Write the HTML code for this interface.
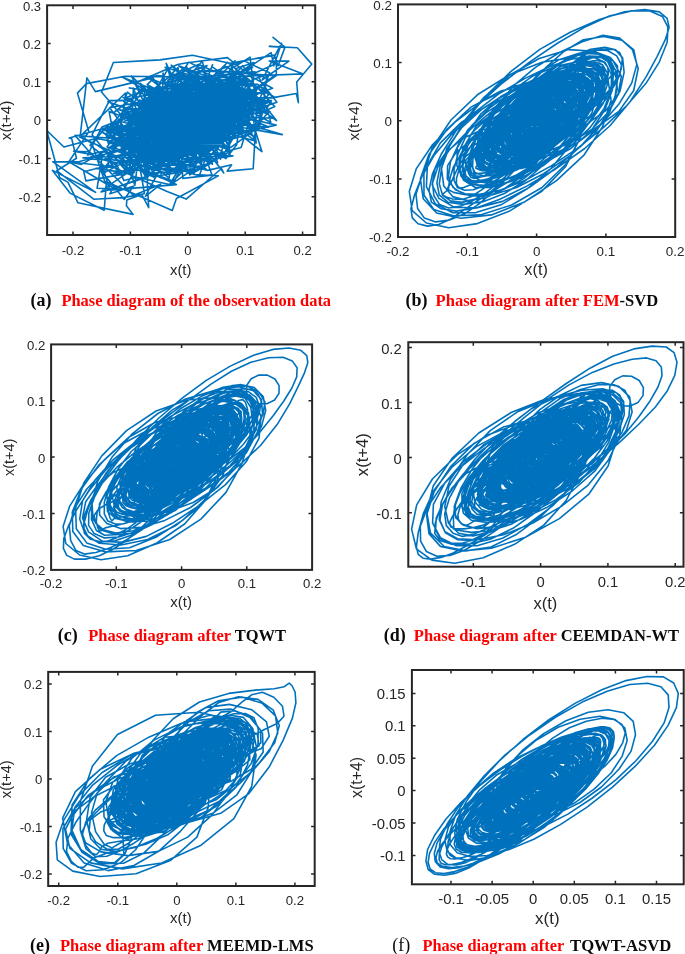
<!DOCTYPE html>
<html lang="en">
<head>
<meta charset="utf-8">
<title>Phase diagrams</title>
<style>
html,body{margin:0;padding:0;background:#fff;}
body{width:685px;height:954px;overflow:hidden;}
svg{display:block;filter:opacity(1);}
text{white-space:pre;}
</style>
</head>
<body>
<svg width="685" height="954" viewBox="0 0 685 954">
<rect width="685" height="954" fill="#fff"/>
<g id="panel-a">
<clipPath id="clip-a"><rect x="47.1" y="5.3" width="268.1" height="229.7"/></clipPath>
<path clip-path="url(#clip-a)" d="M259.8 111.7l-19.6 5.8 -1.2 10.6 -15.2 25.9 -23.3-.7 -8.7-4.2 -16 11.7 -38.8 .3 1.1-4.4 6.3 36.7 -17.6 6.7 -.4 5.6 6.7 8.7 -55.1-11.6 -10.1-20.7 -8.2-4.3 -13.1-47.6 17.3 16.8 31-8.3 6.5 .5 71.4 16.8 -25.2-21.5 12.3 4.5 -.6-19.1 -25.2-.9 32.1-.3 -6.7 14.5 28.6 1.4 1.4-2 .4-7.6 -21.6-5.5 -2.1-16.1 3 6.4 11.3-14.7 8.3-17.9 24.1 12.6 -9.7-18.3 22.1 28.4 26.8 2.6 -18.8 11.8 27.4-14.4 -42.5-7.5 -3.9-3.7 -17.8 11.4 21.7-26.7 11.2-2.1 5.6-10.6 -17.2 16.9 40.1-2.1 3.2 6.4 15.8 20.3 -25.3 8.7 3.1-5.8 -9.5-4.4 -30.5 3 -13-1.6 8.7 2.4 6.5 27.6 -4.5 17.3 2.5-2.3 -3.7-7.9 -41.3 3.5 -25.9 29.3 3.5-21.2 11.7-6 -5.2 15.9 -43.9-14 31.8-14.6 8.9-20.2 -23.7-4.4 20.9-6.6 21.9 1.4 30.3 7.8 6.5-17.4 10 16.1 -2.2 7.4 -11.6 3.6 26 4.5 -24-9.9 -11.2 7 -5.3 7 -6.7-15.1 14.7 1.5 -10.5 2 -10.4 13.9 22.5-7.3 -2.1-14.8 -3.1 7 -20.9-9.4 11-9.1 22.2-.2 -10.5 30.4 14.1-.6 13.7 16.3 .3-8 -45.6 1.8 .9-.9 -24.5 3.8 12.1 1.5 -2.7 4.1 1.3 4.4 -5.8 7.7 -2.2-11 -6.1-18.2 -6.7 13.3 -11.4-7.4 16.4 12.4 27.3-4.6 -19.9 9.8 11-4.8 -18.4-11.3 6.8-28.8 -14.7-23.4 7.2 7.8 16.9 4.2 43.2-5 35.1 18.3 -11.6 .6 -6.4 1.3 7.5-1.4 -27.4-3.6 -1-18.7 -1.8 6.5 2 3.4 5.4 1.5 28 10.1 -9.7 11.6 -5.1 25.3 -2.3 13.9 -15-36.3 -17.5-2.2 -38-30.3 -20.8-2.4 54.5 7.1 3.3-1.7 45.4 30.8 3.6-14.9 -10.7-8.4 2.6-20.2 -46.1-7.4 22.3 3.7 12.6 11.7 30.2 12.2 11.1 3 -5.5 9.8 -17.6-15.5 -18.3 30.2 -4.5-9.7 -14.6-1.2 23.2 14.6 -45.2-10.8 14.5 4.2 1.8 16.6 -22 3.7 16.2-17.4 -6.2 7.7 -24.9 13.1 -5.5 1.7 26.1-6.3 -11.6-20.6 -19.6 4.7 -2.5-20.7 9.4-10 30.8 16.2 -7-19.4 31-4.7 15 22.1 -24.3 3.4 29.1-26.7 7-7.6 -33 4.5 -5.1 3.1 40-1.1 11.3 26.8 -6.8-9.7 -4.6 13 1.6-11.3 -40.1 20.6 14.6-2.2 -19.5 1.2 16.9 27.3 -30.9-1.3 3.4-5 -1.9-16.8 -40.8-3.1 1.9-9.7 7.5-6.9 25.1 7.5 4.7 18 14.6 19.2 10.2 6.9 -11.2-28.5 -27 10.1 -28.7-11.2 -10.4-19.3 42.8 12.3 -15.1-3.4 16.7 11.7 28.9-10.4 -18.4 3.7 5.1-19.7 -17.5 1.2 15.5-17.3 -5.6 6.6 29.7 1.2 -1.9-7.7 26-8.3 -9.9 19.2 -1.9 16.7 11.6 7.2 12.4-7.9 -28.8 2.6 -24.9-20 -10.8-15.1 11.8 34.7 -3.9-5.4 30 16.6 22.6 .7 -52.1 11.3 8.1 14.4 -24.8 7.1 -1 12.7 -17-13.4 -21.6-23.3 -10.6-.2 -19.1-9.8 20.2 13.2 34.8-7.3 .4 24.6 14.7-7.7 -19.8 .5 11 14.9 -36.9-27.1 11.4 7.1 -.7-36.1 -22.3 10.7 40.6 7.4 -10.6-.1 54.1-4.7 -16 4.6 -11.2-20.7 .2 17.8 7 12 -6.8-3.5 31-11.7 -26.8 4 -17.9-2.2 5.3-12.8 17.5-1.3 -6 6.6 3.2-9.4 19.3-16.1 1.9-9.8 -9.8-8 14 17.4 24.1-4.9 14.7 13 12.1 15.2 -26.2-21.1 7.4-20.9 -19.5 14.8 -22.8 26 31.6 17.1 31.4-2.4 -22.2-15.2 -39 12.5 -25.6-23.9 3.7 9.7 22.7-3.3 -18.8 3.2 35.9 12.1 -14.5-11.9 4.8 9.5 -4.8-13 -18.1-3.8 17.8 13.5 -14.2-3.8 19.5 1.2 5.7-6.3 -20.2 3.3 5.6 25 -1.8-8.3 9.5 22.5 -5-14 -37.4-14.2 12.4-21 -33.7 .5 21.1-13.3 21.1 13.8 31.6 4.8 -.8 24.9 20-10.2 -20.8-18.8 -7.1 11.7 -37.4 4.6 15.3 17.3 28.2 7.5 -17.5 23.3 -6.9-28.2 -25.9 .2 -11.3 6.5 -34.8-17.3 42.1-19.9 -.3 6.3 -9.7 4.2 25.9-18.4 29.9 37.7 -9.5-13 -6.3 20 27.6-2.6 -56.5 15 19.5 10.6 -30-23.2 3.9 2.7 -22.5-19.3 -15.8-5.4 34.7 30 -4-30.7 28.9 8.2 8.1 15.3 -45-4.9 46.1-16.8 -12.3-10.3 -23 10.2 7.3 11.3 25.3-14.5 15.3 14.3 -15.3-20.3 -16.9 9.4 21.8-26.5 -21.4 3.7 30.3-3.4 -14 1.9 39.7-7.2 -5.6 6.3 5.2 1.6 -2.9 9.8 10.8-17.5 -9.4 18 -2.4 19.5 -14.7 1.5 26.2 1.6 -27-8 -29.2-19.2 -2.2 2.6 -2.4 9.2 11.9 5.8 28.8-27.4 -3.9 30 -13.7-14.4 -8.7-12.5 41 11.1 -45-2.8 21.6-10.9 18.7-5.2 -16.6-15.2 4.2 6.5 16.3-14.4 7.8-5.7 22.8 14.1 -9.7 4.7 21.6 1.2 8.5 8.5 -21.2 22.8 -7 6.2 -1.8-1.1 -12.7 18.1 -34.2-21 -9.2 6.6 1.5-19.8 -27.1 21 31.6-21 -10 24.5 29.7-2.8 -31.4 11.4 31.5 17.9 -36.8-25.7 4.1 13.3 -17 4 -26.8-18.5 38.6 19.8 -20 2.5 -6.1-2.4 27.8-37.5 -29.7 16.8 -3.8-9.1 3.6 11.9 56.2-3.2 -25.1 7.6 13.6-.5 -17.8-1.5 4.8-33.9 -11.4-1.7 .7-26.5 2.2 11.4 50.9 1.4 2.5-.3 39.7 7.8 -17 7.2 -2.2 14.8 .6 15.2 -11.8-4.6 -10.7-3.8 -22.2-4.5 -22.8-7.8 6.9 20.8 5.7-3.9 6.7 15.6 11.7-5.6 -31.1 1.4 5.7 2.7 -23.3-12.2 8.3-10.9 -2-18.2 -4 3.3 18.2 .1 16.3 4.3 27.3 39.7 -5-.7 -.1-16 -6.4-26.7 -59.4-2.5 .9-5.2 24-12.7 40.1 24.1 3.7 11.3 7.8 20.2 19-5.3 -36.2 13.3 -16.9-21.7 -30.2-16.9 8-21.5 -20 8.6 32.5 9.2 25.3 7.1 32.3 2.1 -12.9 12.5 -13.7-.4 -10.7-14.6 -3.2-9 -18.7 2.4 .5 1.3 21.9 13 13.6 4.1 -3.7-9.6 -1.9-5.3 -19.4-9.4 -6.2-1.9 14.3 3.4 8 5 14.1 14 2.8-17.5 -5.1 6.6 -7.5-17.9 -20.9 26.7 26.2 11 -9.9-16.2 26.9 6.1 -40.1 12.6 -16.5-7.9 24.4-1 -9.2 8.9 -18.9-17.2 11.8 11.7 1.6 2.2 -13.4-2.3 25.7-12.4 -17.4 28.7 -3.4-13.5 3.4 4.3 18.6 2.2 -42.9-30.3 20.2 9.1 -6.5 7 -3.2-9.6 45.3 6.8 -13.6 17.5 -10.5-23.2 14.3 22.2 -10.1-6.8 -26.2 13.1 34.7-6.1 -33.2 20 10.2-4.1 -19.7 18.4 9.2-11.4 -30 4.2 6.1 .8 -27.5-1.8 17.1 2.9 -6.4 2.9 -1.1-5.1 2.6 10.2 -4.3-7.1 -4.3-2.8 7.7 11.3 -15.3-18 10.6-25.2 4.2 1.4 -17-22.7 27-5.1 37.7-6.1 -1.9-9.8 34 3.8 7.6-12 9-3.3 14.8 10 -5.8-16.9 18.1-11.3 4.9 39.3 -14.9 27.9 25.2 5.1 17 5.2 -58.8-10.3 -42-15.2 -7.6-19.1 -7.7-26.7 15.3 33.1 22.9-12.5 28.5 32.5 40.2 1.9 -49.6-2.9 18.6-2.9 -48.7 24.6 -2.8-5 4.3 4.1 4.3-8.3 -36.9 7 7.6-3.8 -6.2 17.4 12.5-13 -10.5-12.7 5.7 12.9 -26-29.3 19.4-2.8 19.1-3.3 -19.4 4.8 43.9 15 4.2 27 5 15.6 -7.2-20.7 -22.5-13.2 -40.5 .6 -23.4-19.2 31.1-3.3 19.8-4.2 -1 20.5 28.8-.1 4.9 11.6 6.4 6.1 -30.7-18.1 .1-4.9 -17.4 19.1 -9.2-27.1 27.2-4.1 7.3 3.5 -28.6 15.5 40.6-7.9 6.1 2.7 -5.2 .9 -23.3 4.3 12-11.2 -4.1 1.7 -1.4-6.8 -6.4-2.3 16.8-3.4 -2.6 8.5 10.2-4.8 3.5 6.9 5-33.9 -12.7 23.6 7.2-5.7 -10.3-9.7 50.8-3.6 -35.4 32.6 8.5-1 14.5-6.4 5.5 25.4 -48.9-16.2 1.5-8.4 9.6 17.8 -38.1-20.5 24.3 22.1 12.7-10.4 -26.7 21.8 30.6-8.2 -33 14.8 15.6-1.4 -32.7 7.1 12.3-32.7 -22.3-.1 2.1-19.3 -10.6-12.2 49 20.2 .2 21 28.9-24.4 18.3 3.2 -30.3 15.4 -31.5-7.2 36.6-11.9 -4.8 27.1 -23.1 20.7 10.8 6.8 17.9-5.4 -40.7-10.4 -31-9 -10.2-2.6 8.1-6 15.6-9.2 13.5 16.9 3.9-3.3 8.9 13 13.8 1.9 -25.2-6.2 4.8 18.1 -19.4-29.6 -2.8 11.7 9.2-9.7 -27.1-9.9 44.3 9.8 -17.4 1.8 14.5 0 14.8-12 -14.6-9.9 -2.7 2.5 -.1-11 18 5.4 14.9-21.8 -3.8 23.6 16.4-.3 -8 24.8 32.6-3.8 -35.3-21.4 .4-1.5 -37.1 9.6 5.7 23 32.1-11.3 2.2 21.8 -14.3-5.2 -34.5 13.6 16.8-8.7 -32.6 0 7.8-52.9 -20.4-20 13.1 27.5 0-17.2 79.2 18.2 30.1 22.3 -41.3-13.8 25.8 18.2 -27.3-28.5 -33.5-.1 20.8-17 -27.2-20.5 42.6 45.7 .1 3.5 25.5 1.3 30.7-4 -68.5-8.8 -5.2-31 -2 5.1 6.1 5 13.2-3.3 46.4 20.9 -7.6-1.5 -7.6 1.8 5.1 8.7 -31.3 4 2.1 11.1 -2.6 24.5 -13.2 11.8 -5.8 15.9 -16.7-5.3 -36.7 3.3 -17.8-18.8 -23.7 3.9 7.8 3.4 -4.8-6.8 28.1-13.7 -5.9 11.6 -5.1 20.4 10.2-10.4 20.6 14.3 -17.4-8 -30.6-31.1 15.6-21.7 -21.3-24.9 11.9-29.6 46.6-2.6 32.5-4.6 37.4 8 44.4-8.2 3.8 10.6 6.9-18.6 -12-9.7 12.3 10.1 -15.9-1.1 27.9 1.3 14.5 16.4 -15.1 17.9 1.7 20.6 -2.1-9.1 -24.5 4.4 -26.8 0 -30.9-11.5 13.7 1.1 -6.7 7.2 .1 12.6 17.3 25.5 -1.8 11.9 -10.8 13.9 -18.9-11.9 -38.2-8.2 -17.8-.5 -20.9 10.8 17.9-13 12.3 11.7 .8 .4 -16.2 19.3 19.5-19.2 -17.6 4.4 -.6 24.2 -28.9 10.4 28.7-9.6 -6.5-11 -36.3-15.1 -15.6 3.7 14.4-28.1 16.6-6.4 22.5-26.8 -5.5-10.9 42-18.3 9.6-1.7 40.2-5.2 16.4 13 27.3-17.9 2.7 13.2 7.7-22.7 -19.4 36.8 26.8-18.9 -19.7 0 34 12.8 -55.2 2 28.4-12.3 -.1 12.1 -19.2 13.1 -3 6.6 18.4-7.1 -18.1-9.9 -19.7 27.6 -9.8-6 10.6 2.1 14.9 21.5 -41.5 12.8 9.2-9.9 -3.3 11.5 -32.2-13.3 -19.1-8.1 14.8 12.1 -17.2 17.4 19.8 23.8 12.3 .9 -18.3-5.5 -26-18.7 -35.6-18.8 -1.5-1.6 8.4 2.8 28-3.4 28.2-1.2 2.3-7.5 -4.2 8.2 5.1-27.5 1.8-2.9 11.2-2.9 -12.3 32.5 41.2 15.1 4.4 9.1 4.4-9.7 -48.7-7 -22.6 9.8 -13.6-7.2 14.5-18.2 10.5 .4 -14.8-4.3 10.8-15.8 27.3 2.9 -.6 13.2 6.5 12.3 23.6-2.3 -4.3 22.1 -19.7 6.2 -18.5 1.5 3.4-24.1 -33.1 1.9 -9.2-26.1 -2.3-4 36.1 12.9 -2.9-18 39.2 26.2 6 1.7 -19.4 5.6 27-14.3 -39.3-1.6 -2.6 .4 -8.3-3.6 21.5 1 2.3 29.2 -.6 4.8 5.4-.3 -1.5 1.9 -43.7-17.2 -7.2 4.2 .5-15.1 -2.9-10.8 25.7 14.5 -6.2-9.8 22.5 38 16.2-9.7 -21.7-4.2 14.6-6.5 -56.9-16.9 14.6 23.7 6.3-24.6 9.8 8.1 25.2 32 -35.4 4.9 36.8-17.9 -12.1 9.7 -47.9-16 -7.4-3.9 26.8 22.1 -14.5-20.4 24 9.4 5.7-32.8 -33 12.4 30.5-6.7 -14 13.2 49.1 15.1 -18.5-4.2 9.9 9.4 -19.8-6 -22.5-26.3 6.3-24.4 -14.2-11.1 9.1-2.7 39.4 7 36.6 7.5 16.6 4.3 4 11 -10.5-29.6 -11.3-5 -6.3 11.9 -16.5 19.6 44.4 25.8 7.4 23.6 -17.9-14.1 -29.2-40.7 -38.8 8.1 -35.3 15.1 21-5 61.1-18.6 -12.1-11.1 -22.7 .4 7.5-3.4 27.9 12.5 16.6 13.3 -.6 2.5 5.2 13.3 -18.8-6.2 -19.9-11 -3.8-5.1 -20 11.8 9.3-8 16.6 38.1 7.6-.9 -17.7 17.6 12-1.4 -57.1-.8 1.3 15.9 -26.3-37.5 2.1 35.3 1.2-24.9 -23.9-14.4 56.2 3.4 -52.9-3.5 37.3 6.7 21.7-11.9 -5.1 21.1 5.1 10.8 -9.9-13.3 17.8-11.3 -31.6-17.3 -16.2 6.3 19.9-9.9 16.9-20.7 26 1.4 -9.4-17.9 14.8 13.3 30.9-.1 -2 5.5 26.8 4.3 -19.9 13.9 .1 8 -8.1-6.4 -6.6-12.1 -20.8-5.8 -12-30.8 9.7 17.8 18.1 8.6 8.6 14.9 46.2 19.7 -26.7-2.4 -12.8 7.8 -22.4 6.9 -29.6-3.5 3.6-13.1 -11.6 9.2 -10.3-4.5 5.3 29.7 19.5 13.5 -13.8 13.3 6.8-11.5 -44.5-8.7 -20.3-4.2 -19.9-24.9 17.3-34.1 13-.2 6.3 4.4 37.3-4.7 51.1 16 .4-3.4 -6.6 13.2 6.9 6.6 -24-18.7 5.2 12 -19.9 .6 -9.8 3.7 28.1-9.3 -18.1-6.8 -.8 20.2 -5.7-8.6 14-6 10.2 6.4 -30.2 1.2 12.9-6.9 9-7 -9.6 23.5 -1.8 11.6 10.2-6 10.6-1.2 -35.3-3.1 -17.4 1.2 9 16.4 1.8-7.4 4.7-4.5 -1.8-3.8 -24.6 1.4 11.1-12.3 6.8-13.6 5.7-19 -2.1 .6 18.4 29.1 20.4-14.4 28.5 25.4 -1-17.6 -43.6-7.8 21.6-19 -38.1 7.3 26.4-7.2 11.7 14.5 28.5-28.9 -10.9-3.2 10.7 17.8 -21.7-16.8 43.3-4.2 4.8-.3 -26.7 15 25.2 6 6.4 15.8 .3 16.1 -22.4 .1 -9 18.5 -23.7-16.1 -24.2-5.7 0 6 -27.8-3.4 24.1-4.7 8.6 4.1 -9.1-1.9 5.2-22.1 7 6.3 -6.1-4.3 2.8 8.2 33.2 24.4 -9.5-3.5 6.4-.5 -12.3-20 -36.6-11 5.3 14.6 .8-4.3 30 23.2 16.5 11.7 -21.9-6.4 6.4-25.4 -34.7 2.4 -17.6-8.7 9.6-12.3 38.1 30.2 -3.6-30.3 12.9 10 18.6-20.4 -45.3 24.2 45.5-17.2 -15.1-1.7 30.6 10.8 -36.3-10.7 25.8 5.5 2.5-15.2 -16.1 31.1 16.1-7.1 -8.4-8.5 22.9 7.2 -46.6 7.8 10.5-24.8 12.8 26.5 -10.9 .6 -11.6 4.5 37.2 2.6 -39.7-5.1 -.9 10.5 -6.8 2.3 -3.9-5.8 7.6 .5 -15.7 .1 -3.4-22.6 8.7 9.5 -.8 7.6 -.1 8.6 33.9 3.7 -14.3 11 -11.4 3.5 -12.9-16.7 -5.6 5.5 -16.4 9.3 -5.2 5.6 25-14.6 -8.2-1.2 -14.1-12.2 -8.2-5.6 21.7-9.1 1.8 25.4 18.4 22.6 8.3 6.1 13.7 5.4 -38.1-13.8 -33.8-32.8 -9.1-17.9 -8.2-1.2 20.7 11.4 49.1 20.1 26.9-4.8 1.7 19.6 -16.9 17.1 -30.2-7.2 7.2-15.3 -29.4 19.1 -25.7-18.7 10.9-24.7 22.9-8.8 -28.6 9.2 28-16.3 37.1 13.1 13.1-20.3 -13.8 18.2 24.5 19.9 -19.6 6.5 30.3-10.4 -27.3-9.4 -29.7 15.4 -9.8 5.9 15.6 7.9 14 12.2 -22.9 12.8 -8.9-20 -11.8 12.3 -18.4-1.5 -19.1 2.7 29.8-5.8 -18.4 16.2 2.3-8.3 -4.1-7.9 8.8-.8 -24.3-10 12.4-18.5 11.9-2.6 1.1-6.4 15.1-10.8 27.7-32.7 3.9 .8 9.6-14.7 16.1 8.2 49 2.6 -1.2 9.6 22.1 24.1 -12.3 5.5 -3.9 18 -14.4 2.4 -36.2-12.7 -8.2 11.4 -26.9-20.7 -3.6-8.9 19.1-11.5 -17.1 35.9 30.9-5.6 13.4 34.5 17.3 1 -53.9 7.6 8.4 8.1 -51.7-11.2 -1.5 11.1 -11.4-6.9 -12-10.8 16.6-6.2 -16.5-26.2 10.3 5.8 16.2 2 9.2-1.5 39.4 13.9 -8.7-.3 -3-24.3 2.1 4 -20.8-12.7 .5 14.4 36.4 16.9 -6 19.5 19.1 .1 -21.6 7 -25.3-2.3 -29.2-34.2 -.2-6 -10.4-2.7 3.3-6.5 51.3-16.3 9 14.2 4 12.9 9.7-3.6 24.5 4.3 -21.3 16.3 -19.3 1.6 5.4 4.4 -6.5-17.6 -24.5 23.3 -2.2-2.3 -6.7-15 26.4-.5 -35 7.8 3.6-16.5 22.3-6.6 .8 5.2 -11.6 1.6 24.7-13.7 9.8 .3 -7.7-12.7 -2.5 0 20.6-9.9 -.5 23.2 19.1 12.2 0 .9 14.9 11.1 -34.8-28.1 -18.4-14.3 -1.2 20.5 -16.7-10 42.1-.6 21.4 14.9 -30.6 4 14.9-6.1 1 8.8 -22.5 4.2 -5.9-22 9.2-17.9 -13.3 15 -6.2-2.4 32.9-28.3 26.8-2.3 -22.4 6 3.6 26 42.4 6 3.4 30.5 -9-18.9 -39 7.9 -8.9 6.2 -45.7-14.5 28.2-9.3 -11.7-3.2 -9.4 8.2 21.8 21.3 14 8.6 4.7-14.5 -12.2-15.2 -31.9 2.4 -12.9-21.6 21.7 13.8 22.7-6.8 -3.5-11.9 32.2 16 -20.5-10.5 10.1 5.5 17.9 2.8 -24 6.6 15.8-6 -8.3 12 -4.3-36.2 -9.9 16.4 9 6.8 -17.9 14.7 54.3 2.7 -24.6 17.3 -10.2-18.1 -22.1 10.6 -4-5.6 -25.9 18.7 27-4.4 -15.8-4.6 8.3 14.2 -27.9 .7 6.6-8.4 6.8-1.2 -21.2 3.7 -1.1-1.9 12.7 13.9 1.7-1.9 -5.6-6.2 2.9-12 -20.9-1.9 2.9-24.5 9.4 10.4 17.9-24.4 2.9-17 36.7-7.7 -15.6 34.4 36.5-1.3 25.6 9.2 11.4-10.7 -51.5-15.4 1.9-8.4 -13.7 .1 16 2.3 23-3.5 12.7 13.5 -.2 19.1 -3.5-4.1 5.3-11.2 -20.3 1.2 -28.6 18.7 6.2-9.9 16.8-5.6 -1.8 5.6 -28-6.4 14.8 20 8.3-13.7 -8.3 30.9 9.5 4 -29.8 2.5 20.5 18.4 -46.4 3.9 -6-19.2 -3.7-10.5 -27.6 4.8 -5.8 3.7 28.8-35.4 15.8-1.2 -7.2 7.9 -5.6-6.7 53 6.2 1.8 7 -11.9-42.2 10.1 7.6 -9.2-18.2 -10.6-7.6 63.3 23.6 -11.4-6.8 27.2 1.7 11.4 8.6 -35.3-.9 10.2 1.2 -2.5-8.1 -12.9 5.8 1.3 15.4 -1.8-13.8 12.1 16.6 -8.6 10.9 -23.1-15.1 20.7-1.7 -25-.5 -16.3 3.5 22.6 23 2.6 1.9 .8 9.1 -5.3 .7 -34.5-17 -2.9 11.3 -13.5 2.1 -1.1-12.7 25.6 21 -17.1 2.4 -3.1-12.6 19.1 8.9 -31.6-5.5 -3.5-11.4 18.8 7.6 -13.3 14.1 8.3-2 17-.3 -11.4-41.6 -21.1-2 2.9-4.9 .6 4.1 62.3 20 3-10.6 7.3-4.2 -6.1-9.2 -29.9 18.3 15.9-11.5 6.2 5.7 13.8 12.6 -27.5-11.1 17.3 3 -8.6-19.2 -18.8 1.4 16.6 23.6 -4.5 13.2 28.9 38.6 -2.3-4.5 -35.3 30.6 -19.7-7.9 -57.9-26.1 6.7 2.1 -45.9-5.4 11.9 2.6 39.1-21.9 -3.2-15.9 8.2 24 -4-21.8 32.8 6 23.9 25.9 -36-13.2 32.7 4.1 -9 4.4 -38.8 16.9 19.8-20.9 -6.1 10 -6.7-16.7 -25.2-3.9 31.3-12.2 -15.1-12.1 25.1-8.8 5.9 8.5 18.3-30.6 18.1 10.4 13.2-1 -12.8-.3 45.9 18 -15.5 7.1 1.3 15.7 .6-7.9 -27 3.9 -10.7-26.4 -23.6 23.3 12-23.2 -5.9-8.5 39.5-3.3 -34.8-8.8 34.7-9.7 12.8 30.1 4.8 1.9 13.2 10.1 14.7-11.5 -45.2 24 -2.8-9.6 -15.2-3.9 17.3 1.7 -36 17.7 14.4 5.5 5.8 12.4 -2.5 8.3 -26.6-12.6 -8.2-7.5 -18.6-24.2 -12.4 3.2 18.8-6.8 11.3-9 36.3 23.8 -4.9-11.7 10.2-7.9 13.6-20 -35.7-14.7 17.5 16.6 11.9 13.5 29.9-3.4 22.1 .5 -25 14.4 -20.1-11.8 5-8.4 -.6-4.3 -21.7-10 17.7 26.3 12.5-1.8 6.5 4.6 15.1 1.3 -39.5 14.2 2.7-3.5 -6.9 12.1 -2 3.9 -21.2 11.7 5.2 13.1 -18.1 1.1 -5.8 .2 -17.6-3.5 -19.5-1.1 -1.8-21 -.3-13.2 5.3-29.5 1.7-4.6 31.3 24.8 19.8 11.9 44.4 5.4 6.8 15.8 -37.2-13.8 -17.8-16.9 -8.2 5.7 -23.5 14.2 20.6 10.2 25.4-18.7 -8.7 39 -21.2-20.2 -15.4 14.6 28.1-27.9 -58.5-23.3 30.4-24 -21.9-12.1 41.8 16.6 34.9 20.7 35.9-37.4 18.2 5.7 -24.9-20.2 -30.9 29.9 55.9-25.1 -8.4 6.3 30.2 2.4 -44.8 29.4 37.6 8.3 -9.4 10.9 -3.7 12.4 -44-27.6 -12.4 11.8 -16.4-10.8 -18.5-8 41.3 6.3 -17.6-10.6 16.1-3 12 27.3 -9.5 17 15.9 1.7 4.5 4.7 -40.8 3.8 -25.6-11.8 -2.4-5.2 -7.2-9.5 -5.7-18.4 17.7-2 7.8 6.7 14.3 .7 27.5-6.3 3.1 .6 -10.1-17.6 -1 2.1 9.4-24 -.9 1.9 26.4 17.3 -3.1 18.8 35.8 19.8 -2.7-10.1 -26-23.4 -28.2 8.4 -29.6 11.1 15.1 5.7 35 15.6 -12.5 4.6 -16.7-13.9 -8.5 32.6 -23.3-27.3 -7 15.6 20.9 3 -48.9-5.2 41-15.6 -23.5-.2 -4.4-32.5 7.8 28.6 23.4-4.3 .2 18.6 48.7 17 -42.8 22.7 6.4-21.3 -27.9-12.4 -25.4-26.4 -34.1-11.6 31.9 11.4 18.6-10.8 39.6 8.4 17.4-14 -17.1 10.2 16.1 7.8 -12.5 17 21-8.6 -15.3-14.7 -11.6-17 -25.6 25.5 12.9-12 22.1 21.8 25.4 2.9 -38.1 10.9 18 7.7 -32.8 6.2 -4.3 2 -16.4-.9 -11.4-16.6 -9.4-.9 -2.9 5 1.2-24.7 24.9 8.1 1.4 12.1 -7.6 3.2 37 6.9 -12 3.4 -18.2-23.4 -4.7 19.8 -10.4-37.2 -5 1.6 34.9 25.4 -29.5 10.3 55.6 14 -2.3-27.8 -38.1-20.1 -15.4-10.2 -21-4.8 41.6-8.4 30.1-22.3 15.4 6.4 7.2 15.8 12.5 21.8 33.4-5.3 -9.5 22.1 -23.7 17.4 -32.6-3.3 7.8 10 -33.1-1.3 -26 24.6 4.9-19.3 -15-12.6 2-13.6 -36.9-1.6 29-5.3 18.8-4.1 20.3 18.3 2.6 3 7.9-25.3 6.1 4.1 -27.5 2.7 -4.5-13 38-4.7 -6.1-16.6 -4.2-6.1 19.6-21.9 7 29.4 24.9 23.6 9.1 3 32.8 7.9 -44 8.9 -35.4 15.8 -4.5 6.8 -11.8-28.6 -13.4-.4 -23.6-27.5 -10.2 16.7 42.9-22.9 .5-3.9 41.3-2.9 -25.1 9.6 34.4 1.2 5.8 2.4 4.3-4.7 -14.3 15.6 -1.8-2.2 -3.7-6.5 7 2.7 -23.3-.8 3.4 9.6 9.7 9.8 -4 7.3 1-13.1 -14.3-20.6 -14.7-3.7 -10.9 19.9 19.6-10.3 30.9 6.2 5.6 .6 -29.9 19.8 15.4-20.7 -9.2 13.8 -.9 3 -29.8 18.7 31-.5 -20.6 2.4 -4.5-27.2 -28 4 .7-20.8 -3.5-1 40.7 9.8 -6-10.7 31.3 23.5 1.4 12.5 -14.7-10.2 16.1-17 -35.2 11.5 -18.8 8.9 15.2-5.4 25.6-.7 -17.3 5.8 -13.3-24.9 8-23.5 1.2 33.6 -8.7-26.4 37.2-4.3 35.3-.5 -50.3 16.2 39.5 12.3 6.4 2.4 .8 15.9 -24.4-10.3 -18.4-2 -3.5 19.3 -23.8-.3 15.4 11.1 2.9 2.6 -28.8 2.7 .4-5.3 -16.6 7.9 -4-29.4 -4.1 36.4 8.1-33.3 -11.8 16.1 44-3.3 -54.5-3.5 49.8 1.6 -24.1-11 4.9 8.4 5.3 5.8 -2.4 25.3 16.5-17.6 -12.6-15.2 -8.7 15.4 -38-18.1 26.5 1.6 22.7-20.6 -23 2.3 27.1-47.4 -2.4-2.4 30.9 9.9 -3.5-2.5 71 28 3.6-28.1 -14.8 5.3 3.7 13.5 -41.9-1.8 42.1-1.8 -8 6.9 -20.2 21.6 2.7-23.4 2.7 10.2 -10.3 10.4 -32.4 16.1 35.2 22.6 -15.3 8.7 -15.7 5.3 -24.2 16.6 -33.8-7.5 -13 3.4 -7.9-17.7 -24.9-6.3 11.2-.7 -5.2 32.3 26.6 1.3 9.5-16.2 1.1-1.2 -48.4 8.8 -2.1-9.1 24.3-6.4 1.9-14.7 -13.2-5.8 13.6 9.1 9.5 3 22.2-8.7 8.5-12.2 -13.6-9.4 -4.4-3.1 13.1-29 18.3-13.2 14-13.8 4.7 21.9 43.3 11.3 19.9-9.8 20.6 11.3 -32.7-12.7 -17-6.2 14.6 19 -16.9 9.4 19.1-9.7 9.3-7.2 -28.5 8.9 -14.1 12.6 14.6-9.7 10.7 11.9 -13.4 1.3 -18.8 7.4 14.6-3 -17.8 11 -2.1-14.1 -11.1 36.4 4.6-6.8 -16.5-4.9 21.2 21 -54.6-15.4 10.2-.7 7.3 17.9 -31.5 4 23.1-5.6 1-16.3 -26.7-8.2 -6-31.2 8.4 3.4 24.3 3.4 12.4-3.5 46.8 4.3 -5.2-3.7 -5 9.4 5.2-6.2 -6.5-14.5 5.6-9.1 -14.1 17.7 9.3 3.4 21.8-16.2 13.6 28 -26.6 2.7 -5.1 44 24.3 1.4 -41.9 22.6 -4.1 11.9 -65.9-28.7 -2.2 28.6 -33.8-16.9 -17.9-23 43.1 21.9 -42.9-30.6 25.3 .2 34.6-9.8 -33-15.2 45.9-43.9 -.3 5.1 14.7-6 22.7-5.1 65.9-4.4 -7.7 1.8 9.1 24.3 7.6-4.7 6.6 19.5 -2.7 .7 -36.5 31.3 7.1 19.6 -29.2 3.3 -1-15.9 -46.9-6 -29.5 15.6 -4.9-2.1 23.8 29.5 9-13.3 -23.4 7.6 3.1-6 -44.1-26 19.9-30.2 -11.4-38.5 9-9.5 39-7.4 45.2 .6 57.8 5.6 14.2-16.7 11 14.6 -.8-2.2 -8.5 25.5 25.1-1.9 -21.9 11.7 3.4 20.1 -38.3 11.3 2.9 3.7 -17.6-10.2 -30.1 18.1 -16.9 29.3 -5.5 10.6 15.2-12 -27.2 11.1 -43.8-43.7 -16-.4 18.1 3.2 -16.7-19.1 65.6 5.3 .5-17.7 -4.8-3.8 28.7 8.6 -8-25.7 26.5 16.3 5.8-20.3 -12.9 19.1 38.4-19 -24.3 13.7 30.3 .1 -28.6 12.8 28.5 18.1 -20.6 3.5 -.1-18.6 -19.1 44.4 -27.2 4.3 -5.2-4.8 27.8 12.9 -66.4 5.5 -6.6-20.6 7.2-9.9 -19.3-.3 -8.3-1.5 30.9-1.3 14.9-3.8 .4-15.8 2.3-7.1 2-41.8 5.6 15.6 23.8 21.5 10.6-15.5 62.6 18.6 -23.4-19.4 -32.3-1.5 23.3 18.1 -27.9 6.4 29.1 24.5 2.2-6 -27.1 6.2 -9.6 .7 -36.6-12.8 9-6 -9.3 .8 -1.1-4.8 19.1 12.9 9-.5 -1.1-2.5 7.1-9.8 -19.3-8.7 .8 5.7 3.7-17.4 14.7 8.6 13-10 -8.4-10.3 26 3.5 -12.9 3.3 15 33.5 15.4-21.7 -5.2 17 -5-15.7 -50.2 19.8 32.5 7.4 -25.5-20.5 23.6 .6 -29.7-20.9 -11 12.3 30.7 22.9 -1-25.9 31.4 29 -18.5-44.4 -34.3-5.8 38.8-12.6 -43.4 4.7 66.5-.1 8.7 18.8 18.9-2.7 -7 4.2 .1-5.6 -28.1-9.3 3.9 .2 -6.2 15.8 8.4-8.9 13.9 2.7 -.3-3.8 -23.6 .6 13.2 9.2 -3.9 .6 5.7 13.9 -1 13.3 -13.8 3.5 -.9 14.4 -20.8-26.5 -19.9 27.8 -5.3-35.3 -21.5 23.8 39.6 25.1 -41.6-7.1 52.9-14.1 -35.6 9.4 -37.7-8.9 10.6-11.9 21.1-.2 -14.1 16.1 13.4 9 17.8 8.6 .3 6.5 -24-11.2 -13.5 8.6 -13 8.8 -9.7 7.7 16.7-4.4 -12.9-5.7 -13-38.3 -11.6-8.2 6.6-57.4 8.5 13.7 57.4-13.7 12.3 14.3 86-1.1 -20.6-6.7 20.7 14.6 -21.5-8.6 1.7 6.9 10 17.8 -21.9 .2 12.9 11.1 -10.4 17.6 -26.6 .1 -.4-23.5 -16.5 6.4 -26.4-8.3 -.3-12.4 35.3 22.4 -9.5 7.9 12.3 6.3 18.7-17.3 -33.6 2.7 -11.9-17.2 -9.4 7.7 25.9-2.8 -4 25.8 25.8 .9 -11.6 11.1 4.2-17.7 -38.6 4.2 -1.4-6.3 -16.6-10.7 26.4 3.3 -6.2 8.2 9.5-13.9 15.9-15.8 -4.9-1.1 -12.2 1.4 20.8-16 23.7 23.7 1.5 19.1 -1.9-12.1 23.8 2.7 -35.4-.6 -28.7-9.7 18.1-7.1 -4 7.4 .9 14.5 14.6-11.6 10.7 9.1 -11.2-36.4 -21.7 19.9 17.4-4.4 -13.6 14.9 54.5 4 -29.8 31.5 6.6 8.2 -22.5 12.3 -5.9-13.6 -47.2-5.7 -12.3-9.2 -18.4-15.6 20.4-22.7 8.6 13.8 13.7 18.9 23.4-10.3 34 5.2 -20.7 6.3 -28.3-27 15.4 33.8 -7.7-14.2 -9.4-11.4 40.4 13 -50.6-17.2 21.2 20.6 17.1-17.9 -19.4-9 25.6 8.3 -30.8-.1 26.8-6.7 13.5 7 -12.4-4.1 .2-5.1 9.9-2.7 -10.4 9.8 6.1-11.7 7.7 11.3 4-16.5 -14.7-19.5 17.5-17 -16.8 6.2 24.6-.6 29.3-10.3 25.5 11.9 -9.3 24.9 .8 3.4 15.4 19.5 -17.7-12.9 -37.3 12.3 -5.2 13.3 -29.2 18 19.4 18.3 -18.5-5.1 -20 8.9 -26.9-7.1 -27.4 6.9 7.6 1.6 -13.4-14.5 10.8-17.5 -10.4 .6 -2.4-9.3 21.7-18.6 26.3 24.4 -.9 11.8 13.9-4.2 27.8 18.8 -36.6-51.1 -17.6 18.9 6.3-14.2 -28.2-10.4 76.6 15.7 -28.2 3.5 21.2 .1 15.6 17.9 -23.5-2 -5.3-12.5 -.1-5.7 -26.9-41.2 3 16.4 18.7-7.6 8.6 28.1 61.7-10.4 -24.6 17.4 11.5 9.9 -42.2 1.5 15.7-19.9 -26.2-4.3 -14.7-8.9 -2.4-13.2 29.9 2.2 6.4-8.4 13.4 1 19.7 7.9 -3.2 17.3 12.5 13.5 -1.5-9.3 -11.8-5.5 -26-31.2 -20.2-6.4 13.9-7.2 8.2-3.8 46.8 20 9.7 8.9 10.7 17.1 5.8-9.9 -30.1 .7 -13.3 8.7 -25.5-27.2 14.7 16 -1-1.2 -13 .2 40.8 6.5 -24.1-22.6 1.9 10.4 -.4 .5 -9.6-.9 33.8 29.3 -15.6 8.5 -.7 24.6 1.3 1.5 -43.9 2.3 -12.7 23.7 -36.9-14.3 -2.3 18.2 -3.5-11.8 -35.5-5.2 21.6-1.9 -27.3-21.2 17.6-19.7 7.8 7.9 2.8-5.4 31.9-11.6 29.4-29.7 -11.8 22.2 8.1-6.6 17.4-9.6 44.5-1.5 -33.3-3.2 10-12.9 14.3 23 2.2 11.8 4.9 15.8 19.3 15.3 -34.6-9.7 -17.6 9.4 -23.6-8.7 -23-5.3 14.5-12.5 -14-17.4 13-3.7 7.9-1 18.8 16.6 26.1 31.4 5.6-15 1.4 5.4 -24.9-6.2 -47 13.2 22.5-10.3 -8.2-17.2 9.3 23.2 -19.7 10.9 15.4-.5 25.8-.9 -34.8 21.3 -16.4-2.8 .9-25.3 1.2 4.8 -31.9 6.2 4.3-6.1 37.8-7.6 -7.1-10.9 -9.4-24.5 9.2 3.9 11.5-21.8 16.3-12 36.6 19.6 -5.9 15.8 32.8 3.6 18-3.6 -29.4-7.1 -23.7 7.5 -5.4 6.4 5.4-.1 10.7 9.3 -11.4-14.9 -9.5 1.6 .2-6.5 -14-5.5 22.3-3.4 -2.4 14.8 9.7-3.9 8.4 23.1 5-21.3 -22.2 40.5 5.9 3.3 -34.6-22.6 31.9-23.4 -60.7-21.6 -5 5 33.9 17.8 35.1 10.8 32.3 10.3 -7.4 23.9 -26.7 7.1 -16.2-2 -15.4-17.9 -35.9 .4 -10.6-20.6 3 2.2 26.9 31.1 -.6-9.4 30.8 5.3 -3.3-31.7 -46.6-3.4 14.1-21.4 -8 9.6 47.5 2.6 5.2 3.8 32 14.4 -14.3 3.3 -4-14.7 -5.7 2.5 -21.5-10.7 -4.9 19 22 26.7 -3.8-12.2 16 2.7 -28.4-14.2 -40.1-1.4 18.3-6.6 -4.1 7.4 21.4-8.3 2 12.7 10 13.7 -11.1-15.3 12.4 5.5 -19-33.7 -20.5 5 22.9 7.2 -8.3 7.5 50.5 11.4 -7.4 8.8 -10.9-2.8 -11.2-13.5 -17.1-37.5 -13.1 3.3 4.2-9.2 20.2 2.4 56.1 17.4 -4.9-3 13.8 16 -3.6 61.8 -26.1 2.4 4.5-6.3 -23.9 5.6 -92.7-26 -3.6-3.7 9.5-3.9 -8.4-13.2 39 14 5.5-.3 5.8 10 19.8-17.2 -20.9-10.1 .4-15.6 -15-13.4 25.8 15.1 15.1-30.1 23.3 12.4 20.2-5.3 -22.6 10.4 45.1-30.9 -18.7 6.1 8.1 14.4 -15.7-10.9 46.3 24.6 -9.1 1.7 -21.6 22.7 16.4-4.4 -36.9 12.9 -2.6 2.6 -33.9-17.7 6.5 28.3 -19.3-18.7 -3.9-8.4 26.5-17.3 -42.4 26.4 28.1-14.5 12.6-7.3 25.8 8.6 -39.5 11.2 21.7-13.5 10.9-3.3 -12.8-2.3 -16.8 11.9 20.2 16.8 4.9 20.1 3.5 11.7 -17.9-17.9 -25.2 .8 -30-1 -17.5 4.7 26.7 12.6 -1.1 19.3 1.4 24.8 -7-13.2 -18.9 3.2 -28.8 1.7 -37.3-28.6 19.8-12.4 -4.8-19.6 -2.5-.8 42.8-11.8 18.7 15.7 29.3-13.6 1.3 1.1" fill="none" stroke="#0072BD" stroke-width="1.6" stroke-linejoin="round" stroke-linecap="round"/>
<rect x="47.1" y="5.3" width="268.1" height="229.7" fill="none" stroke="#262626" stroke-width="2.0"/>
<path d="M73.0 235.0v-3.6M73.0 5.3v3.6M130.4 235.0v-3.6M130.4 5.3v3.6M187.8 235.0v-3.6M187.8 5.3v3.6M245.2 235.0v-3.6M245.2 5.3v3.6M302.6 235.0v-3.6M302.6 5.3v3.6M47.1 43.5h3.6M315.2 43.5h-3.6M47.1 81.8h3.6M315.2 81.8h-3.6M47.1 120.2h3.6M315.2 120.2h-3.6M47.1 158.5h3.6M315.2 158.5h-3.6M47.1 196.8h3.6M315.2 196.8h-3.6" stroke="#262626" stroke-width="1.5" fill="none"/>
<g font-family="'Liberation Sans', Arial, Helvetica, sans-serif" font-size="13.30" fill="#262626">
<text transform="translate(73.0 254.6) scale(0.98 1)" text-anchor="middle">-0.2</text>
<text transform="translate(130.4 254.6) scale(0.98 1)" text-anchor="middle">-0.1</text>
<text transform="translate(187.8 254.6) scale(0.98 1)" text-anchor="middle">0</text>
<text transform="translate(245.2 254.6) scale(0.98 1)" text-anchor="middle">0.1</text>
<text transform="translate(302.6 254.6) scale(0.98 1)" text-anchor="middle">0.2</text>
<text transform="translate(41.0 10.5) scale(0.98 1)" text-anchor="end">0.3</text>
<text transform="translate(41.0 48.8) scale(0.98 1)" text-anchor="end">0.2</text>
<text transform="translate(41.0 87.1) scale(0.98 1)" text-anchor="end">0.1</text>
<text transform="translate(41.0 125.4) scale(0.98 1)" text-anchor="end">0</text>
<text transform="translate(41.0 163.7) scale(0.98 1)" text-anchor="end">-0.1</text>
<text transform="translate(41.0 202.0) scale(0.98 1)" text-anchor="end">-0.2</text>
</g>
<g font-family="'Liberation Sans', Arial, Helvetica, sans-serif" font-size="15.37" fill="#262626">
<text transform="translate(180.7 274.5) scale(0.969 1)" font-size="15.37" text-anchor="middle">x(t)</text>
<text transform="translate(10.7 120.4) scale(0.97 1) rotate(-90)" text-anchor="middle">x(t+4)</text>
</g>
<g font-family="'Liberation Serif', 'Times New Roman', Times, serif" font-weight="bold" font-size="17.0">
<text x="30.4" y="305.5" font-size="18" fill="#0a0a0a">(a)</text>
<text x="61.4" y="305.5" textLength="269.7" lengthAdjust="spacingAndGlyphs" fill="#ff0000">Phase diagram of the observation data</text>
</g>
</g>
<g id="panel-b">
<clipPath id="clip-b"><rect x="398.0" y="4.4" width="277.2" height="232.6"/></clipPath>
<path clip-path="url(#clip-b)" d="M518.5 113l11.5-5.2 9.5-5 7.2-4.8 6.2-4.3 5.9-3.9 5.6-2.8 5.1-1.2 4.5 1.4 3.1 3.5 1.1 4.7 -2.1 4.3 -4.5 2.5 -5.6-.8 -4.9-4.7 -2.7-8 1.8-10.1 6-10 10.2-7.8 12.2-4.2 11.7-.1 8.6 5.6 4.5 11 -1 16.5 -7.5 20.2 -13.7 21 -20.8 18 -24.4 12.9 -24.7 6.8 -20.8 1.2 -14.7-2.9 -6.6-6.9 -.8-9.2 4.4-10 8.5-8.8 11.2-6.5 11.9-3.2 10.2-1 7 1.9 3.6 4.8 .8 7.3 -2.9 8.2 -6.1 7.1 -9.1 4.2 -9.8 1.6 -8.1 .2 -4.3-.2 -1.6 .1 -.1-.3 .1-1.7 0-3.9 .5-6.7 2.3-8 5.3-7.7 8.2-6.4 9.6-4.7 9-2.9 7.3-.9 5.3 1 3.1 2.1 .9 1.3 -1.6-1.3 -2.5-4 -1.1-6.8 1.9-8.6 5.2-9.2 8.6-7.8 10.4-5 10.9-.4 9 4.3 5.4 8 -.6 10.6 -5.8 11.4 -10.2 11.4 -12.8 10.8 -13.6 9.6 -13.5 7.3 -12.8 5 -10.9 2.5 -8.4 .4 -5.7-1 -2.4-2.2 -.3-2.1 1.6-1.4 2.5 0 2.6 1.3 1.4 2.5 -.2 2.5 -1.9 1.6 -3-.2 -3-2 -1.5-3.7 .5-5.6 2.7-8.3 4.7-11.6 6.9-13.7 10.7-13.5 14.1-10.8 16.6-6.5 15.8-2.5 12.4 .2 6.7 2.2 2.5 3.2 -.7 2.8 -2.8 1 -3.8-2 -3.2-6.6 -.8-9.7 3.3-10.2 8.4-6.1 11.9 .8 11.7 10.3 6.5 16.4 -3.1 20.4 -13.2 22.2 -20.2 22.6 -24.9 21.9 -26.5 19.4 -27 14 -25.9 6.5 -22.6-.8 -15.1-8.7 -6.7-13.4 2.7-16.3 11-16.2 16.6-13.9 19.7-8.9 19.2-4 15.6 .7 9.9 4.4 4.2 7 -1.9 9 -5.6 8.8 -8.9 6.3 -10.8 2.4 -10.3-.7 -6.7-3.2 -2.4-5.2 1.5-8.2 4-10.8 6.5-11.5 10.5-10.2 13.1-8.6 13.5-7.3 12-5.9 10.1-4 8.4-1.2 6.7 1 4.2 3.5 1.2 5.6 -1.6 6.3 -4.7 5 -6.8 2.9 -7.4 1.2 -5.7 1.4 -3.2 3.1 -1.2 5.8 -1.8 7.1 -4.3 7 -7.1 5.1 -8.6 2.5 -8.1-1.1 -5.8-3.9 -2.1-6.7 1.6-9.6 5-11.6 8.7-11.7 11.7-9.5 14.1-5.2 13.7-.1 10.9 4.3 5.1 9 -.4 11.6 -6.3 12.6 -11.2 11.5 -14.1 9.5 -14.9 6.2 -13.6 3.5 -10.6 .8 -7-1.3 -3.7-2.8 -.5-5.1 1.7-6.9 3.9-8.5 6.3-8.4 8.5-7 10.3-3.6 9.9-.6 7.7 2.1 3.9 3.3 .3 3.2 -3 3.3 -3.9 4.1 -3.8 5.7 -4 6.3 -5.1 5.3 -7.1 3.1 -7.4 1.5 -5.9 .2 -3.5-1.2 -1.6-3.1 .1-5.6 1.7-7.8 4.1-9.3 7.1-9.9 9.5-9.6 11.3-8.3 11.8-6.5 11.3-4 9.7-1.6 7.4 .7 4.2 4.1 1.6 7.4 -1.5 10.7 -5.3 12.2 -9.3 11 -13.4 6.6 -14.6 2.9 -12.2 .6 -7.4 1.1 -2.9 2.6 -.6 3.7 -1.5 3.8 -3.4 4 -4.4 4.4 -4.6 4.6 -4.8 3.7 -5.4 1.8 -5.3-.4 -4.2-2.5 -1.9-3.9 1-4.9 3.2-5.6 4.9-7.1 5.9-9.5 6.8-11.3 9-11.9 11.6-10.6 13.8-8.4 14-5.8 12.4-2.8 9.5 1.5 6.5 5.2 2.5 8.3 -2.4 9.5 -6.6 8.8 -10.4 6 -11.3 2.9 -10-.4 -6.8-2.7 -3.1-3.7 1.2-3.5 3.5-3.1 4.4-2.7 4.2-2.5 3.5-2 3.2-1.3 2.9-1.2 2.3-1.2 1.5-.7 1.3 .7 1.5 2.4 .8 1.8 -1.4-.6 -2.9-2.8 -1.9-2.7 1.4-.2 3.4 2.2 2.8 4.5 0 6.2 -3 7.7 -5.9 9.7 -7.6 10.7 -9.5 10.5 -11.7 8.2 -12.9 5.1 -12.2 1.1 -9.4-1.8 -5.2-4.5 -.9-6.7 2.5-7.7 5.9-7.4 8.2-5.8 9.3-3.6 8.6-1.4 6.7-.1 3.7-.2 1.4-1 .1-2.2 .3-3.2 1.4-4 2.9-5.5 3.8-6.6 5.1-7 6.7-5.7 8-3.3 8.2 .9 6.6 3.9 3 5.7 -1.4 5.7 -5 4.4 -7.1 2.8 -6.6 1.6 -4.9 .4 -3.1-.3 -1.7-.5 -.4-.1 .5 .8 .6 2.7 0 5.2 -1.2 7.1 -3.8 8.1 -6.4 7.8 -8.8 7.1 -9.7 6.3 -9.2 4.6 -8.3 1.2 -7.3-2.2 -4.9-5 -.9-6.1 3.1-5.4 6.4-3.1 7.2-1.2 6-.2 3.4-.7 1.2-2 .2-3.2 1.1-3.5 2.7-3.8 3.8-4.4 4.2-5.3 4.6-5.9 5.3-4.4 6.6-.7 6.9 4.4 5 8.6 -.3 11.4 -5.9 11.6 -11 9.6 -13.7 5.1 -13.8-.3 -10.6-6.4 -5.5-9.2 1.8-9.8 8.2-9.2 11.2-9.2 11.6-10 10.9-10.7 11.1-10 12.1-7.6 12.8-4.8 11.5-2.6 8.7-2 5.1-1.1 2.9 1.7 2.4 6 .9 11.6 -2.5 14.5 -8.4 15.8 -14.3 16.3 -17.6 16.8 -19 17.2 -19.5 15.5 -20.2 11 -20.3 5 -18.2 .4 -11.8-2.3 -5.2-2.7 .4-3.3 2.8-5.1 3.2-7.2 4.3-8.8 6.3-8.6 9-6.9 10.6-5.8 10.1-6.3 7.9-8.7 6.8-10.3 7.9-10 10.7-7.9 12.3-5.6 11.6-3.7 9.1-3.1 6.2-3.2 4.4-3.9 3.6-4.9 3.9-5.8 4.8-5.6 6.1-3.7 6.9-.9 6.6 1.8 3.8 4.8 .7 7 -2.8 9.7 -6 12 -8.7 13.7 -12.1 14.7 -14.6 14.5 -16.6 12.4 -17.6 8.2 -17.2 3.4 -13.9-2.3 -9.2-6.2 -2.8-9.3 3.3-11.2 7.9-11.7 11.6-11.2 13.5-10.4 13.9-8.9 13.3-5.9 12.3-1.7 10 4.4 6.6 8.4 .7 10.6 -5.8 10 -10.6 8 -12.7 4.6 -11.7 2 -8.8-.4 -5.2-1.4 -2-1 .9 .3 1.6 1.1 1 1.6 -.5 2.4 -1.3 3.8 -2.1 5.4 -3 5.7 -4.9 4.6 -6.6 2.5 -6.8 .5 -5-1.7 -2.7-3.3 -.2-4.8 2.3-6.4 4.2-7.9 6.1-9.5 7.7-9.4 9.9-7.7 11.3-5.9 11.1-5.4 8.8-6.5 6.8-6.4 6.7-3.9 7.7 1.4 7.6 6.4 3.6 9.9 -2.3 9.6 -8.7 6.9 -11.9 3.9 -11.2 1.9 -7.5 1.1 -4.2-.3 -2.2-3.3 -1.1-7.6 .5-10 5-9.3 9.5-6.2 12.1-2.7 10.6-.1 7 2 2.5 4.8 -.2 6.9 -2.9 8 -6.1 7.7 -8.5 7.6 -9.5 8.3 -9.2 8.6 -9.1 6.9 -10 2.4 -10.3-2.7 -7.4-7 -2.1-8.5 4.2-8.9 8.7-9.1 10.2-9.2 10.7-7.8 10.9-5.2 10.7-.9 9 3.8 5.8 8 .1 12.1 -5.2 13.9 -10.5 14 -14.7 12 -16.7 9 -16.5 5.6 -13.9 3.3 -10 .7 -6.4-2.4 -3.6-4.8 -.2-5.2 3.3-3.9 6-2.8 6.1-2.9 4.5-3.6 3.1-4.5 3.6-5.3 4.5-7.1 5.4-8.9 6.5-9.8 8.9-8.6 10.8-6.7 11.6-4.6 10-2.9 7.7-1.1 5.1 2.4 3.2 5.5 .6 7.8 -3.3 8.7 -6.9 9.3 -9.6 11.2 -10.4 12.8 -11.5 13 -13.6 10.8 -15.4 7.1 -15.3 2.6 -12.4 .8 -7.4 .6 -2.8 .8 -.8 .1 -.8-2.8 -.9-5.7 .4-8.1 3.7-8.3 7.2-6.8 9.9-4.6 9.8-3.2 7.6-2.4 5.2-1.9 3.8-1.7 2.7-2.6 2.1-4.2 2.2-5.9 3.3-7.3 5.2-8.2 7.4-8.8 8.8-8 10.1-5.5 10.4-2.7 9.3 0 6 3.1 2.7 5.4 -.6 7.8 -4 8.6 -6.8 7.7 -9.7 4.8 -10.2 2 -8.7-.3 -5.3-1.2 -2-.9 .8-.3 1.4-.7 .9-1.7 .4-1.9 .9-.9 2.2 1.2 2.3 2 .6 1.3 -1.7 .1 -2.4 .2 -1.2 2 -.1 3.3 -.6 3.6 -2.5 3.2 -4 2.9 -4.3 2.6 -3.7 2 -3.4 .4 -3.1-1.7 -2.3-2.8 .1-2 2.1 .1 3.4 2.9 2.2 4.7 -.5 5.3 -4 4.9 -5.8 4.4 -6.3 3.5 -5.8 2.5 -5.1 .7 -4-2.4 -2.7-4.9 -.3-6.3 3.2-5.2 6.2-3 7.6-1 5.9-1.1 2.9-2.4 1.2-3.6 1.5-4.2 3.2-4.3 4.4-4.3 5-3.9 5.2-3.1 5-1.5 4.6 .7 3.4 2 1.4 2.9 -1 3.7 -2.6 4.2 -3.7 4.3 -4.4 3.4 -5.1 1.3 -5.1-1.1 -3.8-3.4 -1.1-6.2 1.7-8.4 4.7-10.5 7.6-11 10.4-9.4 12.8-5 13-.8 10.4 3.5 5.5 6.1 .3 7 -5 6.9 -7.5 6.5 -8.4 6.3 -8.1 6.4 -7.7 6.6 -7.6 7.1 -7.6 7.5 -8 8.3 -8.4 8.6 -9.1 7.9 -10 5.6 -10.2 2.7 -9.1-1.1 -6.3-5.1 -2.8-8.2 2.3-10.5 6.6-10.7 10.3-9.3 12.6-6.8 12.8-4.4 10.6-2.2 7.7-1.1 4.7-.8 2.4-.7 1.3-.5 .8 1.1 1 3.1 .3 4.6 -1.6 4.7 -3.9 3.4 -5.8 1.3 -5.4 0 -3.6-1.3 -1.4-2.5 .2-3.4 1.8-3.6 3.1-2.9 4.2-1.6 4.3-.4 3.3 .5 1.6 .7 .2 .9 -.6 1.5 -.9 2.6 -1.1 3.6 -2 3.6 -3.3 2.7 -4.3 1.3 -4.2 .2 -3-.2 -1.2-.8 -.3-2 .4-4.2 1.1-6.6 2.6-7.7 5.5-6.5 8.1-3.6 9.1-.1 7.4 2.4 3.9 3.6 -.7 4.5 -3 5.4 -4.5 5.8 -5.5 4.6 -6.5 2.2 -6.8-1.2 -5.3-2.6 -1.8-2.2 1.7-1.2 3.1-.4 2.5-.6 1.2-1.3 .5-1.7 .8-1.6 1.6-.7 2.1 .4 1.8 1.5 .6 3 -.6 5 -1.9 6.7 -4 7.4 -6.2 6.5 -8.3 5.4 -8.7 4.7 -7.7 4.5 -6.1 4.7 -5.6 4.9 -5.4 4.6 -5.6 4 -5.8 3.2 -5.5 2 -4.6 .9 -3.6-1.1 -2.3-3.9 -.8-7.3 1.8-11.7 5.1-14.8 9.6-16.4 14.4-15.2 18.1-12.6 19.5-9 17.9-6.8 14.1-4.1 10.5-.6 7.8 3.1 4.2 6.9 .2 8.6 -4.6 8.7 -8.6 7.6 -10.3 5.8 -10.3 3.2 -8.8 1.2 -6.3-.5 -3.6-.5 -1.1 .8 .8 3.1 .5 4.3 -1.5 4.5 -3.9 4 -5.2 3.3 -5.3 1.7 -4.7-.4 -3.6-3 -1.8-4.8 .8-5 4.1-3.1 5.9-.6 5.6 1.9 3.4 3.4 .4 3.5 -2.8 3.2 -4.1 2.7 -4.2 1.8 -3.7-.2 -3.1-2.4 -1.8-4.6 .4-4.7 3.5-2.9 5.6-.2 5.5 1.5 2.8 1.2 0-.7 -1.9-3.5 -1.3-5.4 1.2-5.7 4.8-5.1 6.5-4.5 6.8-4.3 5.9-4 5.3-2.2 5.2 1.8 4.5 5.5 1.9 7.8 -2.6 7.6 -7 6.2 -9.6 4.5 -8.9 3.7 -7 2.6 -5.2 .9 -4.3-1.4 -2.8-3.6 -.7-4.6 2.1-4.7 4.5-4.1 5.5-2.8 5.6-.1 4.7 2.4 2.8 4.2 -.2 5 -3 4.9 -5.4 4.2 -6 3.5 -5.7 2.5 -5 .9 -4-.5 -2.6-1.7 -1-.9 1 1.6 2 4 .8 4.4 -2.6 2.2 -4.9-.3 -4.9-2.4 -2.3-3.9 .7-5.5 3.2-7.9 4.9-9.2 7-8.7 9.6-6.1 11.1-2.6 10 1.8 6.9 5 2.1 7.5 -2.6 8.6 -6.3 7.9 -9.4 5.1 -10.2 2 -9-1.2 -5.7-3.2 -2-3.7 2.1-3 4-2.8 4.3-3.5 3.6-5 3.3-6.5 4.4-6.9 6.2-6.5 7.9-6.4 8.2-6.7 7.8-7.3 7.5-6.6 8.2-5 8.6-2.3 7.8 1 5.6 4.2 2 7.8 -1.7 10 -5.7 11.9 -9.6 13.7 -12.2 15.5 -14.6 17.7 -16.5 18.5 -19 16.9 -21.3 13 -22 8.4 -19.5 2.5 -15-2.2 -8.7-7.3 -2.3-12.3 3.2-16.3 9.9-20.9 15.2-23.8 20.5-25.5 25.3-24.7 28.8-22 30.4-17.2 29.2-12.8 25.2-7.7 20-2.1 14.7 2.3 7.8 6.5 2 9 -3.8 12.3 -8.1 16.6 -11.1 20.6 -15.5 24 -20.4 24.6 -25.5 23 -28.7 20.2 -29.2 17.4 -26.9 13.1 -23.8 8.7 -19.8 3.2 -15.1-2.3 -9.8-6.7 -2.4-11.9 3.4-16.1 9.1-20.4 14.7-23.1 19.8-23.7 25.1-22.8 27.7-21.4 28.2-19.2 27-15.9 25.3-11.5 22.2-5.2 18.4 0 12.5 5.5 5.5 10.7 -.7 15.2 -7.8 19.5 -13.4 21.5 -19.2 22.3 -23.5 22 -25.8 20.7 -26.7 17.8 -26.1 14.4 -24.1 9.6 -20.8 4.3 -16.7-.6 -10.2-6.5 -4.5-10.7 2.1-14.7 8.2-17.7 13.3-19 18.4-17.9 21.4-15.2 22.6-11.4 21-7.7 17.7-4.4 12.7 .3 8.7 4.6 4.3 9 -1 11.7 -6 12.2 -11.5 10.3 -14.2 7.6 -14.3 4.5 -12 1.9 -8.7 .1 -4.6-1.5 -2-1.9 .2-1.2 1.9 .5 2.4 2 1.1 3 -.9 3.1 -2.7 3 -3.5 2.1 -3.8 .2 -3.4-3.2 -2.3-5.7 .4-7.4 4.2-7.5 7.1-6.5 9-3.8 8.9-.9 7.3 2 4.1 4.1 .7 4.9 -3.1 5.1 -4.9 5 -6 5 -6 4.8 -6 3.8 -6 1.3 -5.7-.6 -3.9-2.1 -1.3-2.2 1-1.5 2.6-.1 2.6 .9 1.5 1.2 -.1 .6 -1.2 0 -1.3-.5 -.6-1.5 0-3.6 .8-6.4 1.9-8.8 4.9-10.1 8-9.6 10.9-7.8 12.1-5.7 11.2-3.8 8.9-1.1 6.5 1.5 3.9 4.3 1.1 5.9 -2.2 5.3 -5.7 2.8 -7 .3 -5.9-2.1 -3-3.9 -.1-4.5 3.1-3.2 4.8-.1 5.2 4.6 3.5 9.2 -.4 11.8 -6.7 12 -11.4 10.7 -14.3 8.5 -14.2 6.2 -12.5 4.5 -9.5 3 -7.2 2.3 -5 1.2 -3.5 0 -2.6-1.1 -1.2-1.4 .2-1.1 1.4-1.2 1.7-2.3 1.3-4 1.5-5.8 3-6.6 5.2-6.7 7-6.3 8-6.1 7.9-6.6 7.4-7.4 7.4-7.7 8-7.5 8.8-6.6 9.3-5.6 8.7-4.1 7.8-1 6.5 3.8 4.6 8.6 .2 13.9 -5.1 16.7 -11.5 18.3 -17 18.2 -20.2 16.5 -22 12.3 -21.6 7.3 -18.9 .8 -14-5.5 -8-10.3 .6-13.5 7.3-13.8 13.2-12.6 16.2-11 16.3-8.9 14.8-5 12.8-.4 9.9 4.4 5.4 7.1 -.2 7.4 -6.2 6.4 -8.5 5.2 -8.7 3.7 -7.5 2.4 -6 1.7 -4.1 1.4 -2.8 1.9 -1.8 2.6 -1.8 3.3 -2.3 3.4 -3.3 2.2 -4 .5 -3.9-1.9 -2.4-4.6 -.4-6.9 2.9-8.5 5.9-8.5 8.7-8.3 10.1-8.3 10.1-9 9.8-9.6 10.1-9.4 10.8-8.6 11.4-7.4 11.2-6 10-3.8 8.6-.5 6.8 4.3 4.1 9.5 .1 13.3 -6.3 15.2 -12 14.1 -16.5 10.7 -18 5.8 -16.5 1.1 -11.7-3.4 -6.3-5.8 -.3-6.9 4.4-5.9 7.3-3.3 8.2 .9 6.7 4.1 3.1 6.5 -1.5 7.2 -5.3 5.9 -8.1 1.6 -8.6-2.7 -6.2-7 -1.4-9.2 3.9-9.5 9.1-7.8 11.1-5.6 11-2.7 9.1-.4 6.3 1.2 2.6 2.9 .2 4 -1.8 4.9 -3.5 4.3 -5 2.5 -5.9-.1 -4.9-1.7 -2.5-2.8 .4-3 2.3-2.1 3.5 .4 3.4 3.4 2.2 6.3 -1 7.7 -4.4 7.6 -8.1 6.7 -9.2 6.1 -8.8 5.3 -8 3.8 -7.1 1.5 -6.1-2.5 -4.3-5.4 -1-7.1 3.4-6.1 6.8-3.4 8.5 .4 7.1 2.6 3.2 3.9 -.9 4.1 -3.4 4.4 -4.7 4.8 -5 5.3 -5.2 5.2 -5.8 3.3 -6.5 0 -5.9-4.3 -3.6-6.4 1-7.4 5.4-7.5 7.9-6.6 8.9-4 8.9-.9 7.5 1.9 4.3 3.7 .7 5 -2.9 7.9 -4.5 10.2 -6.5 11.2 -9.7 9.6 -12.5 7.1 -13.2 4.5 -11.1 2.8 -7.9 .2 -5.1-3.9 -3.2-8.2 .6-12.3 5.3-14 10.8-14.1 14.9-12.6 16.8-10.2 16.6-6.9 14.8-4.6 11.4-2.6 7.9-.4 5.3 1.9 2.5 4.9 .3 6.5 -3 6.4 -6.1 5 -7.9 3.8 -7.4 4.2 -5.7 5.2 -4.5 5.8 -5.1 4.4 -6.5 2.2 -6.7-.4 -5-1.9 -2-2.7 .7-2.4 2.4-1.1 3.3 1.9 2.8 4.5 .6 6.4 -2.5 6.9 -5.7 5.7 -8 3.2 -8-.1 -6.4-4.6 -3.4-8.9 .6-11.4 6.6-11.1 11.1-8.4 13.7-4.2 13 .7 9.6 5.5 3.8 10.9 -1.5 13.4 -7.8 13 -13.3 9.5 -16.2 4.6 -15.1-1.4 -10.6-5.5 -4.2-8.7 2.3-10.3 7-10.1 11-8.2 12.3-6.5 11.6-4.9 9.6-2.7 7.6-.2 5.3 2.8 3 3.8 -.5 2.6 -3.5-.3 -4.5-3.2 -2.6-5.3 .7-4.8 4.5-3.2 6.2-1.9 5.7-1.9 3.3-2.2 2.3-1.6 2.3 .6 2.7 3.2 1.6 5 -1.3 5.7 -4.1 5.2 -6.2 4 -6.8 3.3 -6 3.8 -4.5 4.5 -4.1 4.1 -4.6 1.5 -5.4-2.7 -4.7-6.1 -.9-7.9 3.7-7.3 7.9-5.8 9.4-4.3 8.5-2.8 6.6 0 4.9 3.1 2.8 6.6 -.4 9.4 -4.1 10.4 -8.7 9.8 -11.4 8.4 -12.4 6.5 -11.6 4.8 -9.7 3.6 -7.3 2.3 -5.5 1.5 -4 .2 -2.7-1.4 -1.6-3.2 0-5.6 1.9-7.3 4.4-9 6.9-10 9-9.9 11-8.8 11.9-7.5 11.7-6.6 10.2-6.1 8.9-5.1 7.7-3 7.1-1.4 5.7-1.1 3.3-1.8 1.6-2 1.4-.2 2.2 2.5 2.2 4.5 -.1 5 -3.3 4.8 -5.8 5.9 -5.9 8.3 -5.8 10.8 -7.3 11.7 -10.2 10.7 -13.3 7.1 -13.9 2.9 -12.2-2.2 -8-6.1 -2.8-8.3 3.7-9.6 7.7-10.3 10.2-10.6 11.6-10 12.3-8.4 12.6-4.8 11.8-1.3 9.3 1.5 5.3 2.4 1.1 1.8 -2.2 1.3 -2.9 2.1 -1.9 4.1 -1.6 5.5 -2.8 5.6 -5.2 5 -6.7 4.8 -6.6 5 -5.9 5.7 -5.6 6 -6.2 5.9 -6.8 5.7 -7.1 5.3 -7.1 4.6 -6.7 3.1 -6.3 .5 -5.2-1.7 -3.3-4.1 -.3-5.7 2.4-6.6 5.3-7.3 7-7.7 8-7.6 8.8-6.4 9.2-4.1 9-.4 7.4 2.6 4 5.4 .1 7.8 -3.5 9.2 -7.1 9.5 -9.5 8.6 -11.1 7.2 -11.2 5.7 -10.1 4.2 -8.3 1.6 -6.6-.7 -4.5-2.7 -1.6-3.2 1.2-2.6 3.4-1.6 3.8-1.5 2.9-2.5 1.8-3.2 1.9-2.4 3.2 .2 3.9 1.5 2.3 .5 -.5-2.2 -1.8-5.1 -.2-7.5 3.1-8.1 6.7-8 9-8.2 9.7-8.7 9.6-8.5 9.7-6.6 10.5-2.7 10 .6 7.4 2.5 2.4 3.3 -1.1 4.1 -3.1 5.8 -4.1 7.3 -5.1 8.1 -7.3 7.5 -8.9 5.7 -9.6 3.3 -8.7 1.5 -6.5 1 -3.4 .3 -1.7-1.4 -1.1-4.5 -.2-7.6 2-9 6.2-8.2 9.3-6.6 10.7-4.7 9.6-2.9 7.6-.9 5.2 1.8 3.2 3.7 .5 4.7 -2.4 4.9 -4.7 5.1 -5.7 6.4 -5.7 6.8 -6.4 6 -7.7 3.9 -8.2 2.4 -6.7 2.5 -4.4 3.3 -2.7 4.3 -3 3.7 -4.2 2 -5.1-1.2 -4.4-3.2 -1.6-3.9 1.7-3.1 4-2.4 4.6-1.7 3.7-1.2 2.6-.2 1.9 1.2 1.4 1.8 -.1 1 -1.5-1.5 -2.1-5.3 -.9-9.1 2.1-11 7.3-11.2 11.2-9.7 13.4-7.9 13.1-5.7 11.4-3 8.9 2 6.5 6.6 2.6 9.8 -3.1 9.9 -8.4 8 -12 5.5 -11.6 4.6 -9 4.6 -6.4 5.2 -5.4 5.3 -5.6 4.4 -6.2 2.9 -6.2 .7 -5.1-1.3 -3.2-3.1 -.3-5.9 1.8-8.9 4.2-11.9 7.5-13.6 10.9-13.5 14.8-10.9 16.3-7.3 15.6-2.1 12.7 2.9 8.1 6.4 1.3 8.4 -4.1 9.4 -8.2 10.9 -10.2 12.4 -11.3 12.2 -13.3 9.3 -14.9 6.1 -14.2 3.9 -10.6 3 -6.8 1.9 -4.3-1 -3.5-4 -1.8-5.9 1.6-5.8 5.2-4.6 7.2-3.7 6.7-3.6 5.3-3.4 4.3-2.8 4.3-1.7 4.1 0 3.2 1.2 1.6 1.6 -.2 1 -1.5-.1 -1.9-.3 -1.1 1.3 .3 4.5 .2 7.4 -1.9 8.6 -6.1 8.3 -9 7.3 -10.3 5.3 -9.9 2.4 -8.4-.8 -5.7-4.1 -2.5-6.2 1.7-8.3 5.2-9.5 7.7-9.4 10.2-8.1 11.4-7.1 11.1-6.8 9.4-6.6 8.3-5 8.2-.8 7.8 2.8 5.1 6 .5 8.2 -3.8 9.3 -7.8 9.6 -9.9 9.1 -11.3 7.7 -11.4 5.8 -10.7 2.9 -8.9-1.6 -6.5-5.1 -2.5-7.7 2.4-8.9 6.4-9 9.7-7.6 10.7-5.8 10.5-4 8.8-2.6 6.6-1.1 4.5 1.7 2.9 4.1 .8 5.7 -2.4 5.3 -5.2 3.5 -6.9 1.3 -6.1-.3 -3.7-1.8 -1.3-4.1 .4-6.1 2.7-7 5.1-5.9 7.7-3.1 8.3 .1 6.8 2.6 2.9 4.5 -.5 5.5 -3.6 5.8 -5.6 5.3 -6.6 4.2 -6.9 2.2 -6.2 .5 -4.6-1.1 -2.4-1.6 -.4-.8 1.6 1.8 1.9 4 .5 5.3 -2.5 4.9 -5 3.9 -6.4 3 -5.7 3.1 -4.4 2.9 -3.6 .8 -3.7-3.2 -3.2-9 -.5-12.6 5-13.8 11.3-12.2 15.4-9.2 16.4-5 14.1-1.8 10.1 1.4 5.6 3.9 1.7 5.9 -2.4 7.9 -5 9.7 -7.3 11.2 -9.7 11.6 -11.8 10.5 -13.6 7.8 -13.8 5.5 -12 3.6 -8.9 1.5 -6.4-.9 -3.8-3.1 -1.5-3.3 1.6-1.7 3.9 0 3.9 0 1.5-2.8 -.2-5.6 .5-7.4 3.7-7.6 7-7.8 9-9.2 9.2-11.1 9.4-11.8 11.2-9.8 13.4-5.6 14-.1 11.2 3.6 5.5 6 -.5 7.6 -4.6 8.9 -7.6 10.1 -9.3 10.7 -10.8 10.6 -12.2 10.3 -12.8 10.2 -12.6 10.3 -12.2 10.6 -12.1 10.3 -12.4 9.5 -12.6 8 -12.2 5.1 -11.1 1.6 -9-3.4 -5.7-8.8 -1.4-12.9 5.3-15.8 11.1-16.6 16.2-16.5 19-16.4 19.8-15.6 19.7-12.9 19.5-9.3 18.2-5.1 14.9-1.3 10.5 1.3 5.1 3.9 1.2 4.9 -2.2 4.5 -4.9 3.2 -5.8 2.3 -5.1 2.7 -3.7 4.2 -2.7 7.3 -3.3 10.6 -5.4 13 -9.4 14.8 -13 15.5 -16 15 -17.8 12.6 -18.5 8.8 -17.5 2.6 -14.6-3.7 -9.3-10.8 -2.3-17 5.3-20.3 14.6-20.8 20.8-19 24.5-15.3 24.6-9.2 22.3-1.1 17.1 10.6 10 19.5 -1.1 25.7 -13.9 27.3 -24.3 25.1 -31.6 19.3 -32.4 12.7 -28.8 4.2 -22.2-4.8 -14.2-12.4 -2.9-19.2 6.9-22.5 16.3-24.2 23.5-23.4 27.2-20.6 28.9-13.9 27.7-6.6 23.2 2.4 15.7 11.5 6.8 18.8 -5 25 -14.7 26.3 -24.1 23.6 -30.1 17.2 -31.4 9.9 -26.9 .8 -19.5-6.2 -9.8-14.2 -.1-21.5 8.4-26.2 18.7-27.6 26.4-25.2 31.9-19.9 32.7-12.6 29.5-4.7 22.2 6.2 14.1 14.5 3.3 22 -8.5 26.5 -18.4 28 -27.7 25.9 -31.9 21.2 -33.2 13 -30.4 3.4 -24.4-5.3 -13.4-14.3 -2.8-19.9 8.4-24 17.9-25.1 24.3-22.6 29.3-15.8 29.7-8.2 25.8 .5 17.9 8.3 8.7 14.2 -2.6 19.2 -10.8 21.5 -18.1 21.8 -23.3 19.9 -25.8 15.9 -25.8 8.2 -23.3 .1 -17.5-9.1 -8.8-17 1-21.2 13-22.5 20.9-20.5 25.9-16.8 26.6-11.2 24.2-5 18.8 3.8 12.7 10.5 4.1 15.7 -5.5 17.6 -13.4 16.8 -19.6 13.5 -21 9.4 -19.4 4.5 -15.5-1.2 -10.7-6.9 -4.1-13.6 2.1-16.9 9.8-16.6 16.8-12.7 20.4-7.8 19.2-2.7 14.5 .4 8.1 3.5 2.8 6 -.9 6.8 -4.9 5 -7.3 2.1 -8-.8 -5.5-1.9 -2.1-2.5 1.4-4.2 2.3-7 3.2-9.4 5.5-9.8 8.6-8.1 11.6-4.6 11.6-1.2 9 2.3 5 5.2 1 7 -3.5 8.2 -6.5 8.2 -8.7 7.3 -9.8 5.2 -9.8 3.4 -8.2 2.9 -6 4 -3.7 5.6 -3.6 5.8 -5 4.9 -6.9 3.2 -6.9 3.1 -5.4 4.6 -3.8 6.7 -3.7 7.9 -5.9 7.7 -8.3 6 -9.5 3.4 -9 .5 -6.9-2.6 -3.4-7 -.1-11.1 4-15.9 8.8-19.3 13.8-20.1 19.9-17.4 23.3-13 23.6-7.7 20.2-2.7 15 1.4 7.9 5.9 2.6 8.9 -2.7 11 -7.4 11.6 -11 10.7 -13.5 8.2 -13.7 5.3 -12.4 2 -9.4 .3 -5.8 .6 -1.8 2 -.3 2.1 -1 .8 -2.4-1.4 -2.5-2.7 -.4-2.5 1.9-1.4 3.2-.3 2.9 0 1.5-.9 .1-2.6 .2-3.9 1.4-5.3 3.2-6.4 4.9-6.6 6.6-5.5 7.7-3.4 7.7-.3 6.3 3 3.8 5.5 -.4 6.8 -4 6.4 -7 5 -8.2 4 -7.4 3.2 -5.7 1.7 -4.7 .3 -3.5-.5 -1.8 0 -.2 .8 .6 1.2 -.1 1 -1 .3 -1.5-.4 -1.1-.9 -.2-1.2 .5-1.5 1.2-2.1 1.5-3 1.8-3.4 2.7-3.4 3.6-3 4.2-2.8 4-2.9 3.5-3.3 3.3-4.5 3.5-5.6 4.2-6.6 5.4-6.5 6.8-4.8 8.1-1.5 7.6 1.3 5 4.7 1.5 8.2 -2 11.1 -6.4 13.3 -10.2 13.6 -13.8 12.4 -16 10.1 -16.1 7.6 -14.3 4.5 -11.8 1.8 -8.4-.8 -4.9-3.1 -2-4.4 1.6-5.2 3.9-6 5.5-7.1 6.3-7.4 7.3-6.6 8.6-5 8.8-4 7.5-3.4 5.8-2.5 4.8-.9 3.9 2.2 2.8 4.6 .4 6 -2.9 4.9 -5.9 2.7 -7.1-.3 -5.6-2.1 -2.5-4.3 .6-6.8 2.7-8.7 5.7-9.6 8.4-8.6 10.7-7 11.3-5.4 10.2-4.3 7.9-3 6.2-1.9 4.9 0 3.5 2.4 2 3.7 -.6 2.9 -3 .9 -4.4-.4 -3.2 .1 -.9 2.2 .7 5.2 -.5 8.1 -3.1 11.3 -6.7 13.7 -10 14.8 -14.2 14.7 -16.5 13.5 -17.7 10.7 -17.5 6.7 -15.8 2.6 -11.9-2.7 -7.5-7.2 -1.9-12 3.8-15.3 9.2-16.2 15.3-14.3 18.4-11.4 19.1-7.8 16.8-4.6 13.2-2.2 8.4 .7 5.1 2.9 2 5.2 -1.1 6.2 -3.8 5.7 -6.6 3.4 -7.4 .9 -6.4-1.7 -3.8-2.8 -.7-2.4 2.5-.3 3.4 1.7 2.5 4.2 .1 7 -2.3 9.8 -5.6 11.5 -8.8 10.5 -12.2 6.2 -13.7 .6 -12.1-4.4 -6.3-8.5 .1-10.5 6.2-11.2 10.5-10.2 12.7-8.1 13.3-5.5 11.9-4.1 9-2.9 6.4-1.1 4.8 1 3.1 2.8 1 3.1 -1.6 2.7 -3.5 2.3 -3.7 2.5 -3 3.3 -2.8 4.3 -3.1 5.5 -4.1 5.9 -5.2 5.1 -6.8 2.9 -7 .9 -5.7-.7 -3.2-1.4 -.8-.9 1.2 .6 1.6 1.4 .8 .9 -.9-.5 -1.6-1.8 -.9-2.3 .9-2.3 2.2-2.5 2.8-2.8 2.8-3.2 3-3.7 3.4-3.8 3.9-3.3 4.4-1.6 4.5 .4 3.7 1.8 1.7 .7 -1-1.2 -2-2.2 -.7-1.6 1.9 .1 2.6 1.4 1.6 2.4 -.3 2.5 -1.9 1.7 -2.9-.5 -2.9-2.5 -1.7-3.7 .9-3.4 3.2-1.6 4.5 2.2 3.9 6.1 1.2 10.1 -3.1 12.4 -7.8 12.6 -12.9 11 -14.9 8.2 -14.8 3.5 -12.7-2.8 -9.4-8.6 -2.8-14.4 4.1-17.2 11.6-18.4 17.6-17.4 20.9-14.8 22-9.6 20.4-4.4 16.6 1.1 10.8 5.4 4.6 7.5 -2.6 7.5 -6.8 6.5 -9 4.9 -8.9 3.7 -7.5 2.6 -5.6 1.9 -4.2 2 -2.9 2.8 -2.3 3.8 -2.4 4.2 -3.7 3.9 -4.6 3.8 -4.9 4.2 -4.6 4.3 -4.6 3.7 -5 2.1 -5.2 1.5 -4.1 2.8 -2.4 5.9 -1.7 9.3 -3.9 11.9 -7.5 12 -11.8 10.2 -14.3 7.1 -14.2 3.5 -11.5-1.5 -8-5.9 -3.2-11.1 2.4-16.4 7.7-20.9 14.4-24.5 20.2-24.8 25.8-22.3 29.4-16.5 29.5-8.9 25.6 1.7 18.8 9.6 8.3 15.4 -3.2 17.5 -12.4 16.8 -19.2 13.6 -20.9 10.1 -19.5 5.9 -15.7 1.8 -11.6-1.2 -6-2.6 -1.7-1.7 1.9 .7 3.1 3 1.8 4.3 -1.4 4.2 -3.9 3.1 -5.2 .7 -5-1.7 -3.3-3.3 -.3-3.9 2.3-3.8 4.2-3.9 4.6-4.3 4.5-4.5 4.7-3.3 5.2-1.9 5.2-.5 3.8-.1 2 .3 .4 2 .1 4.5 -.6 7.5 -2.7 9.6 -5.7 10.6 -9.6 11.5 -11.6 12.1 -12.9 12.6 -13.7 11.8 -14.6 10 -14.9 6.2 -14 1.9 -11.2-3.8 -6.8-9.6 -1.6-14.2 5.8-18.4 12.2-20.5 17.9-21.6 22.2-20.9 24.7-19 25.8-15.3 24.7-11.9 21.9-7.5 17.9-3.1 13.7 .5 7.9 4.4 3.2 6.4 -1.6 7.1 -5.5 6.6 -7.8 6 -8.5 7 -7.8 9.4 -7.2 11.8 -8.6 12.1 -11.6 10.3 -14.4 7.6 -14.2 6.5 -11.8 6.2 -8.8 5.5 -7.6 3.4 -7.4-.6 -6.4-3 -3.2-3.8 1.1-2.5 3.9-.6 4.4 1.6 2.8 2.3 .1 1.1 -2-2.4 -2.9-5.9 -.6-9.5 3.3-11.2 8-13.1 11.4-14.2 13.7-13.4 15.9-8.2 17-1 15.2 7.4 8.9 13.1 .1 14.6 -10.6 13.9 -15.9 12.7 -17.4 11.1 -16.4 8.1 -15 3.9 -12.7-1.5 -9.2-4 -3.4-4.6 2.2-3 5.1-.9 5.2 2 3.4 3.2 .4 2.4 -2.6-.4 -3.9-4.2 -2.5-9.1 1-12.8 6.1-15.3 11.4-15 15.7-12.3 18.4-6.9 17.7-1.9 13.7 3.5 7.5 8.4 1.6 12.3 -5.4 15.1 -10.6 14.9 -15.4 12.3 -18.1 8.7 -17.6 5.3 -13.9 2.1 -9.9-.1 -5.6-1.9 -2.1-3 .4-3.5 2.6-4.2 3.6-5.1 4.3-6.3 5.1-7.2 6.2-7.3 7.8-6.2 8.6-4.5 8.6-1.8 7.2 .9 5.1 3.1 1.5 4.6 -1.4 5.1 -4.1 5 -5.7 4.5 -5.9 3 -6-1.9 -5.3-7.5 -2.7-12.4 2.9-13.5 9.7-10.5 15.7-3.6 15.9 2.4 11.1 7.7 3.5 11 -3.7 12 -10.2 11.2 -13.3 9 -14.3 4.4 -13.1-1.9 -10.3-7.5 -3.9-11.9 3-12.6 10.1-10.9 14.5-8.1 14.9-5.2 12.4-1.9 9.2 1 5.6 4 1.8 7 -1.5 9.2 -5.5 11 -8.6 11.5 -11.5 10.8 -13.3 9.5 -13.6 8.6 -12.6 7.3 -11.3 6.1 -9.9 4.4 -8.6 3 -7.1 2.3 -4.8 1.8 -3.5 1.4 -2.5 .2 -2.2-1.5 -1.5-3.1 .1-5.1 1.9-6.6 4.2-7.6 6.3-7.5 8-6.6 9.2-5.9 8.8-5.8 7.7-5.9 7-6.1 6.9-6.5 7.1-7.9 7.2-9.6 8-10.8 9.7-10.2 11.7-7.7 13-3.3 11.8 .2 8.3 4.1 3.5 8.1 -.7 11.9 -5.8 15.7 -10.2 16.9 -15.1 16 -18.9 12.9 -20.3 9.4 -18.5 5.8 -14.9 3.6 -10.4 1.6 -6.6-.8 -4-3.1 -1.4-5.9 1.2-7.5 4.4-8.3 7.2-8.2 9.1-6.9 10-3.9 9.7-1.6 7.6-.9 4.3-2.6 1.7-5.3 1.2-7.3 3.5-7.4 6.9-6.8 8.7-6.6 8.7-6.7 8-6.6 7.9-5.8 8-4.1 7.8-1.8 6.8 .4 4.4 2.4 1.8 3.2 -.9 3.4 -3 2.6 -4 1.5 -3.9-.6 -3-2.3 -1.3-3.2 1-2.7 2.9-.4 3.9 4 2.9 7.6 -.4 10.2 -5.3 11.1 -9.5 11.9 -12.4 13.4 -13.4 14.3 -14.5 12.9 -16.1 9 -17 4.4 -14.8 0 -10.1-1.5 -4.1-1.9 .2-1.6 2-1.4 2.1-1.3 1.9-1.4 1.7-1.8 1.5-3.4 1.7-6.1 2.4-10.6 4.3-13.8 8.2-15.2 13.1-14.4 16.8-12.4 18.2-9.3 16.9-5.9 14.2-1.6 10.7 2.3 6.5 4.3 .8 5.3 -3 5.8 -5.4 6.8 -6.4 7.6 -7 8 -8.3 7.9 -9.2 7.3 -9.5 6.4 -9.4 5.3 -8.7 4.3 -7.3 2.8 -6.2 1.1 -4.8-1.3 -3.2-3.5 -1-4.5 2.1-4.3 4.4-3.6 5.4-2.8 5.1-2.4 4.1-2.5 3.2-2.2 3-1.1 2.9 .4 2.5 2.4 1.2 3.9 -1 5.2 -3.1 5 -5 3.6 -6.2 1.7 -5.8 .2 -3.9-.5 -1.8-.7 -.1 0 .8 1.6 .7 3.3 -.3 4.3 -2.1 3.8 -4.2 1.9 -5.1-.7 -4.5-3 -1.6-5.6 1.1-7.5 4.2-8.9 6.9-9.2 9.2-8.3 10.8-6.1 10.9-3.5 9.5 .1 6.9 4.4 3.9 7.7 -1.1 9.4 -5.7 8.5 -9.8 5.5 -11.3 2.5 -9.8 .4 -5.8-.9 -2.6-.9 -.1 0 1.1 1.5 1 2.4 -.3 2.6 -2 2.1 -2.9 1.6 -3 1 -2.5-.2 -1.8-2.6 -1-5 .6-6.5 3.5-5.8 6.2-3.3 7.9 0 6.6 1.7 3.2 2.9 -.3 3.1 -2.2 3.1 -3.6 2.3 -3.8 1.9 -3.4 1.7 -2.8 1.2 -2.2 0 -1.9-2.5 -1.4-4.2 .5-4.8 3.2-3.8 5.2-1.9 5.7-.2 4.3-.5 1.8-2.8 .2-5.8 .8-7.3 4-6.5 7.2-4.6 8.7-2.5 7.5-1.1 5.2-.2 2.6 2.1 1.2 5.3 -.1 9.1 -2.9 11.9 -6.8 12.5 -11.7 11.1 -14.3 8.5 -14.8 4.7 -13 .6 -9.7-2.7 -4.6-6.2 -.2-8.1 4-8.7 7.7-7.3 9.8-4.8 10.3-2.1 8.3-.3 5.1 1.3 2.3 3.4 .2 5 -2.1 6 -4.2 5.8 -6.3 4.4 -7.2 2 -6.8-.2 -4.7-2 -2.1-2.6 .7-3.3 2.4-4 3.2-4.1 4.1-2.9 4.8-1 4.8 1 3.3 1.9 .9 2.2 -1.6 1.9 -2.4 .8 -2.6-1.3 -2.1-4.3 -.8-6.6 2.3-7.5 5.4-6.1 8.2-3.1 8.9-.2 7 1.7 2.9 3 -.1 4.5 -2.3 6.8 -3.8 8.9 -5.6 9.6 -8.6 7.5 -10.9 3.6 -11.2-1.5 -8.4-6.3 -3.8-9.5 3.1-12.4 8-13.9 12-14.8 15-14.1 16.8-12.4 17.6-9.3 16.6-6.2 14.2-2.1 10.7 2.7 7 8 1.5 14.4 -4 18.6 -10.9 20.4 -17.8 18.5 -22.7 14.1 -24.3 7.9 -21.5 3.6 -15.5 .6 -8.8-.1 -3.8 .7 -.3 2.4 .1 3.4 -1.2 3.6 -3 3 -4.1 2 -4.3-.3 -3.5-2.8 -1.8-6 .6-9.2 3.7-11.6 8-13.2 11.3-12.4 14.2-9.1 15.7-3.8 14.7 .3 9.7 1.8 3.9-.1 -1-4 -2.1-7.5 .6-9.5 5.7-10.1 9.3-9.1 11.5-6 12-.8 10.7 4.9 6.1 11.6 .2 15.7 -7.4 18.6 -14.4 19.5 -19.2 18.4 -22.6 15.4 -23.1 11.7 -21.5 7 -17.8 2.2 -13.5-1.7 -7.1-5.8 -2.1-9 2.9-11.6 7.3-12.1 11.1-10 14.3-4.9 14.3 .3 11 5.3 5.1 8.9 -.9 10.4 -7.4 9.2 -11 6.3 -12.3 2.6 -10.6-1.4 -7.2-5.2 -2.1-10.6 2.2-15 7.2-17.8 13.3-17 18.4-13.1 21.5-6.7 19.9-1.7 14.2 2.7 7.3 6.3 1.5 8.6 -4.2 8.6 -7.9 5.8 -10.5 1.2 -9.9-3.2 -6.5-5.8 -.3-6.7 4.3-6.1 7.2-4.3 8-1 7.2 3.4 4.5 9.4 .6 13.4 -5.4 15 -11.8 14 -16.3 11.4 -18 8.3 -16.3 5.8 -12.9 2.6 -9.5-2.2 -6.7-7.5 -2.1-13.3 3.3-16 10.2-16.4 16.4-15 19.3-12.7 19.4-8.7 17.6-4 14.4 .9 9.7 4.1 4.2 4.6 -2.1 3.9 -5.1 3.5 -5.4 3.3 -4.6 2.1 -4.1 0 -3.8-2.3 -2.3-2.2 .6 .1 2.8 3.1 2.5 4.8 -.8 6.2 -3.9 7.5 -6.1 9.1 -7.6 10.3 -9.1 10.5 -11.2 8.9 -12.4 6.3 -12.3 2.9 -10.3-1.1 -7.2-4.5 -2.4-8.3 1.7-10 6.2-10.1 10.2-8.6 12.1-6.8 11.8-4.5 10-2.5 7.6 .3 5.2 2.5 2.6 3.6 -.9 3.5 -3.2 3.1 -4.3 2.8 -4.2 2.8 -3.6 3.6 -3.3 5.6 -3.4 7.6 -4.7 8.7 -6.9 8 -9.3 6.2 -10.4 3.8 -9.4 1.6 -6.9-1.4 -4.1-5.4 -1.7-9.4 2.5-12.7 7-13.4 12.1-12.3 15.2-10.2 16-7.5 14.3-4.5 11.8-2.6 8.3-1.3 5.1-.3 2.9 .6 1.2 1.4 .3 1.2 -1 .4 -1.7-.5 -1.3-.3 -.2 1.5 .6 4.2 .1 7.3 -2.1 9.3 -5.4 9 -9.4 6.1 -11.2 2.9 -10.3 .3 -6.8-.3 -3 0 0-.3 .4-1.4 -.1-2.4 .5-1.7 1.8 .8 3 4.4 1.8 6.5 -1.7 7.2 -5.6 6.2 -8 3.8 -8.6-.9 -7.1-5.3 -3.6-9.5 1.6-12.2 7-13.5 12.1-14.6 14.8-15.9 16.2-16.9 17.6-15.7 19.1-11.4 20.3-3.3 18.3 3.6 11.9 9.7 3 14.8 -5.1 18.5 -12.9 21.2 -18.1 20.7 -22.8 17.4 -25.4 12.1 -24.5 6.6 -19.6-.4 -13.7-6.4 -6.4-12.6 1.3-17.3 8.4-19.7 16.3-19.6 21.1-17.7 23.7-14.6 23.1-11.1 20.7-6.4 16.8 2.8 12.7 11.5 5.8 18.9 -4.5 22 -14.8 20.9 -23.9 17.1 -26.2 13.9 -24.2 10.7 -19.9 7 -16.2 2.2 -12-5.8 -7.8-12.5 -1-17.6 7.9-18.9 15.7-16.4 21.8-11.2 22.4-7.4 18.5-4.9 12.7-2.8 8.4 .8 5.4 7.1 2.9 12.2 -2.1 15.5 -9.2 15.6 -15.1 13.4 -18.9 8.5 -18.5 3.6 -15-2.1 -9.5-7.2 -3.6-10.8 3.8-13.7 9.1-14.6 13.6-14.1 16.5-12.4 17.4-9.7 16.7-5.5 14.4-2.4 10.7 .5 6.1 3.2 2.5 6.3 -1.2 10.3 -4.2 12.4 -8.4 12.7 -12.6 11.2 -15 8.8 -15 6.2 -13 4.8 -10 4.4 -7 4.7 -5.6 4.7 -5.3 4.2 -5.7 3.4 -5.5 2.3 -4.9 .6 -3.9-1.1 -2.4-3.4 -.6-5 1.8-6.2 4.3-6.5 6.2-5.5 7.6-3.3 7.6-1.4 6.1-.1 3.7 .5 1.5 .6 -.1 1.1 -.6 1.9 -.8 2.7 -1.4 2.8 -2.3 2.2 -3.4 1 -3.3 .5 -2.4 0 -1.1-1.1 -.5-3.3 .1-6 1.6-6.8 4.6-5.9 7.3-3.7 8.1-1.4 6.6 2.3 4.1 5.7 1 9 -3.2 9.8 -7.3 7.8 -11.2 2.9 -11.6-1.7 -8.4-6.7 -2.9-11.5 2.7-15 9.2-16.8 14.3-15.9 18.4-12.1 20-6.7 18.6-1 13.4 5.1 7.2 8.6 -.2 10.7 -6.6 11.8 -10.6 12.4 -13.2 13 -14.1 13.6 -14.9 14.2 -15.6 14.2 -16.3 13.4 -17 11.8 -16.8 10.4 -15.7 9.8 -13.8 9.5 -12.4 8.4 -11.6 5.2 -11.2 1.6 -9.5-2.4 -5.7-5.8 -1.4-9.2 3.8-14.2 7.3-18.1 12-20.8 17.5-21 22-19.8 25.1-16.7 25-13 23-6.6 19.5 1.6 14.8 9 6.2 15.1 -2.9 16.4 -12.4 14.1 -18.3 9.4 -19.5 3.9 -16-2.3 -10.5-5.8 -3.2-8.2 3.3-9.5 7.3-9.8 10.2-8 11.4-4.7 11.4 .5 9.3 5.3 5 7.8 -1.9 7.9 -6.7 6.6 -9.6 5.2 -9.3 4.3 -7.6 3.5 -5.9 1.8 -5 .3 -3.9-.4 -1.9 .8 -.2 2.3 .3 3.7 -1 3.8 -3.2 2.8 -4.5 .9 -4.5-1.6 -2.9-5.4 -.8-9 2.7-12.5 6.9-14.1 11.2-13.3 15.5-10.6 16.8-8.8 15.3-8.1 12.4-7.9 10.3-6.5 9.6-2.6 9.3 1.6 7.1 6.1 2.5 10.2 -2.4 13.6 -8.3 16.7 -12.6 17.5 -17 16.4 -20.1 13.9 -20.9 11.2 -19.1 7.8 -16.2 5.3 -12.6 3.2 -8.9 1.2 -6-1.1 -3.3-4.4 -1.2-6.3 2-6.8 5.6-6.1 7.7-5.6 8-6.4 7.1-7.7 6.8-8.7 7.8-8.8 9.3-7.7 10.6-5.8 10.3-4 8.8-1.4 6.7 2.5 4.6 7.3 .9 13.3 -3.6 16.3 -10.1 16.5 -16.3 14 -19.8 10.9 -19.3 6 -16.3 .4 -12-7.5 -6.5-14.4 .4-17.8 10.8-18.3 17.8-16.6 21.6-14 21.6-10.7 19.5-8.2 15.9-6.4 12.5-5.3 9.3-3.3 7.4 0 6.2 3.2 3.3 5.5 -.5 5.8 -4.5 5.4 -6.6 5.1 -6.9 5.1 -6.3 5.3 -6 4.8 -6.2 3.1 -6.3 1.5 -5.6 1.2 -3.3 2.6 -1.6 3.7 -1.6 3.8 -3.3 3.1 -4.5 2.7 -4.5 3.2 -3.5 3.2 -3.3 2.4 -3.8 .7 -3.9-1.2 -2.5-3.6 -.6-5.2 1.9-6 4.5-4.5 6.5-1.7 7 2 5.1 4.1 1.2 5.1 -2.7 5.1 -5.1 4.6 -6.2 3 -6.1 1.2 -5.1-.5 -3.4-1 -1.2-.1 .9 1.8 1.1 3 -.2 3.1 -2.4 2.3 -3.6 1 -3.7-1 -2.5-3 -.8-5.7 1.5-8.8 3.8-11.2 7.5-13.4 10.8-13.3 14-11.4 15.9-7.7 15.8-3.5 12.9 2.2 8.7 6.6 2.9 10.6 -3.2 13.1 -8.5 14.1 -13.4 14 -15.7 12.9 -16.9 11 -16.5 8.4 -15.3 6.1 -12.5 3.7 -9.8 2.8 -6.6 1.8 -4.3 0 -3.2-2.4 -1.9-5.9 .3-8.1 3.7-9.5 7.3-10.1 9.9-9.6 11.6-8.8 12-8.5 11.3-8.9 10.3-8.6 10.2-6.4 10.7-2.2 10 .8 6.8 2.6 2.2 3.3 -1.3 3.9 -3.4 5 -3.9 5.5 -4.9 5.7 -6 5.6 -6.7 5.5 -6.8 5.3 -6.6 4.5 -6.5 2.2 -6.4-1 -5.1-3.6 -1.9-6 1.5-7.4 4.9-8.9 7.3-10.1 9.1-10.4 10.9-8.6 12.1-5.2 12.2-.4 9.9 3.5 5.7 5.4 -.6 5.3 -4.7 4.2 -6.5 2.7 -6.2 1 -4.8-1.1 -2.9-4.3 -.9-6.9 2-8.4 5.5-7.7 8.5-5.1 10.1 0 9 5 5 10.4 -.6 15.2 -6.6 17.9 -13.7 18.6 -18.5 17 -21.7 14 -22 10.6 -20 7.8 -15.9 3.6 -12.3-.8 -8.4-6.2 -3.8-10.1 1.6-11.2 8.6-9.4 12.3-7 13.2-4.9 10.9-3.4 8-2.2 5.4-1.5 3.9-2.5 2.4-5.9 1.8-10.1 3.3-12.9 8-13 12.5-10.8 15.6-7 15.3-3.2 12.4 .2 7.5 4.9 3.3 8.9 -1.2 11.9 -6.4 13.1 -11 12.4 -14.8 10.4 -15.5 8 -14.5 4.8 -12.1 2 -9.1 .6 -5-.4 -2.2-1.3 -.4-1.9 .6-1.5 1.6-.1 2.4 1.8 1.6 3 -.3 4 -2.3 4.6 -3.8 5 -4.9 5 -5.5 4.2 -6 1.8 -5.9-2 -4.9-5.6 -1.4-8.6 2.9-9.3 7.5-9.1 10.4-8.2 11.1-6.8 10.7-4.7 9.6-3.3 7.7-2.4 5.4-2.2 3.7-2.5 2.8-3.7 2.7-5.5 3.1-8.1 4.6-9.9 6.8-10.1 10.2-8.1 12-4.5 11.8 .6 9.2 5.4 4.8 8.9 -1.9 11 -7.1 11.4 -11.1 10.6 -13.2 8.8 -13.6 6.3 -12.4 3 -10.1 .7 -6.8-.6 -3.3-.4 -.5 .9 .9 1.5 .2 .7 -1.2-1.2 -1.8-2.7 -.7-3.4 1.9-3.6 3.4-4 4-4.1 4.4-3.1 4.8-.7 4.9 3.6 3.4 7.5 0 11.2 -4.9 13.4 -9.4 13.4 -14.1 11.4 -16 9.5 -15.7 8.2 -13.3 8.1 -11.1 8 -9.6 6.2 -9.7 3.1 -9.2-.5 -7.1-2.3 -3.2-2 1.3-1.3 2.8-2.4 2.2-5.3 1.5-8.3 3.1-10.2 7.1-12 10.2-13.6 12.6-15.1 14.5-15.8 16.3-15.5 18.4-13.3 18.9-10.2 18-5.1 15.6 .8 11.6 5.8 4.8 9.3 -1.8 10.3 -7.8 10.2 -11.3 9.5 -12.3 8.7 -12 6.6 -11.4 4.2 -9.9 1 -7.6-1.8 -4.6-3.2 -.5-2.4 2.4-.1 3.9 2.6 2.6 3.2 -.3 1.8 -3.5 .2 -3.7 .4 -1.7 2.5 -.2 4.4 -.7 5.1 -3.5 4.5 -5.4 3.8 -6 3.1 -5.2 1.7 -4.5-.3 -3.4-3.2 -1.9-4.5 1.1-4.6 4-4.2 5.5-4.4 5.3-5.8 5-7.5 5.5-9.8 7.1-12.1 9.2-13.6 12.2-12.7 14.8-9.6 16.2-4.9 14.7-.4 11 3.6 4.8 8.3 -.2 11.9 -5.3 15.6 -10.3 18.2 -14.7 19 -19.4 17.2 -21.9 13.8 -22.4 8.9 -20.1 3.9 -15.9 .4 -9.4-1.9 -4.1-2.6 .2-3.2 2.4-4.7 3.1-6.8 4-9.2 5.9-10.1 8.6-9.4 11.2-7.3 12.1-5.6 10.7-5.3 8.5-6.3 6.5-7.5 6.4-8.1 7.7-8.2 9.1-7.8 9.7-6.7 9.7-3.6 9.3 1.1 7.7 5.1 3.3 8.4 -1.9 10.3 -6.9 12.1 -10.2 13.8 -12.5 14.2 -15 12.9 -16.5 10.4 -16.7 6.3 -15.2 1.2 -12-3 -6.3-5.9 -.9-6.3 4.4-5.4 7.3-4.7 7.4-4.7 6.1-4.9 5.6-3.8 5.7-1.8 5.7 .3 4.4 1.7 1.6 2.4 -.6 2.1 -2.2 .5 -2.9-2 -2.4-4.4 -.1-5.9 2.8-5.9 5.7-5.5 7-4.7 7.1-4 6.3-2.4 5.5-.1 4.5 3.1 2.6 6.3 -.3 9 -4.4 11.9 -7.9 13.4 -11.4 13.5 -14.4 11.1 -16.2 8 -15.7 3.9 -12.9 .6 -8.6-3.1 -4.2-7.1 -.3-10.8 4.6-14.5 8.9-16.2 13.8-15.5 17.7-12.4 19.3-8.1 18-1.7 14.3 3.3 8.3 7.7 1.4 10 -4.6 10.2 -10 8.2 -12 4.9 -11.9 .1 -9.4-4.1 -5.3-6.1 1-5.8 5.3-4.8 7.4-4 6.7-3.2 5.6-2 4.6-.6 3.7-.5 2-1.5 .7-2.3 .7-2.3 1.9-1.2 2.8 .2 2.6 2.1 1.3 4 -.4 6 -3 7.6 -5.1 7.6 -7.6 5.7 -9.1 2.9 -8.9 .6 -6.2-1.2 -3.1-1.7 -.2-1.5 1.4-.6 2.1 1.1 1.7 4.2 .5 7 -1.9 9 -5.4 9.1 -8.6 7 -11.1 2.3 -10.6-1.5 -7.4-4.2 -2.3-6 2.2-7.3 5.6-9.3 7.2-10 9.2-8.7 11.2-5.1 12-.2 9.8 5.5 5.4 8.2 -1.1 8.1 -6.9 5.1 -10 1.2 -9.3-2.9 -5.6-4.7 -.4-5.6 3.7-6.2 5.8-6.7 6.9-6.4 7.4-4.8 8-2.1 7.5 1 5.5 3.6 1.7 5.8 -1.6 5.9 -4.8 3.7 -7-.4 -7-3.5 -3.5-4.5 1-3.2 4.6-1.6 5.1-.6 3.6 0 1.6 1.6 .7 3.1 -.3 4 -2.2 4.5 -3.8 4.9 -4.9 6 -5.3 6.6 -6.1 6.5 -7.3 6.4 -7.8 6.2 -7.9 4.9 -7.6 2.4 -7.1-1 -5.6-4.2 -2.5-6.3 2-8.2 5.3-9.2 8.1-9.7 9.9-9.1 11.1-7.9 11.4-5.6 10.8-2.5 9 1.6 6.3 5 2.5 6.1 -2.9 6.1 -6.2 6.4 -7.3 7.3 -7.3 6.8 -7.7 4.3 -8.8-.2 -7.9-3 -4.1-4.7 .6-5.1 3.9-5.3 5.8-5.4 6.1-5.7 6.3-5.9 6.5-5.8 6.8-5.7 7.1-5.8 6.9-5.8 6.8-5 6.9-2.8 6.9 .2 5.6 4.1 3 6.7 -1.1 9 -5.3 10.4 -8.3 10.3 -11.2 7.9 -12.4 4.6 -12 1.1 -8.9-2 -5.1-4.8 -.5-8.3 2.8-9.7 6.5-8.8 10.1-5.3 11.7-.9 9.9 3.9 5.7 7.2 .1 10.1 -5.2 12.1 -9 12.9 -12.6 12 -14.6 9.9 -15.3 6.8 -14.1 3.7 -11.5 .9 -7.4-2 -3.9-4.3 -.5-6.1 2.8-6.7 5.4-6.2 7.5-5.6 7.9-6 7.3-7.1 6.7-8.2 7.2-8.2 8.8-7.1 9.9-6.5 9.5-6.5 8.4-6.2 7.7-4.7 7.7-1 7.3 3 5 6.7 .6 9.2 -4 10.4 -8.8 11.3 -11.2 12.2 -12.5 12.8 -13.7 11.5 -14.7 8.2 -15.2 2 -13.3-3.4 -8.6-8.7 -1.7-12.4 4.8-14 11.4-13.2 15.2-11.5 16.6-9.5 15.6-7.2 13.5-4.2 10.8 .2 8.2 3.1 4.1 4.9 -.6 5 -4.2 4.7 -5.9 3.7 -6 2 -5.4-.9 -4.3-3.8 -2-4.5 1.8-2.8 4.7 .1 5.3 3.1 2.9 4.8 -.5 5.4 -4.3 6.3 -5.8 7.2 -6.7 8.3 -7.5 8.4 -8.8 7.1 -10 3.3 -10-.8 -7.8-4.4 -3.3-5.7 1.5-5.5 5.8-5.6 6.8-6.9 6.5-8.7 6.7-8.5 8.6-5.8 10.6-.9 9.9 2.6 5.9 4.3 .5 3.7 -3.5 2.3 -5.2 1.6 -4.2 2.7 -2.4 4.3 -2 4.5 -3.5 2.8 -5.5 .7 -5.1 .7 -2.8 2.2 -.8 3.7 -.9 3.3 -3.1 .5 -4.4-2.9 -3.5-7 -.2-10.7 3.9-13 9.4-14 13-13.3 15.9-11.2 16.6-7.6 15.7-2.7 12.7 5.4 8.5 12.6 1.6 18.9 -7.4 22.2 -15.9 22.8 -23.6 21.1 -26.8 18.3 -26.9 13.8 -24.8 7.5 -21.5 1.1 -15-6.3 -8.1-10.9 .3-13.3 8.3-13.1 13.4-10.9 16.1-7.9 15.4-6.1 12.4-5.2 9.1-4.4 7.1-3.3 5.9-1.9 5.2-1.3 3.6-1.8 2.1-3 1.6-3.9 2.4-4.4 3.7-4.4 4.8-3.4 5.3-.4 5.2 4.1 3.6 9.4 -.1 11.6 -6.1 11.8 -11.6 11.4 -14 11.4 -14 10.6 -13.6 8.2 -13.5 3.7 -12.3-1.1 -9.4-5.1 -3.3-8.6 1.9-10.4 7-11.1 10.5-10 12.6-7.6 13.2-3.3 11.7 .3 8.2 3.4 3.4 5.2 -.8 5.6 -4.7 4.8 -6.3 4.2 -6.5 3.5 -5.8 2.8 -4.8 1.6 -4.1-.5 -3.2-1.9 -1.4-3 .7-3.8 2.5-4.3 3.8-5.3 4.6-6.2 5.3-6.9 6.4-6.5 7.5-4.6 8.3 0 7.7 4.2 4.5 6.9 -.6 7 -5.4 5.2 -8.6 2.6 -8.1 .4 -5.8-2.4 -2.7-5.9 -.1-9.2 3.5-12.3 7.4-12.3 11.9-9.5 14.8-4.9 14.5-.2 10.3 5.2 5.3 8.9 -1 12.1 -6.7 13.7 -11.2 13.8 -14.9 11.5 -16.4 7.5 -16.2 2.2 -13.2-2.3 -8.4-5.2 -1.4-8 3.2-10.1 6.9-11.5 9.8-10.6 12.3-7.6 13.7-2.3 12.4 1.1 7.9 2.7 2.3 2.8 -1.7 2.8 -3.4 3 -3.3 3.3 -3.3 3.1 -3.6 2.4 -3.9 1.4 -3.7-.1 -2.7-1 -1.3-1.1 .2-.7 1.2-.1 1.4 .3 .7 .4 0 .7 -.4 2.2 -.4 3.9 -1.2 6.2 -2.7 7.4 -5.2 8.8 -7.5 9.8 -9.1 9.8 -10.7 6.8 -11.9 2.1 -11.2-3.5 -7.5-7.2 -1.8-8.4 5.3-7.7 8.9-7.8 9.9-9.4" fill="none" stroke="#0072BD" stroke-width="1.6" stroke-linejoin="round" stroke-linecap="round"/>
<rect x="398.0" y="4.4" width="277.2" height="232.6" fill="none" stroke="#262626" stroke-width="2.0"/>
<path d="M467.3 237.0v-3.6M467.3 4.4v3.6M536.6 237.0v-3.6M536.6 4.4v3.6M605.9 237.0v-3.6M605.9 4.4v3.6M398.0 62.5h3.6M675.2 62.5h-3.6M398.0 120.7h3.6M675.2 120.7h-3.6M398.0 178.9h3.6M675.2 178.9h-3.6" stroke="#262626" stroke-width="1.5" fill="none"/>
<g font-family="'Liberation Sans', Arial, Helvetica, sans-serif" font-size="13.16" fill="#262626">
<text transform="translate(398.0 256.3) scale(1.02 1)" text-anchor="middle">-0.2</text>
<text transform="translate(467.3 256.3) scale(1.02 1)" text-anchor="middle">-0.1</text>
<text transform="translate(536.6 256.3) scale(1.02 1)" text-anchor="middle">0</text>
<text transform="translate(605.9 256.3) scale(1.02 1)" text-anchor="middle">0.1</text>
<text transform="translate(675.2 256.3) scale(1.02 1)" text-anchor="middle">0.2</text>
<text transform="translate(392.0 10.2) scale(1.02 1)" text-anchor="end">0.2</text>
<text transform="translate(392.0 67.6) scale(1.02 1)" text-anchor="end">0.1</text>
<text transform="translate(392.0 125.7) scale(1.02 1)" text-anchor="end">0</text>
<text transform="translate(392.0 183.9) scale(1.02 1)" text-anchor="end">-0.1</text>
<text transform="translate(392.0 242.0) scale(1.02 1)" text-anchor="end">-0.2</text>
</g>
<g font-family="'Liberation Sans', Arial, Helvetica, sans-serif" font-size="15.21" fill="#262626">
<text transform="translate(536.1 275.2) scale(1.005 1)" font-size="16.27" text-anchor="middle">x(t)</text>
<text transform="translate(359.0 120.9) scale(1.00 1) rotate(-90)" text-anchor="middle">x(t+4)</text>
</g>
<g font-family="'Liberation Serif', 'Times New Roman', Times, serif" font-weight="bold" font-size="17.0">
<text x="405.6" y="305.9" font-size="18" fill="#0a0a0a">(b)</text>
<text x="435.6" y="305.9" textLength="222.6" lengthAdjust="spacingAndGlyphs"><tspan fill="#ff0000">Phase diagram after FEM</tspan><tspan fill="#0a0a0a">-SVD</tspan></text>
</g>
</g>
<g id="panel-c">
<clipPath id="clip-c"><rect x="51.1" y="344.4" width="261.0" height="225.5"/></clipPath>
<path clip-path="url(#clip-c)" d="M164.6 447.9l10.9-4.8 10-3.9 7.6-3.8 5.4-4 4.5-3.6 4.4-2.8 4.6-1.7 4.1-.3 3 1.8 1.9 4.1 -.1 5.7 -2.3 4.6 -5.3 .4 -6.6-4.7 -4.9-8.4 .6-10.1 6.1-9.4 10.3-7.8 11.6-4.8 10.8-.4 8.5 6.8 5.1 12.4 -1 16.6 -8.6 18.1 -15.1 17.7 -19.8 15.2 -21 12.1 -20 7.9 -17.3 3.1 -13.6-1.4 -8-6.6 -3.1-9.5 2.8-10.6 8-9.3 11.3-6.5 12.3-2.6 10.4 .5 6.8 3.8 2.6 6.2 -1 7.2 -5.1 6.4 -7.4 4.7 -8.3 2.9 -7.2 1.7 -5.2 1.2 -3 .7 -1.9-.2 -1.3-1.6 -.7-3.2 .4-4.7 2.2-6.1 3.9-6.8 5.8-6.9 7.1-6.1 7.9-4.7 7.9-2.4 6.9-.6 5 .9 2.6 1.7 .5 1.6 -1.3-.4 -2.1-3.2 -1.5-6.7 .8-9 4.1-9.5 8.4-7.7 10.7-4.6 10.7-.4 8.6 3.9 4.9 6.8 -.7 9.7 -4.8 11.5 -8.6 12.8 -11.4 12.5 -13.6 10.4 -15 6.5 -14.3 3.3 -11.2 .9 -7-.5 -3.6-1.4 -.6-1.6 .8-1.4 1.6-.8 1.9 .1 1.6 1.1 .7 2.6 -.2 3.1 -1.6 1.9 -3.1-.3 -3.5-2.7 -1.9-5 .7-6.7 3.6-8.2 6.1-9.4 8-10.3 9.8-10.7 11-10 12-8.4 12.3-5.8 11.6-2.7 9.2 1.5 6.2 4.3 2.3 5.5 -2.1 3.5 -5.4-.9 -6.2-7.5 -3.6-11.4 2.4-11.7 9.3-7.4 13.5-.1 13.1 10.1 7.8 17.2 -2 22 -12.8 23.4 -20.7 22.8 -26.1 20.7 -27.1 18 -26 13.1 -23.6 6 -20.4-1.3 -13.8-9.2 -6-13.8 3.2-16.4 11.4-16.1 16.5-13.4 19.2-8.2 18.4-3.2 14.5 1.5 8.8 4.9 3.2 6.8 -2.7 7.8 -6 7.6 -8.2 6.4 -9 4.1 -8.7 1.2 -7.1-3 -4.4-6.1 -.5-8.3 3.9-9.5 7.4-10 10.1-10.2 11-10.1 11.6-8.5 11.9-5.7 11.5-3 9.4-.6 6.2 .7 2.9 1.9 .5 3.3 -.9 4.2 -2.5 4.4 -4 3.7 -5 3 -5 3.2 -4.2 4.2 -3.4 6.4 -3.7 7.5 -5.4 7.3 -7.5 5.1 -8.9 2.3 -8.1-1.2 -5.6-4.3 -1.9-7.9 1.8-11.4 5.3-12.9 10.1-11.6 13.5-7.9 14.9-3.2 13 1.5 8.7 5.1 2.5 8.4 -2.2 10.2 -6.7 10.8 -10.1 10.6 -11.8 9.7 -12.6 7.6 -12.2 5 -10.9 2 -8.5-.8 -5.4-3 -1.6-5.9 1.2-7.8 4.1-9.1 7-8.3 9.4-6.6 10.5-4.1 9.5-2.3 7.1-.2 4.5 2 2.3 3.8 -.2 5.3 -2.5 5.7 -4.9 5.7 -6.2 5.5 -6.6 5.2 -6.5 4.4 -6.3 3.1 -5.9 1 -5-1.9 -3.4-4.4 -.5-6.7 2.5-7.6 5.7-8.5 7.8-9.6 8.9-10.3 10-9.4 11.3-7.3 11.9-4.3 10.6-1.1 8.1 2.1 4.3 6.1 .9 8.5 -3.3 9.8 -7.3 9.8 -10.2 9.1 -11.5 8.1 -11.2 6.7 -10.3 4.3 -9.2 1.3 -7.6-.7 -4.3-1.2 -1.2 .2 1.1 2.7 1.2 5.2 -.5 6.7 -3.7 6.6 -6.3 4.1 -7.9 0 -7.3-3.6 -4.4-5.5 .9-5.8 4.6-5.8 6.5-7 6.7-9.1 6.8-11.1 8.4-11.3 10.9-9.5 13-6.7 12.9-3.8 10.8-1.9 7 .2 4.2 2.1 1.7 4.5 -.4 6.5 -2.7 7.2 -5.8 6.8 -7.7 6.3 -8.3 4.8 -7.8 1.9 -7.2-2.3 -5.1-6.8 -1.7-7.8 3.8-6 8-2.8 9-.9 6.3-.1 3-.2 .7 .3 .2 1 .2 1.4 -.5 1.2 -1.2 .3 -1.7-.9 -1.3-1.8 -.2-1.7 1.4 0 2.1 2 1.6 4.4 -.1 6.3 -2.7 7.3 -5.6 8.3 -7.4 8.9 -8.7 8.7 -9.7 6.9 -10.4 4 -9.8 .6 -7.7-1.4 -3.9-2.3 -.3-3.4 1.7-4.6 3-5.9 4-6 5.7-5.1 6.8-3.6 6.9-2.2 5.7-.9 4-1 2.1-1.7 1.1-2.6 1.2-2.9 2.2-3.9 3-5.6 3.5-7.1 4.7-6.7 6.7-4.1 8.4 .3 7.6 3.3 3.8 5.3 -.8 5.5 -4.1 4.4 -6.4 1.9 -6.3 .3 -4.6-.2 -2 .9 -.1 1.8 .1 2.2 -1.2 1.9 -2.3 2 -2.4 3.1 -2.2 4.5 -2.5 6.3 -3.7 7.3 -5.6 8.2 -7.4 8 -8.7 6.3 -9.6 2 -9.1-2 -6.5-5.5 -1.8-6.7 2.9-5.9 6.9-3.3 7.7-1.4 6.4-.3 3.6-.5 1.4-1.1 .2-2 .6-3.1 1.5-4.7 2.4-6.4 3.7-7 5.9-5.3 7.6-2.3 7.9 1.4 5.8 4.4 2.2 6.7 -2.4 9.1 -5.4 10.3 -8.3 9.8 -10.7 7.1 -12 3.1 -11-2.9 -7.8-7.9 -2.4-11.8 4.1-13.2 9.7-12.3 14.3-10.8 15.2-9.9 14-8.7 12.3-6.4 11.4-3.6 9.7-1.4 7-1.2 3.6-.8 1.6 1.3 1.3 4.9 .8 9.8 -1.9 12.8 -6.8 14.8 -11.8 16.2 -15.1 17.1 -17.5 16.9 -18.9 15.1 -19.9 11.7 -19.4 7.1 -17.2 2.4 -12.5-3.4 -7.7-6.6 -1.5-7.6 4.5-6.5 7.9-4.7 8.8-3.7 7.2-4.6 5.1-6.9 4.3-9 5.5-9.2 8.7-7.7 10.5-6.8 10.4-6.9 8.8-7.4 7.7-7 8.2-5.2 8.5-4.2 7.8-4.2 5.9-4.9 4.7-5 5-4 5.8-2.9 5.7-2.4 4.4-2 3.3-.7 2.6 2.7 2.2 7 .3 11.7 -3.7 14.5 -8.7 14.7 -14.4 13 -16.9 11.4 -16.8 10 -14.8 8.2 -13 5.1 -11.3-.8 -9.2-6 -4.7-10 1.6-11.7 7.5-11.6 12.3-10.4 13.6-9.1 13.2-7 11.9-4.2 10.3-1.2 7.6 2.4 4.4 5.3 .7 7.8 -3.2 9.1 -6.4 8.5 -9.6 6.1 -10.5 3.4 -9.5 .8 -6.7-.7 -3.6-1 -.4-.6 .9-.1 1.1 1 .7 2.6 0 4.4 -1.4 6 -3.3 5.7 -5.6 3.4 -7 .5 -6.3-1.5 -3.3-2.6 -.3-3.2 2.1-3.8 3.1-4.5 3.7-5.2 4.6-6.9 5.2-8.8 6.3-10.5 8.2-10.1 10.5-7.7 12.3-3.7 11.5-.9 8.1 .9 3.9 1.9 .7 2.9 -1.3 5.1 -2.3 6.9 -3.8 7.8 -6.1 7 -8.1 4.7 -9.1 .6 -7.9-3.3 -4.6-6.9 -.2-8.7 4.2-8 8.7-4.9 10.1-2.6 8.7-1.4 5.4-.9 2.7 0 1.5 2.1 .9 3.9 -.4 6.3 -2.5 8.6 -4.9 10.5 -7.8 10.7 -10.3 8.3 -12.4 4.3 -12.1 .1 -9.2-3.2 -4-6.3 .4-7.8 4.4-8.4 7.5-8.2 9.2-7.7 9.8-7.2 9.3-5.8 8.9-2.2 8.2 3.1 6.5 8 1.5 12.4 -4.3 14 -10.4 13.7 -14.6 12.3 -16.3 10.1 -15.7 6 -14 2 -10.9-2.1 -6.4-4.3 -1.7-4.5 3.1-3.5 5.1-2.6 5.1-1.9 3.9-1.8 2.8-2.4 2.2-4.2 2.2-6.5 2.9-8.6 5.2-9.2 7.8-8.2 10.4-6.7 10.5-6.1 9.1-5.8 7.7-4.7 7-2.4 6.6 1.4 5.2 5.1 2.1 8.4 -2.2 10.6 -6.3 11.5 -10.3 11.8 -12.4 11.6 -13.5 10.8 -13.6 9.2 -13.4 7.3 -12.2 4.8 -10.5 2.6 -7.9 .5 -5.3-1.5 -2.7-2.9 -.1-4.1 1.9-5.2 3.6-5.8 5-5.6 6-4.8 6.8-3.9 6.4-4 5.4-4.3 4.5-4.2 4.6-3.4 5.1-2.3 4.8-2.3 3.7-3.6 2.6-6.1 2.7-8.2 4.7-9.6 7.2-9.3 9.9-6.9 11.2-3.1 10.6 .5 7.3 4.2 3.1 6.3 -1.4 7.6 -5.2 7.8 -7.6 7 -8.9 4.8 -8.9 2.6 -7.7 .5 -5.4-.5 -2.7-.5 -.2-.8 .6-1.6 .6-2.3 1-2 2-.5 2.7 1.6 2.2 2.2 .1 1.6 -1.9 .3 -2.7-.1 -1.6 1.3 -.2 3.3 0 4.1 -1.8 3 -4 1.3 -4.7 .1 -3.2 .5 -1.2 .9 -.2 .9 -.5 .3 -1.2 .1 -.9 1 -.3 2.8 -.2 4 -1.4 4.2 -3.6 2.9 -4.7 1.7 -4.6 .7 -3.3 .6 -1.7 .9 -.7 .8 -.7-.6 -1.2-2.5 -.7-4.1 .8-4.4 3.4-4.3 4.8-4.4 5.1-4.4 5-4.2 5.1-3.4 5.1-2.4 4.7-1.4 3.8-1 2.6-1.4 1.6-1.9 1.1-1.5 1.7-.1 2.2 1.8 1.6 3 -.1 3.6 -2.4 3.9 -3.6 3.7 -4.3 2.7 -4.5 .3 -4.2-2.8 -2.8-6.6 0-8.9 4.1-9.9 8.1-9.1 10.5-7.6 11.4-5.1 10.4-2.3 8.3 1.2 5.5 4.8 2.4 7.4 -2.2 8.4 -6 7.9 -8.9 6.8 -9.8 5.7 -9 5.2 -7.6 5.4 -6.5 6.3 -6 7.6 -6.3 8.4 -7.5 8.1 -9.1 6.1 -9.7 3.1 -9.1-1.2 -6.7-5.7 -3.1-8.4 2.4-9.5 7-8.8 10.2-7.5 10.9-6.7 10-5.8 8.5-4.1 7.7-1.9 6.4 .1 4.4 .9 1.9 .8 -.4 .8 -1 1.8 -.9 3 -1.1 3.5 -2.1 3.1 -3.8 1.5 -4.1 .3 -3.2-.9 -1.7-1.4 -.1-1.7 1.3-2.3 1.7-3.1 2-3.4 2.7-2.4 3.7-.6 3.9 1.3 2.5 2 .3 2.6 -1.6 3.2 -2.4 3.6 -3.1 3.2 -3.8 2.1 -4.2 1.4 -3.5 1.2 -2.4 1 -1.5-.5 -1.4-2.5 -.9-5 .8-7 3.2-7.9 6.3-7 8.3-4.6 9.1-.8 7.9 2.8 4.9 4.8 0 5.5 -3.6 5.6 -5.8 5.4 -6.4 4.6 -6.4 3 -6.2 0 -5.2-1.9 -2.8-2.6 .2-1.9 2.4-1.2 3-.9 2.2-1.5 1.2-2 1.1-1.8 1.7-1 2.4-.1 2.1 .9 .9 2.6 0 5.3 -1.1 7.3 -3.6 8.4 -6.4 7.8 -8.9 5.9 -9.7 3.7 -8.8 2.1 -6.3 1.5 -4.1 2.6 -2.2 4.7 -1.8 6 -3.3 5.5 -5.8 2.9 -7 .4 -5.9-1.9 -3.1-3.9 -.1-6.2 2.7-10 4.8-13.4 7.9-15.7 12-15.8 15.9-13.8 18.5-9.9 18.1-6.8 15.1-3.6 11.1 0 7.5 3.7 3.5 7.5 -.5 8.6 -5.2 7.6 -8.9 5.5 -10 3.9 -8.4 2.9 -6.1 2.6 -4.2 1.9 -3.4 1 -3 .9 -1.9 1.7 -1.1 2.8 -1.2 4 -2.1 4.2 -3.4 3.1 -4.8 .4 -4.8-1.6 -3.1-2.2 -.1-1.4 2-.7 2.5-1.2 1.5-1.8 .9-1 1.4 1.4 2.1 3.3 .8 3.8 -1.9 2.6 -4.1 .5 -4.3-1.5 -2.7-2.9 -.2-3.9 1.9-3.4 3.7-2.1 4.5-.6 3.9 .3 2 .8 .6 .8 -.5 0 -1-2 -.9-4.9 .3-8.2 2.7-9.4 6.4-8.4 9.7-5.5 11-1.9 9.2 3 6 6.7 1.1 9.5 -4 10.4 -8.1 9 -11.5 5.6 -12 2.9 -9.8 .7 -6.1-1 -3-2.5 -.4-4.1 1.4-4.8 3.2-4.3 5-2.8 5.5-1 4.7 .8 3 1.8 .8 2.5 -1.1 2.9 -2.2 3.3 -2.9 3.8 -3.4 3.7 -4.1 2.7 -4.4 1.6 -4.1 .8 -2.9 .3 -1.8 .4 -.7 1 -.3 2 -.5 2.5 -1.5 2.1 -2.4 .8 -2.9-1.1 -2.2-3.2 -.7-5.1 1.7-7.4 3.9-8.4 6.5-8.4 8.6-6.2 10-2.6 9.4 2 6.8 4.4 2 5.1 -2.8 5.2 -5.3 5.8 -5.9 6.4 -6 5.4 -6.9 2.1 -7.4-2.2 -6-5.4 -1.6-6.7 3.1-5.7 6.7-4.2 7.7-3.8 6.5-4.9 4.6-6.5 4.5-7 5.9-6.6 7.7-5.6 8.1-5 7.4-4.3 6.4-2.4 5.7 1.4 4.8 6.2 2.5 10 -2.7 12.9 -7.7 14 -12.3 14.5 -15.2 14.6 -16.3 14.6 -16.8 14 -17 12.6 -16.7 9.6 -16.1 5.3 -14.3 .9 -10.3-4.3 -5.6-8.2 .2-12.1 5.4-15.6 9.9-18.1 15-20 18.4-20.8 21.4-20.8 23.3-19.8 24.1-17.8 24-14.3 22.7-10.6 19.9-6.1 16.1-1.4 11.8 2.3 6 5.3 1 7.2 -3.3 10 -6.4 13.9 -8.6 17.5 -12.4 20.4 -16.6 20.9 -21 19.7 -23.7 17.6 -24.1 15.9 -22.4 14 -20.2 12.6 -17.9 9.9 -16.1 5.5 -14.4 1.3 -10.6-3 -5.8-5.7 -.5-9.3 3.8-13.8 7-17.6 11.7-19.9 16.5-19.8 21-18.6 23.1-17.7 22.8-17 21.3-15.5 20.4-12.9 19.5-8.9 17.6-4.5 14.5-.5 9.4 3.8 4.7 6.6 -.4 9.2 -4.8 11.1 -8.1 13 -11 15.2 -13.2 16.4 -15.5 16.9 -17.7 16 -19.2 14 -19.5 10.3 -18.3 6.9 -15.5 3.1 -11.5 .3 -7.5-2 -2.9-4.6 .1-6.6 2.8-8.6 5.5-9.6 8-9.6 10.3-7.4 11.2-4 10.8 .2 8.2 3.1 4.1 3.3 -1.2 2.3 -3.6 1.7 -3.8 1.6 -2.5 1.5 -1.9 1 -1.9 .2 -1.7-.2 -.9-.1 -.2 .4 .3 1.5 0 3 -.6 3.7 -2 3.2 -3.6 1.7 -4.3-.3 -3.5-3.6 -1.8-6.2 1.1-7.1 4.5-5.6 7.4-3.2 8.2-1.8 6.1-1.8 3.4-1.1 2 1 2 3.5 1 5.6 -1.5 6.7 -4.5 6.8 -6.7 5.7 -7.8 3.2 -7.8-.4 -6.4-2.6 -2.9-3 .9-1.9 3.2-.5 3.3 .4 1.9 .5 .4 .7 -.5 .9 -.6 1.1 -.8 .8 -1.1-.2 -1.2-2.9 -1-7 .5-10.5 4.2-12.4 8.6-10.9 12.8-7.2 14.3-3.3 12.3-.7 7.3 1 3.4 2.1 .4 3.4 -1.3 3.9 -2.6 3.4 -4.1 1.4 -4.6-.3 -3.6-1.6 -1.4-2.5 .6-3 2.2-2.4 2.9-.2 3.4 3.5 2.6 7.6 -.1 10.3 -5 12 -9.2 11.5 -12.4 9.4 -13.9 6.5 -13.2 4.2 -10.3 2.8 -7.1 2.1 -4.6 1.1 -3.1 .5 -2.2-.1 -1.2-.7 -.4-1.5 .1-2.5 1-3 1.9-3.7 2.9-5.2 3.6-6.5 4.6-7.6 6.2-7.4 7.7-6.4 8.9-5.2 8.4-5.3 7.1-6.4 6-7.3 6.3-7.1 7.6-6.2 8.5-4.7 8.1-1.5 7 3.5 5.2 8.9 .8 14.6 -4.8 17.5 -11.6 18.7 -17.3 17.9 -20.5 15 -21.8 10 -20.4 5.3 -16.4 .4 -10.9-4.6 -5.7-9 .7-13.2 5.9-14.4 11.5-13.4 15.5-10.3 16.8-6.9 14.9-2.9 11.6 .2 7.1 3.2 2.9 5.5 -.6 6.4 -4.4 6 -6.5 4.9 -7.5 3.6 -6.8 2.8 -5.4 2.7 -4 2.8 -3.2 3.1 -3 3.1 -3.4 2.2 -3.6 .9 -3.5-.6 -2.4-1.4 -.7-1.7 .9-2.8 1.6-4.3 2.1-6.9 3.4-8.4 5.6-9.1 8.1-9.1 9.9-8.5 10.7-8.2 10.3-8.3 9.8-8.8 9.5-8.8 9.6-7.6 10.3-3.7 10.1 .9 8.2 5.9 3.7 9.8 -1.6 12.1 -8 13.7 -11.7 13.8 -14.4 11.6 -15.9 7.2 -15.9 2.1 -12.6-3.7 -7.7-7 -1.1-8.1 4.7-6.3 8.4-2.6 9.4 2.6 6.9 5.1 1.8 6 -3.3 5.1 -6.3 3.5 -6.8 .8 -5.7-2.2 -3.6-5.6 -.6-8.1 2.9-9.1 7.3-8 9.6-5.9 10.4-2.8 9.1 .2 6.5 2.4 2.4 4.4 -.5 5.3 -3.2 4.8 -5.3 2.4 -6.2-.2 -5.2-2.4 -2.4-2.3 .8-1.3 2.8-.5 2.6 .1 1.3 1 .4 2.6 -.1 5 -1.4 6.5 -3.3 7.3 -6.2 7.1 -7.7 6.3 -8.4 4.5 -8.2 2.2 -7.1 .2 -4.8-1.7 -2.3-2.9 .3-4.1 2.1-5.3 3.5-5.4 5-3.7 6.2-.7 6.1 3.1 3.9 6.3 .4 8 -4.4 8.3 -7.6 6.8 -9.5 3.7 -9.4 .1 -7.6-2.7 -3.5-4.4 .3-5.2 3.5-5.8 5.3-6.1 6.1-6 6.8-4.7 7.1-2.8 6.7 .4 5.3 3.8 2.9 6.3 -1.3 7.9 -4.8 8.6 -7.7 9.2 -9.2 9.5 -10 9.1 -10.8 7 -11 3.8 -10.2-.9 -7.7-6 -4-10.1 2.2-13 7.6-13.5 12.5-12.3 15.2-10.4 15.5-8.7 13.8-6.8 11.9-5.1 9.6-3 7.7-.4 5.7 2.2 2.9 4.8 .1 5.7 -3.2 5.8 -5.6 5.4 -6.7 5.1 -6.7 5 -6.2 5.1 -5.8 4.7 -5.8 3.3 -5.9 1.2 -5.2-1.4 -3.7-2.4 -.8-2 1.8-.8 2.8 .5 2.2 1.9 .7 3.4 -.9 5.1 -2.4 6.1 -4.1 6 -6.2 4.2 -7.1 1.1 -6.7-3.6 -4.5-8.7 -.9-12 5.4-12.4 10.6-9.4 14.2-3.9 14.1 2.3 10.4 7 3.1 10.5 -3.3 11.3 -9 10.6 -12.4 9.2 -13.1 7 -12 2.4 -10.4-3 -7.3-8.9 -2.1-12.7 4.2-13.4 11.5-10.7 14.9-6.9 15.1-2.6 12 .3 7.4 1.6 2.3 1.7 -.7 .9 -2-.5 -1.8-1.9 -.9-2.8 .9-2.6 2.4-1.8 3.2-1.6 2.9-2.2 2.1-2.6 1.9-2.1 2.5-.4 3.1 1.4 2.2 2.5 .3 2.8 -2 3.1 -3 3.8 -3.3 4.7 -3.6 4.9 -4.6 4.5 -5.5 3.6 -5.7 2.7 -5 1.3 -4-1.1 -3.1-3.6 -1-6.2 1.5-7.3 4.8-7.3 7.4-5.5 8.6-3 8.1 1.2 6.2 4.5 2.6 6.8 -1.9 7.7 -5.5 7.6 -8.3 6.9 -8.9 6.9 -8.6 7.1 -8.1 7.1 -8 7 -8.2 5.8 -8.2 3.8 -7.9 0 -6.6-4.3 -4-7.4 .9-8.9 5.6-8.6 9-8 10.3-7.7 9.9-7.4 9.1-6.6 8.9-6 8.4-6 7.5-6.1 6.9-5.2 7.1-2.8 7-1.9 5.5-3 3.1-4.6 2.1-3.9 4 0 5.3 3.5 3.9 5.2 -.5 5.3 -4.4 5.4 -6.2 6.7 -6.1 8.4 -6.4 9.5 -8 9.6 -9.9 8.8 -11.2 6.7 -11.1 4.1 -9.8 .6 -7.3-3.3 -4.4-6.8 .1-10.4 4.3-12 8.7-12 12.3-10.6 14-7.9 13.8-3.6 11.9-.4 8.3 1.4 3.7 1.5 .1 1.3 -1.8 2.3 -1.7 3.8 -1.6 4.6 -2.9 3.8 -4.6 2.8 -5.2 2.9 -4.3 4.4 -3.1 6.4 -3.5 7.5 -5.4 7.4 -7.8 6.6 -8.7 5.6 -8.4 4.2 -7.5 2.5 -6.4 1.2 -4.4 .4 -2.7-.4 -1.2-1.9 -.4-4 .5-5.8 2.7-7.3 4.9-7.9 7.1-7.9 8.5-7.1 9.2-4.9 9.1-1 7.9 3 5 6.9 .6 9.2 -4 9.3 -8.7 8.2 -10.7 6.7 -10.6 5.4 -9.3 4.1 -7.6 2.8 -5.9 1.1 -4.6-.2 -2.9-.8 -1.1-1 .3-1.6 1-3.1 1.2-4.2 2.2-3.4 3.8-1.3 4.8 .4 3.6 .8 1.3 .3 -.7-.3 -.9-1 -.2-2.4 .4-5.7 1.3-8.7 3.4-10.7 7-10.8 10.4-8.9 12.7-6 12.2-3.9 9.8-2.3 6.6-.7 4.3 1.2 2.3 3.7 .7 4.8 -2 4.5 -4.5 4 -5.6 4.6 -5.1 6.7 -4.6 8.6 -5.6 8.9 -8.1 6.2 -10.2 2.1 -9.9-3.5 -6.8-6.6 -1.2-8 4.5-7.6 7.9-6.4 9.4-5.1 8.7-4.8 7.1-4.6 5.8-4 5.5-2.3 5.3 1.2 4.5 4.2 1.9 6 -1.8 6.1 -5.1 5.3 -7.2 4.5 -7 4.6 -5.9 4.9 -5.2 4.9 -5.4 4.6 -5.7 4 -5.6 3.4 -5.2 2.3 -4.6 .9 -3.8-.3 -2.3-1.4 -.9-2.1 .6-2.8 1.6-2.9 2.6-2.1 3.3-.4 3.3 1 2.2 1.6 .2 1.2 -1.3 .5 -1.8-.9 -1.3-2.7 -.4-5.6 1.2-8.9 3.4-11 7.3-11 10.7-9.2 12.9-6.8 12.5-4.2 10.4-1.9 7.2 1.7 4.7 4.9 1.4 7.9 -2.4 9.8 -6 10 -9.8 7.8 -11.4 4.3 -11.3 .9 -8.7 .2 -4.4 2.8 -.5 6.9 -.4 8.1 -4.1 5.3 -8.4 .2 -9.3-4.6 -5.1-8.8 .4-11.1 6.3-12.2 10.6-12.4 13-12 14.3-10.4 14.4-7.8 13.6-3.2 11.8 2.2 8.5 6.4 2.5 9.5 -3.1 10.4 -8.3 10.7 -11.1 10.7 -12.1 10.5 -12.4 9.3 -12.4 7.3 -12 5.1 -10.5 3 -8.2 1.4 -5.3-1.1 -3.3-3.4 -1.1-5.4 1.5-6.2 4.2-5.9 6.6-5.2 7.2-4.2 6.7-3 5.8-1.9 4.8-1 3.3-.2 2 0 .9 .3 .3 .7 -.1 1.1 -.4 2 -.8 3.2 -1.5 4.8 -2.5 6.1 -3.8 6.8 -5.9 7.3 -7.2 7.1 -8 5.9 -8.4 3 -8.3-.4 -6.3-3.8 -3-5.8 1.2-7.7 4.7-9.6 6.9-10.1 9.5-9 11.1-6.8 11.7-4.6 10.1-3.6 7.6-3.3 5-2.4 4.1-.1 3.7 4 2.6 7.5 -.4 9.3 -5.5 9.4 -9.1 8.6 -10.8 7.4 -10.8 5.4 -9.9 3 -8.1-.4 -6-3.9 -2.9-7.6 1-9.9 4.9-9.6 9.6-6.7 11.6-4.3 10.6-3.1 7.4-2.4 4.7-1 3.4 1.7 2.6 3.4 .7 4.3 -2.2 4 -4.2 3.4 -4.9 2.4 -4.6 .8 -3.8-1.6 -2.6-4.1 -.7-5.6 2.5-6 5-5.4 6.6-4.1 6.9-1.9 6.2 .4 4.3 3.2 1.9 5.3 -1.1 6.8 -4 6.7 -6.3 5.3 -8.1 3.1 -7.6 2 -5.7 1.1 -3.4 0 -2.2-1.2 -1.1-1.4 .2-.4 1.5 1.7 1.7 3.8 .2 5.4 -2.5 6.4 -4.7 5.9 -6.5 3.3 -7.4-1.4 -6.7-5.6 -2.9-9.4 2.2-10.6 7.5-10.7 11-10 12.4-8.9 12.3-6.5 11.5-3.8 9.8-.2 7.2 3.8 4.1 6.9 -.7 9.3 -4.9 9.7 -8.6 9.5 -10.8 9.2 -11.3 9.1 -10.9 8.9 -10.6 8 -10.5 6 -10.2 3.2 -9.2 .3 -6.4-2.3 -3.3-3.4 .3-3.5 2.9-3.3 4-3.4 4-4.3 3.8-5.1 4.1-5.8 5.1-6.6 5.9-7.7 6.9-8.9 7.8-9.3 9.2-8.8 10.4-7.7 10.7-6 10.1-2.6 8.7 .9 6.3 4.8 2.6 7.5 -1.6 9 -6.2 9.8 -9 10.1 -10.6 10.3 -11.4 10.9 -11.7 11.5 -12 11.4 -12.7 10.7 -13.4 9.7 -13.2 8.9 -12.1 7.8 -11.1 4.3 -10.3 0 -8.4-4.7 -4.4-8.9 .5-12.2 6.5-15.4 10.8-16.4 14.9-16.2 17.9-14.8 19.1-13.2 18.5-11.3 16.9-9.3 15-6.1 12.8-2 10.4 1.5 6.2 4.2 1.9 4.9 -2.5 4.4 -5 3.2 -5.7 2.3 -4.8 2.5 -3.5 4 -2.7 6.5 -3.1 9.2 -4.8 11.9 -8.1 14.7 -11 15.9 -14.4 15.5 -17.3 12.9 -18.5 8.5 -17.6 1.7 -14.4-4.5 -8.6-11 -1.1-15.8 6-18.5 14.1-19.2 18.7-18 21.7-14.3 22.3-8 20.5-.7 15.3 9.6 8.5 17.3 -1.4 23.2 -12.1 25.2 -21 23.9 -27.8 19 -29.1 12.7 -26.8 4.1 -21.3-4.8 -13.8-11.5 -2.7-17.1 6.6-20.3 14.6-22.8 20.3-23.8 23.8-22 26.9-15.2 27.5-6.6 24.3 4.3 16.7 13.6 6.3 19.3 -7.3 22.6 -16.7 23.2 -23.3 21.5 -26.4 16.8 -26.8 10.7 -24 1.5 -18.9-6.3 -10.4-14.1 -.7-20.7 8.2-25.1 18-27.1 24.7-25.3 29.6-19.6 31.3-11 29-2.8 20.9 6.3 11.7 13.1 1.2 20.3 -8.2 26.4 -16 29.1 -25.1 26.7 -31.1 20.4 -33.7 11 -30.2 1.4 -22.6-6.3 -10.5-14.2 -.5-19.3 9.1-23.1 17.1-23.6 23-20.9 27.2-14.7 27.1-8.4 23.1-1.4 16.2 5.9 8.9 12.9 0 20.4 -7.7 23.9 -16.6 23.4 -24.3 19.3 -27.8 13.7 -26.6 5.5 -21.7-1.7 -14.2-9.2 -5.4-15 2.9-18.4 12.2-20.3 17.9-20.2 21.8-17.7 23.6-12 23.2-4.6 19.6 5.1 13.1 11.1 3.1 15.1 -6.7 16.5 -13.5 16.3 -18 14 -19.2 10.1 -18.5 3.9 -15.8-3.2 -11.1-8.9 -2.9-13.7 4.4-15.4 11.5-14.8 16.3-11.9 17.9-7.8 16.7-2.4 13.2 1.3 7.9 4.3 2.3 5.7 -2 5.5 -5.5 4.3 -6.6 2.7 -6.2 .5 -4.7-2.5 -2.9-5.5 0-7.9 3.3-8 7-6.8 9.2-5.5 9.2-5 7.5-3.9 6.3-2 5.6 1.4 4.4 4.7 1.9 6.4 -2.5 6.6 -5.7 6 -7.5 5.8 -7.6 5.9 -6.9 6 -6.6 5.3 -6.9 4.3 -6.9 3.6 -6 4.4 -4.8 5.3 -4.2 5 -5.2 3.9 -6.2 3.2 -5.8 4.5 -4.3 6.4 -3.8 7.6 -5.4 6.6 -7.8 3.7 -8.7 .4 -7.4-3 -3.6-7.3 0-11.4 4.3-15.2 9.1-17.6 13.6-18.1 18.3-16.2 20.6-13.1 20.7-8.7 18.4-3.8 14.7 1 9.1 7.4 3.8 11.5 -2.6 13.6 -9.1 11.8 -13.8 8 -15.8 3.3 -13.3 1.3 -8.2 1.5 -3.4 2.5 -1.4 3.1 -1.9 2.2 -3 .9 -3.5-.3 -2.4-.9 -.9-.7 .6-.7 1-1 .8-1.6 .8-1.6 1.3-1.1 1.9-1.1 1.8-2.4 1.2-4.9 1.4-7.3 3-8 6.3-6.5 8.6-3.6 9.2-.1 7.2 2.9 3.7 5.2 -.7 7.4 -3.7 8.3 -6.5 7.1 -8.7 4.1 -9.6 1.4 -7.7-.4 -4.4-.5 -1.1 .2 .6 .8 .4 1.3 -.3 1.6 -1 1.1 -1.6-.5 -1.9-1.8 -1.1-2.3 .9-2.2 2.2-2 2.7-1.5 2.6-1.2 2.2-1.2 1.6-1.9 1.4-2.3 1.5-2.5 2.3-3 2.7-4 3-5.8 3.5-7 5-7.2 6.9-6 8.2-4.2 8.1-1.9 6.8 .7 4.4 4.9 1.9 9.5 -1.2 12.9 -6.7 14.4 -11.5 13.5 -15.5 11.4 -16.6 8.5 -15.5 6 -12.5 3.3 -9.5 1.8 -6.3 .5 -3.7-1.4 -1.9-3.4 -.2-5.9 1.8-7.3 4.5-8.2 7-8.1 8.7-7.3 9.5-5 9.4-3.1 8-1.7 5.5-.8 3.4 .1 1.7 2 .9 3.8 -.5 4.7 -2.6 3.9 -4.6 2.1 -5.4-.2 -4.3-2.2 -2-4.2 .6-6.1 2.7-7.7 5.3-8.4 7.3-8 9.1-6.6 9.7-5 9.2-3.9 7.2-3.3 5.7-2.4 4.4-.6 3.7 1.3 2.6 2 .2 1.7 -1.6 1.2 -2.4 1.2 -1.9 1.8 -1.3 2.7 -1.4 4.6 -2.2 6.8 -3.5 10.1 -5.5 13.3 -8.2 15.1 -12.5 15 -15.8 13.5 -17.6 10.9 -17.2 7.2 -15.3 2.5 -12-4 -7.7-9 -1.6-12.9 5.3-14.4 11-13.5 15.6-10.8 16.6-8.8 15.2-7.7 12.2-6.7 10-4.6 8.7-.7 7.5 3 4.7 6.3 .3 7.8 -3.9 7 -7.9 3.4 -9.1-.3 -7.5-3.8 -3.5-5 .9-3.9 4.9-.6 5.8 2.8 3.9 5.9 .2 8.6 -3.5 10.3 -7.6 11.1 -10.2 9.6 -12.3 5.7 -12.7 .2 -10.8-4.9 -5.4-9.4 .5-11.1 6.7-10.5 11.2-8.6 12.9-6.9 11.9-5.7 9.6-4.8 7.7-2.7 6.6-.2 5.3 1.3 2.5 1.5 .1 1.5 -1.7 2.5 -1.7 4.3 -1.8 5.6 -3.2 5.9 -5.2 4.9 -6.7 3.7 -6.6 2.2 -5.7 1.2 -3.9 .5 -2.4 1.1 -1.1 2.1 -.7 2.7 -1.4 2 -2.7 .4 -3-.9 -2-1.9 -.3-2.1 1.2-2 2.3-1.6 2.5-1.9 2.1-2.4 2-2.8 2.2-2.8 2.9-2.9 3.3-3.2 3.2-2.6 3.4-1.2 3.7 0 2.8 .6 1.2 .5 -.2 0 -.7-.7 -.5-1.6 .1-2.2 .9-1.2 2.1 1 2.4 2.9 1.2 3.3 -1.6 1.8 -3.5-.4 -3.7-2.5 -1.9-2.7 .9-1.3 3.2 1.5 3 3.8 .9 6.8 -2 10.2 -4.7 12.5 -8.6 12.3 -12.2 9.3 -14.7 4 -14-2.2 -10.3-7.9 -3.2-14.1 3.3-17.4 10.6-18.2 16.8-16.3 20.4-13.4 20.9-9.7 18.6-6.2 14.7-1 10.8 5.1 6.7 9.3 -.3 10.5 -6.5 8.4 -11.4 4.4 -12 .6 -9.3-1.1 -4.1-.2 -.3 2.4 1.3 4.8 -.1 5.3 -3.1 4.4 -5.9 3.4 -6.1 3.3 -4.8 3.2 -3.9 2.8 -3.9 2.7 -3.6 3.7 -3.2 4.7 -3.3 5.5 -4.4 6.1 -5.6 7.2 -6.4 8.8 -7.2 9.4 -8.7 9 -10.3 7.3 -10.9 4.9 -10.1 .4 -8.2-4.7 -4.9-11.1 .2-17.1 6.1-21.3 14.3-23.9 20.4-23.5 25.4-20.1 27.7-14.5 27-7.9 22.3 1 16 7.6 7.4 4 8.7 0 7.6-3.7 4.4-6.6 .1-7.7 -4.2-6.7 -7.5-3.9 -8.6-.1 -7.6 3.7 -4.4 6.6 -.2 7.7 4.3 6.7 7.2 13.5 -2 16.6 -9.6 16.5 -16.7 13.1 -19.4 9.1 -18.6 5 -14.7 2 -10 .2 -4.9-.7 -2.1-.6 .1 .5 .9 2.5 .6 4 -1 4.8 -3 3.3 -5-.1 -5.4-3.4 -3.5-4.9 .9-4.3 4.3-3 5.7-2.2 4.8-2.7 3.3-3.9 2.5-4.4 3.3-3 4.7-.6 4.9 1.1 3.2 1.4 .3 1.6 -1.4 2.8 -1.7 5.5 -1.9 8.7 -3.5 11.3 -7.1 13.4 -10.4 14 -13.6 12.8 -15.7 10.3 -16.1 7.8 -14.4 4.8 -11.6 1.6 -8.4-3.6 -5.2-9.8 -1.4-14.9 5.6-18.2 12.1-18.9 18.1-18.9 21.2-19 21.9-18.5 21.9-15.7 22-11.6 21-6.8 17.7-2.9 12.8 0 6.9 3.7 3 6.4 -.8 8.2 -4.6 8 -7.8 6.8 -9.7 6.1 -9.1 6.9 -7.6 8.2 -7.1 9.3 -8.1 10.2 -9.8 10.6 -11 9.8 -11.9 7.1 -12.3 3.1 -11.1 .1 -7.3-1.3 -3.2-1.3 .3-1.1 1.6-1.1 1.5-.8 1.2-.2 1.2 .1 .8-.5 .2-2.5 -.1-5.4 .9-9 3.3-11.3 7-12.2 10.8-11.5 13.2-9.5 14.1-5.1 13.1-.5 10.3 4.7 5.4 8.9 -.1 11.5 -6.6 13.3 -10.7 13.5 -13.8 11.8 -15.4 7.9 -15.6 3.6 -13-.9 -8.7-2.7 -3-2.9 1.4-2.1 3.2-1 3.3 .7 2.2 1.7 .8 1.8 -.9-.3 -2.1-3.7 -1.8-9.1 .6-12.8 5.5-15 11-14.9 15.2-12.8 17.6-8.3 17.1-2.9 14.1 3.7 8.8 9.9 2.7 14.1 -5.8 15.8 -12.1 14.2 -16.9 10.8 -18.2 7 -16.2 4.8 -11.5 2.9 -7.9 1.3 -5-.7 -3.2-3 -1.3-4.6 1.3-5.4 3.7-5.3 5.6-5.3 6.3-5.6 6.1-6.1 6.1-5.6 6.7-4.1 7-1.9 6.3 .5 4.6 2.5 1.6 4 -.9 4.4 -3.3 4 -4.7 3.1 -5.1 1.2 -4.5-2.3 -3.4-5.9 -.8-8.9 3.2-10.1 7.2-9.4 10.9-5.9 11.7-1.5 10.3 4.3 6.3 9.7 1.1 13 -6.3 13.3 -11.7 10.3 -15.5 4.7 -15.1-1.3 -11.4-5.9 -4-10.3 2.2-12.5 7.8-12.8 12.2-10.3 14.7-6.1 14.6-.4 11.5 3.4 5.8 6.3 -.1 8.1 -4.4 9.3 -7.7 9.8 -9.6 9.2 -10.9 7.9 -11.4 7 -10.5 6.9 -8.8 7.2 -8.1 6.8 -8.1 5.3 -8.3 3.3 -7.7 1.4 -5.8 .7 -3.5 1.2 -1.4 1.7 -.7 .3 -1.6-2.6 -1.9-6.1 -.1-7.4 3.8-6.9 7.4-5.3 8.7-4.5 7.6-4.9 6-6.2 5.2-7.5 5.8-8.1 7.4-8.2 8.9-8.1 9.4-7.8 9.5-7.4 9.3-6.7 9-5.7 8.5-3.8 7.6-1.2 6.3 2.3 4 6.2 1 9.3 -3.5 12.6 -7.5 14.7 -11.6 15.4 -14.9 14.5 -17.2 12.5 -17.8 9 -16.6 5.2 -13.7 .6 -10-3.8 -5.6-6.2 .5-6.7 4.7-6.1 7.5-5.3 7.7-5 7-4.9 6-5.1 5.7-4.8 5.7-3.9 5.9-2.6 5.6-2.2 4.1-3.8 2.9-6.1 2.8-8.6 4.7-9.6 7.4-9.3 10.3-7.3 11.2-4.8 10.4-1.5 8.2 1 5.2 2 1 2.1 -1.4 1.8 -2.4 2 -2.3 1.7 -2.2 .9 -2.2-.6 -1.9-2 -.8-2.9 .9-2.5 2.4-.4 3.5 3.5 2.7 6.9 -.3 9.7 -4.5 11.8 -8.4 13 -11.8 13.6 -13.8 12.7 -15.3 10.2 -15.7 7.6 -14.4 5.5 -11.3 2.9 -8.5 .5 -5.8-2.2 -3.1-3.4 -.2-2.8 3-1.2 4-.7 2.9-1.6 1.3-3.7 .8-6.1 2.2-9.6 4.6-12.7 7.8-15.4 11.4-15.9 15.1-13.7 18.3-8.7 18.2-4.3 15-.5 9.4 2.2 4.5 4.1 -.1 6 -2.9 6.8 -5.2 6.9 -7.1 6.5 -7.9 6.5 -7.9 6.8 -7.5 7.2 -7.5 7.1 -8 6.2 -8.4 4.9 -8.1 3.3 -7 1.4 -5.3-1.4 -3.6-4.1 -1.3-5.5 2.2-5.4 5-4.2 6.5-3.1 6.1-2.5 4.7-2.5 3.3-1.4 3 .1 2.7 1.6 1.5 2.6 -.3 3.2 -2.2 3.9 -3.1 4.5 -3.8 4.1 -4.7 3 -5.2 1.5 -4.6-.3 -3.2-1.4 -1.3-1.5 .4 0 1.7 2.3 1.7 4.5 -.3 4.5 -3.3 2.8 -5.3 .1 -5.1-2.5 -2.7-5.7 .2-7.7 3.7-9.4 6.8-10.1 9.2-9.2 11.2-6.2 11.6-2.3 10.2 2.1 6.6 5.7 2.2 7.5 -3.3 7.8 -7 6.8 -8.9 5.3 -8.9 4.2 -7.7 3.1 -5.8 1 -4.8-1.2 -3.2-2.7 -.9-2 1.8 .2 3.2 2.8 2 3.6 -.8 3.4 -3.4 2.2 -4.3 .4 -3.7-2.8 -2.4-5.9 .2-8 3.7-7.8 7.1-5.1 9.6-.4 8.7 2.9 5 5 0 5.6 -3.7 5.1 -6.1 3.8 -6.5 2.3 -5.7 .3 -4.2-1.6 -2.4-3.2 .1-4.1 2.1-4.5 3.9-4 4.9-2.4 5.2-.5 4.4 .7 2.5 .2 .2-1.9 -.8-3.9 0-5.6 2.6-6.5 4.8-6.1 6.8-4.2 7.5-1.9 6.9 .2 4.4 2.6 1.9 5.2 -.7 8.1 -3.4 10.5 -6.3 11.1 -10.1 10.1 -12.2 8.1 -12.8 5.5 -11.5 2.4 -9.2-.8 -5.6-5.1 -2.4-7.9 1.8-9 6.3-8.2 9.4-6.3 10.5-3.3 9.2-.6 6.8 2.6 3.5 4.8 .3 5.4 -3.7 5.4 -5.6 5 -6.4 4.4 -6.1 3.1 -5.8 1.1 -4.9-1.8 -3.4-3.9 -.6-5 2.4-5 4.6-4.2 6.1-2.6 5.7-1.2 4.4 .7 2.9 2.6 1.1 3.3 -1.2 2.6 -3.1 .7 -3.9-1.7 -2.8-3.7 -.5-4.8 2.6-5.9 4.4-6.7 5.8-6.4 7-4.3 7.7-.5 7.2 5.3 4.6 8.8 -.6 10.2 -6.7 9 -10.6 7 -11.7 4.8 -10.2 2.7 -7.6-.4 -5.3-4.6 -2.9-8.4 1.3-12.1 5.9-13.9 10.6-14.6 14.3-14.6 16.2-13.6 17-10.3 16.8-5.7 15.2 .6 11.4 6.2 5.9 9.7 -2.1 12.4 -7.7 14.1 -11.8 15.6 -14.6 15.3 -16.6 13.3 -18.2 9.4 -17.6 6.5 -14.6 4.3 -10.5 2.9 -7.2 1.7 -4.5 .8 -3.2 .9 -1.8 2 -.9 2.9 -1.1 2.5 -2.5-.1 -3.4-3.5 -2.5-7.3 .5-10.4 4.4-11.8 9.4-11.3 12.3-8.7 13.7-5.1 12.8-2 9.7-1 5.1-2 2-3.9 1.2-5.8 2.6-7.1 4.8-7.9 7.1-8 8.3-7.5 9.2-5.6 9.3-2 8.5 2.5 5.8 9.7 1.9 15.5 -4.4 20.5 -12 22.4 -18.6 20.9 -24.6 15.3 -25.9 9.4 -23.2 3.7 -17-.3 -10.1-2.7 -3.2-5.1 .8-7 3.6-9.2 6.1-10.4 8.4-10 11.1-6.7 12.1-2.2 11 3.6 7.3 8.8 1.9 11.8 -5.5 12.1 -10.7 9.2 -14.1 3.1 -13.7-3.8 -10-9.3 -2.1-12.9 5.2-14 11.7-14.4 15.2-14.2 16.3-12.7 16.7-8 16.4-2.6 13.9 3 8.6 6.6 2.3 7.6 -4.7 6.6 -7.8 4.9 -8.7 2.2 -7.5-.6 -5.4-3.2 -2-5.2 1.2-5.8 4.1-4.9 6.2-2.1 6.7 1.7 5.3 7 2 10.8 -3.1 13.7 -8.6 15.1 -12.9 14.1 -16.5 10 -17.4 5.3 -15.7 .2 -11-3.6 -5.5-6.6 .8-10.4 4.7-13.7 8.3-15.9 12.5-15.8 16.2-13.4 18.7-9 18.1-5.2 14.6-1.4 9.9 2.4 5.6 5.3 .7 6.8 -3.2 5.9 -6.6 3.1 -7.9 .2 -6.5-1.7 -2.9-1.6 .1-.2 2.1 1.6 1.7 3 0 4.2 -2.2 6.4 -3.6 7.9 -5.3 8.5 -7.6 8.7 -9.3 9 -10 8.3 -10.1 6.1 -10.3 2.1 -9.4-1.8 -6.7-4.5 -1.5-6.8 2.6-8.3 5.7-9.2 8.1-8.6 9.7-6.5 10.7-3.1 9.8-.7 6.9 .6 3.2 .8 .6 .8 -.9 1.4 -.9 2.1 -1 2.8 -1.7 3.4 -2.6 4.1 -3.4 5.7 -4 7.5 -5 9.1 -6.8 9.5 -8.9 8.2 -10.8 4.8 -10.9 .9 -8.9-3.5 -5.1-7.7 -.6-10.5 5.2-12.3 9.3-12.4 12.6-10.8 14.3-8.1 14.3-5.2 12-2.8 9-2 5.4-1.7 3.1-1.2 2.2-.4 2 .3 1.3 .1 .3-.7 -.4-.6 0 .4 .8 3 .7 4.8 -1 6.4 -3.7 7.4 -5.8 8 -7.6 7.6 -8.7 5.8 -9.3 3 -8.6 .1 -6.5-1.7 -2.7-2.9 .1-2.9 2.4-1.4 3.4 .8 3.2 3 1.2 4.8 -1.2 5.2 -4 4.8 -5.6 3.9 -6.1 2.9 -5.3 .9 -4.5-1.7 -3-5.8 -.7-10.7 2.4-15 7.8-18.2 12.9-18 18.3-15.7 21.1-12.3 20.7-8.7 17.5-2.7 13.8 3 8.9 9 2.5 13.8 -4.3 16.6 -11.7 18.3 -16.4 18 -19.7 16 -21.2 12.9 -20.7 8.8 -17.9 1.9 -14.5-5.2 -8.9-12.4 -1.3-17.4 6.9-19.8 15.8-20.1 20.6-18 23.2-13.5 23.1-7.5 20.4-2.1 14.3 4 8 8.7 1.1 14.1 -5.1 18.4 -10.8 20.4 -17.4 19.4 -21.7 15.8 -23.7 10 -22.1 3.8 -17.7-1.7 -10.2-7.7 -3.6-11.3 3.3-13.5 9.4-14.1 13.4-13.8 16-12.9 16.3-10.9 15.9-7.2 14.7-1.6 12.3 4 7.2 10.4 1.2 13.8 -6.1 14.6 -12.6 12.7 -16.2 9.5 -16.8 5.1 -14.3 1.8 -10.1-1.5 -5.4-5.1 -1.8-8.6 2.6-12.3 6.3-13.9 10.8-13.9 14.5-12.6 16.2-10.4 16-6.9 14.3-3.1 11.4 1.5 7.5 5.6 3 8.1 -2.7 9.5 -6.9 9.6 -9.8 9.6 -11 9.4 -11.1 8.7 -11.1 7 -10.9 5.7 -9.7 4.7 -7.9 4 -6.5 3.3 -5.2 2.9 -4.5 2.4 -3.8 1.7 -3.3 .3 -2.7-1.1 -1.7-3.3 -.2-4.8 1.7-5.6 4.1-5 5.7-3.7 6.5-2.4 5.6-1.6 4-.8 2.6 .1 1.8 1.1 .8 1.5 -.3 .8 -1.4-.5 -1.7-.5 -.7 .8 .6 3.4 .6 4.3 -1.5 2.7 -4.2-.8 -4.9-3.8 -2.5-5.8 1.4-6.3 4.9-6.2 6.8-5.2 7.3-2.6 7.2 2 5.7 5.5 2.2 7.8 -2.8 8.3 -6.8 7.1 -9.5 3.9 -9.5-.1 -7.6-5.4 -4-10.4 .7-14 7.4-16.2 12.6-15.6 16.9-12.6 18.7-7.1 17.9-1.6 13.5 4.6 7.6 8.3 .4 10.9 -5.9 12.4 -9.9 12.9 -13.1 13.1 -14.4 12.6 -15.1 12.1 -15 11.7 -14.7 11.7 -13.8 12.5 -13.5 13 -13.7 12.1 -14.6 10 -15 7.2 -13.7 3.4 -11.2 0 -7.6-3.7 -3.4-7 .4-9.9 5-13.5 8.5-16.3 12.3-18.8 16-19.8 19.2-18.9 22.1-15.5 22.9-11.3 21.4-5.4 17.5 1.3 12.4 7.4 4.8 13.5 -2.3 15.8 -10 14.1 -16.1 8.4 -18.4 1.8 -15.4-3.9 -8.9-5.8 -.6-6.7 4.9-7.4 6.8-7.6 7.9-5.8 8.6-2.9 8.6 .4 6.4 2.5 3 3.6 -1.1 4.6 -3.1 5.4 -4.4 6.4 -5.4 6.7 -6.4 5.8 -7.6 3.2 -7.7 1 -6.2-.1 -3.4 .6 -.9 1.8 .1 3 -.8 3.2 -2.4 2.5 -3.5 .7 -3.7-2 -2.6-6.1 -.5-9.3 3.1-11.5 7.5-11.8 11.1-11.1 13.6-10.5 13.6-10.7 12.7-10.9 12.1-9 12.5-5.2 12.4 .7 10.1 4.7 4.8 7.9 -1.4 10.5 -5.9 12.7 -9.7 14 -12.6 13.6 -15.1 13.1 -16.1 12.9 -15.7 12.6 -15 10.1 -15 6.4 -14.2 1.9 -11.3-1.3 -6.8-2.7 -1.3-3 1.8-3.4 3.2-4.5 3.5-6 4-7.4 5.5-8 7.2-7.9 8.7-7.8 9.3-7.7 9.1-7.1 9-5.5 8.9-3.5 8-1.1 6.1 2.3 3.8 6.4 .6 12.7 -3.1 17.1 -8.7 18.3 -15.4 14.8 -20.2 8.6 -20.9 .7 -16.4-4 -8.3-7.7 -.1-10.7 5.2-13.4 9.6-15.6 12.8-15.7 16-13.7 18.2-10.7 18-8.2 15.2-6.3 12.1-5.3 9-3.8 7.2-1.8 5.9 .9 4.1 4.8 1.7 7.4 -1.8 8.6 -5.9 7.7 -8.9 5.9 -10 4 -8.7 3.1 -6.3 2.2 -4.5 1.2 -3.5 .4 -2.4 .6 -1.1 1.3 -.5 2.3 -.8 3.4 -1.6 4.4 -2.9 5.2 -4.1 4.8 -5.3 3 -6.1 .4 -5.4-2.2 -2.9-4.6 -.1-5.8 3.1-5.7 5.6-4.1 6.8-1.9 6.3 1.3 4.5 3.9 1.5 6.4 -1.7 7.6 -4.9 6.5 -7.9 2.8 -8.8-.5 -6.9-2.6 -2.8-2.4 1-1 3.2 1 2.7 2.6 .7 4 -1.3 4.3 -3.2 3.1 -4.9-.3 -4.9-3.8 -3-7 .8-9.2 4.8-10.8 8.7-12.2 10.9-12.6 12.8-11.5 14.3-8.4 14.6-4.5 12.7 1.3 9.4 6.3 4 10.8 -2.2 13.7 -7.8 14.3 -13.5 13.2 -16 11.7 -16.5 10.4 -15 9 -13.4 7.6 -11.7 5 -10.3 2.9 -8.3 .5 -5.5-2 -3.1-3.9 0-5.7 2.6-6.8 5-7.9 6.7-9.1 7.9-9.7 9.5-9.6 10.7-9.2 11.2-8.7 11-7.4 10.6-5.4 9.9-2 8.5 .2 5.5 1.6 2 2.9 -.5 4.3 -2.2 6.2 -3.4 7.1 -5.5 6.8 -7.3 5.3 -8.2 3.8 -7.6 2.4 -6 1.8 -4 1.3 -2.7-.1 -2.1-2 -1.3-4.4 .3-6 2.9-7.3 5.3-8.6 7.1-9.3 8.8-8.2 10.1-5.8 10.6-2.2 9.3 1.7 6.4 4.9 1.6 7 -2.5 6.5 -6.2 3.5 -8.2-1.2 -7.3-4.8 -3-7.4 1.8-7.5 6.3-6.4 8.6-4.2 8.7-1.7 7 1.8 4.6 4.8 1.2 8.2 -2.4 11.5 -6 14.2 -10.3 16.8 -13.7 18.1 -17 17.3 -19.7 13.7 -21 8.3 -19.5 1.2 -15.2-3.5 -8.2-7.1 -.7-9.4 4.5-10.4 9-9.5 11.1-7.1 12-4 10.8-2.2 7.8-2.4 3.9-4.2 2.5-5.5 3.1-6.3 5.1-7.4 6.5-9 7.5-10.5 8.7-10.3 10.8-8.3 12.2-4.6 11.8-.3 8.9 5.9 4.9 10 -1 12.2 -7.4 12.4 -12 11.5 -14.4 10 -14.2 8.4 -13 5.6 -11.5 2 -9.5-.8 -5.6-2.1 -1.9-1.9 1.3-1.6 2.5-1.4 2.1-.8 1.8 1.5 1.6 3.9 .5 5.9 -2 6.7 -4.8 6.2 -7.2 4.5 -7.7 2.4 -6.9-.3 -4.9-3.3 -2.5-6.2 .9-8.5 4.3-8.9 7.7-7.9 10-6.7 10.2-5.7 8.9-4.4 7.6-3.1 6.4-2.2 4.9-2.4 3.4-3.6 2.5-5.7 2.9-7.2 4.5-8.4 6.8-9 8.6-8.6 9.9-6.4 10.4-3.3 9.6 .7 7.2 4.4 3.3 7.5 -1.7 10.9 -5.6 12.5 -9.4 11.4 -12.9 8 -14.5 4.5 -12.7 1.9 -8.8 1.8 -4.4 2.2 -2.2 1.5 -2.1-.1 -2.6-1.3 -1.5-1 .4-.3 1.6-.7 1-2.6 .3-5.2 1-6.1 3.6-5 6.2-2.2 7.1 1.3 5.3 5.5 2.1 8.2 -2.4 10.3 -6.8 11.5 -9.8 12 -12.3 11.7 -13.4 10.7 -13.8 9 -13.5 6.6 -12.3 4.5 -9.8 2.5 -7.4 1.4 -4.7 1.2 -2.8 1.5 -1.5 1.4 -1.5-.3 -1.7-3 -1.4-5.9 .7-8.5 3.8-10.9 7.5-13.7 10.1-15.2 13.2-15.2 16.1-13.9 17.8-12.7 17.3-11.2 16-8.8 14.4-3.9 12.8 1.8 9.7 6 3.2 8.5 -2.8 9 -7.6 8.9 -9.9 8.2 -10.4 7 -10.2 5 -9.4 3.6 -7.7 2.3 -5.6 .9 -4-.6 -2.3-2 -.9-2.1 1-1.3 2.4-.1 2.4 .8 1.2 2 0 3.4 -1.1 5.1 -2.5 5.6 -4.2 5.1 -6.1 3.2 -6.6 1.8 -5.4 .5 -3.6-.2 -1.8-.7 -.4-1.1 .3-1.4 .8-1.9 1.3-3 1.8-4.2 2.3-6.4 3.6-8.1 5.3-10.7 7.6-13 9.7-13.9 12.9-12.4 15.3-9.5 16-5.9 14-2.1 10.5 2.2 6 9.5 2.1 15.5 -4 19.3 -11.9 18.7 -18.6 15.8 -22.7 12 -21.4 10.3 -17.3 9.2 -13.7 7.3 -11.7 4.4 -10.4-.7 -8.2-4.6 -4.1-7.4 1.4-8.2 5.8-7.6 8.9-6.8 9.5-6.7 8.6-6.9 7.8-7.1 7.8-6.6 8.1-5.8 8.1-5.4 7.5-6.2 6.7-7.8 6.2-9 7.5-8.3 9.2-6.3 10.4-3.1 9.5 .1 6.9 3.4 2.9 8.5 -.5 12.6 -5 15.3 -10.4 15.1 -15 12.8 -18 8.8 -17.3 6.3 -14 4.5 -9.9 3 -6.9 1.2 -4.9-2.2 -3.4-4.8 -.6-6.8 2.8-7.7 5.9-7.3 8.2-5.4 8.9-3.5 8.1-1 6.1 1 3.7 2.3 .7 2.4 -1.4 1.5 -2.7-.2 -2.8-2 -1.5-3.6 .6-4.8 2.6-5.1 4.4-4.6 5.6-3.8 5.9-2.7 5.3-.9 4.2 .6 2.7 2.1 .9 4 -.9 6.5 -2.7 9.6 -5 11.2 -8.2 11.5 -11.4 11 -13 9.9 -13.3 6.7 -12.6 2.2 -11-4 -7.3-9.3 -1.8-12.5 6-14.3 11.2-14.7 15-13.5 16.7-10.4 17-6.1 15.2-.2 11.5 3.9 5.8 6.6 -.4 7.4 -4.9 7 -8.1 5.6 -8.5 3.7 -7.9 .7 -6.3-2.6 -4-4.6 0-4.9 3.3-3.5 5.6-2.2 5.5-2.2 3.9-3.2 2.3-3.8 2.7-2.8 3.9-.6 4.3 .9 3.1 .9 .2-.7 -1.2-1.8 -.7-.8 1 2 2.1 5.3 .5 8 -2.8 8.6 -6.7 6.8 -9.5 3.8 -9.9 .9 -7.3-1.1 -3.9-1.7 -.6-1.7 1.4-.8 2 .8 1.9 4.3 .8 7 -1.7 8.3 -5.3 7.2 -8.4 5.3 -9.6 2.8 -8.1 .7 -5.6-2.8 -3-6.7 -.5-9.3 4.1-9.8 8.2-8.7 11.1-6.5 11.3-3.5 9.8-.1 6.9 4.6 3.7 7.4 -.9 7.7 -5.8 5 -8.8 1.2 -8.6-3.2 -5.3-5.4 -.4-6.3 4-5.7 6.6-4.7 7.2-3.9 6.5-3.6 5.2-2.7 4.5-1.1 4.1 1 2.9 3.4 1 4.5 -1.8 4 -4.1 2.2 -5.2-.1 -4.4-2.1 -2.2-2.7 .5-2.3 2.6-1.5 3.2-1.1 2.4-1.2 1.7-.3 1.3 2.6 1.3 6.4 .2 8.6 -3.9 8.2 -7.8 6.8 -10 6 -9.4 6.5 -7.6 6.8 -6.9 4.6 -7.7 .7 -7.6-3.7 -4.9-6.3 -.3-6.9 5.2-7.1 7.4-7.6 8-8 8.3-7.5 8.8-6.3 9.3-4.6 8.6-3.4 6.9-1.5 5.3 1.6 3.7 5.2 1.1 9.2 -2.2 10.6 -7 9.2 -10.9 5.5 -12.3 1.7 -10.1-1.6 -5.9-2.9 -1-3.5 2.1-4.2 3.4-5.1 4.1-6.3 5-7 6.2-7.4 7.4-7.5 8.1-7 8.7-5.7 8.6-4.2 7.9-2 6.5 .4 4.6 2.9 1.8 5.8 -.8 7.3 -4 7.5 -7 6.9 -8.6 6.4 -8.5 6.1 -7.9 5 -7.4 2.3 -6.9-1.9 -5.7-5.6 -1.8-8.1 2.7-7.9 7.3-6.2 9.4-4 9-1.9 6.7 1.9 4.4 6 1.4 10.4 -2.6 13.1 -7.5 13 -13 11 -15.2 9 -14.8 6.9 -12.4 4.2 -10.1 .7 -7.6-3.6 -4.5-5.8 .2-6.3 4.6-5.7 6.9-5.1 7.2-4.8 6.5-5.1 5.8-5.9 5.6-7.2 6-8.4 7-8.9 8.5-8.1 9.9-6.4 10.3-4.7 9.2-3.4 7-1.5 5.2 1 3.6 4.8 1.5 9.3 -1.5 13 -6.6 15.4 -11.3 14.6 -15.8 11.3 -17.7 7.1 -16.7 3.7 -12.1 .6 -7.8-1.9 -3.6-5.3 -.4-9.5 2.5-12.9 7.1-15 11.5-14.2 15.5-10.9 17.4-6.4 16.2-2.5 11.7 1.2 6.9 3.4 2 4.8 -1.8 4.9 -4.1 4.2 -5.7 2.2 -5.6 .2 -4.5-1.6 -2.3-2.2 0-1.8 2.2-1 2.5 0 1.9 1.3 1 3.3 -.1 5 -1.9 6.4 -4.1 7 -6.1 7 -7.6 6.6 -8 6.2 -8 4.6 -7.7 2.2 -6.9-1.4 -5.1-5 -2.2-6.9 2.6-7.9 6-8.4 8.3-8 9.3-6.2 9.6-3.3 9.1 .4 6.9 1.8 2.9 2.1 -.6 2 -2.3 2.4 -2.4 3 -2.3 3.2 -2.8 3 -3.6 2.7 -3.8 2.6 -3.3 3 -3.1 2.9 -3.1 2 -3.5 1 -3.2 .7 -2.1-.1 -1.2-2 -.6-5.7 .3-9.4 2.6-11.9 7.5-13.4 11.3-13.3 14.2-11.6 15.5-7.5 15.4-1.8 12.8 5.8 7.9 11.5 .5 16.8 -7.4 20.7 -14 22.1 -20.6 21.1 -24.2 17.9 -25.7 12.9 -24 7 -20.2 1.2 -13.7-5 -7.3-8.7 -.1-10.9 6.5-11.9 10.4-12.4 12.9-11.1 13.9-8.3 14.2-4.1 12.6-1.3 9.1-.9 3.9-2.4 1.4-3.7 1.2-4 2.9-3.3 4.4-2.8 4.6-2.9 3.8-2.8 3.2-1.9 3.3 .3 3.2 3.2 1.8 7.2 -.6 10.1 -4.6 11.7 -8.7 11.5 -12 10.4 -13.6 8.9 -13.2 7.5 -11.8 4.9 -10.1 .7 -8.5-4.1 -4.9-9.1 -.2-11 5.9-10.6 10.8-8.3 13-5.6 11.9-2.5 9.3-.6 5.7 1 2.6 2.7 .6 4.1 -1.6 5.5 -3.3 5.7 -5.1 4.5 -6.4 2.3 -6.6 .4 -4.8-.9 -2.4-1.2 0-1.5 1.1-2.7 1.3-4.6 1.9-7 3.4-7.7 5.9-6.8 8.2-4.1 8.9-1.3 7.4 1.4 4.4 2.9 .9 4.5 -1.8 5.7 -3.7 5.8 -5.4 3.7 -6.7 .4 -6.5-3.9 -3.9-7.9 0-10.3 5.6-11.7 9.5-10.8 12.4-8.3 13.4-4.6 12.3-.5 8.9 5 4.8 9.6 -.5 14 -6.4 15.9 -11.7 14.8 -17 10.1 -18.4 5 -16.4-.1 -11-3.6 -5.1-6.1 1.1-8.3 4.5-9.5 7.6-9.2 9.8-8 11-6.5 10.5-4.3 9.1-1.9 7.1 1.1 4.7 3.5 1.8 4.1 -1.9 3.3 -4.2 2.7 -4.6 3 -3.8 3.8 -3.1 3.6 -3.7 1.7 -4.4-.2 -3.8-1.5 -1.7-2.2 .4-2.8 2-2.9 2.6-1.6 3.3 1.4 3.3 4.9 1.6 7.6 -2.4 8.8 -6.2 8.3 -9.1 6.8 -10.2 5.4 -9.4 4.9 -7.6 4.8 -6.2 4 -5.6 1.1 -5.5-2.9 -4.3-6.6 -.5-9.8 3.9-11.4 8.4-11.6" fill="none" stroke="#0072BD" stroke-width="1.6" stroke-linejoin="round" stroke-linecap="round"/>
<rect x="51.1" y="344.4" width="261.0" height="225.5" fill="none" stroke="#262626" stroke-width="2.0"/>
<path d="M116.3 569.9v-3.6M116.3 344.4v3.6M181.6 569.9v-3.6M181.6 344.4v3.6M246.8 569.9v-3.6M246.8 344.4v3.6M51.1 400.8h3.6M312.1 400.8h-3.6M51.1 457.1h3.6M312.1 457.1h-3.6M51.1 513.5h3.6M312.1 513.5h-3.6" stroke="#262626" stroke-width="1.5" fill="none"/>
<g font-family="'Liberation Sans', Arial, Helvetica, sans-serif" font-size="12.56" fill="#262626">
<text transform="translate(51.1 588.3) scale(1.05 1)" text-anchor="middle">-0.2</text>
<text transform="translate(116.3 588.3) scale(1.05 1)" text-anchor="middle">-0.1</text>
<text transform="translate(181.6 588.3) scale(1.05 1)" text-anchor="middle">0</text>
<text transform="translate(246.8 588.3) scale(1.05 1)" text-anchor="middle">0.1</text>
<text transform="translate(312.1 588.3) scale(1.05 1)" text-anchor="middle">0.2</text>
<text transform="translate(45.3 350.1) scale(1.05 1)" text-anchor="end">0.2</text>
<text transform="translate(45.3 406.2) scale(1.05 1)" text-anchor="end">0.1</text>
<text transform="translate(45.3 462.6) scale(1.05 1)" text-anchor="end">0</text>
<text transform="translate(45.3 518.9) scale(1.05 1)" text-anchor="end">-0.1</text>
<text transform="translate(45.3 575.3) scale(1.05 1)" text-anchor="end">-0.2</text>
</g>
<g font-family="'Liberation Sans', Arial, Helvetica, sans-serif" font-size="14.51" fill="#262626">
<text transform="translate(181.1 606.8) scale(1.033 1)" font-size="14.51" text-anchor="middle">x(t)</text>
<text transform="translate(14.0 457.3) scale(1.03 1) rotate(-90)" text-anchor="middle">x(t+4)</text>
</g>
<g font-family="'Liberation Serif', 'Times New Roman', Times, serif" font-weight="bold" font-size="17.0">
<text x="57.8" y="640.8" font-size="18" fill="#0a0a0a">(c)</text>
<text x="88.3" y="640.8" textLength="197.7" lengthAdjust="spacingAndGlyphs"><tspan fill="#ff0000">Phase diagram after</tspan><tspan fill="#0a0a0a"> TQWT</tspan></text>
</g>
</g>
<g id="panel-d">
<clipPath id="clip-d"><rect x="408.3" y="342.2" width="275.2" height="224.5"/></clipPath>
<path clip-path="url(#clip-d)" d="M523.4 451.7l9.1-6 8.5-5.6 7.8-5.1 7.3-4.5 6.8-4.2 6.1-3.4 5.5-1.8 4.9 1.2 4 4.5 2 6.2 -2.4 5.1 -5.8 2.3 -7.5-1.4 -6-4.6 -2.3-6.8 2.6-8.5 6-9.1 8.7-8.5 10.5-5.8 11.2-1.4 10 5.6 6.6 11.7 .2 17.2 -7.7 19.9 -15.1 20.1 -22 17.3 -24.6 13.1 -24.1 6.9 -20.6 .4 -15.3-4.4 -6.8-8 .2-9.3 6.4-9.6 10-8.5 11.5-6.4 11.6-3 10.2 .2 7.1 3.9 3.2 6.9 -.7 8.1 -5.6 6.7 -8.7 4.1 -9.8 1.5 -7.9 .5 -4.6 1 -1.3 1.3 -.7 .4 -1.4-1.2 -1.4-2.5 -.4-3.6 1.8-4.9 3.2-6 4.7-6.8 6.2-6.8 7.4-5.7 8.4-3.2 8.3-1 6.5 .3 3.5 .8 1 .5 -.6-.3 -.9-2.2 -.6-5.2 .7-8.2 3-9.5 7.1-8 10.3-4.5 11.5 0 9.3 3.9 5 6.7 -1 9.3 -5.2 10.9 -8.8 11.7 -11.6 11.2 -13.5 10.1 -14.3 7.9 -13.7 6 -11.7 3.4 -9.5-.1 -7.1-3.6 -3.4-6 .6-4.8 5.2-.9 7.3 2.8 5.5 4.5 .1 4.1 -3.8 3 -5.5 1.6 -4.9 0 -3.5-2.1 -1.6-4.6 .3-6.5 3.1-9 5.8-11.4 8.3-13 11.6-12.4 14.2-10.3 15.9-7 15-3.4 12.2-.4 7.6 2.8 3.8 4.4 -.3 4.4 -3.7 1.7 -5.6-2.5 -5-7.8 -1.6-10.5 4.3-10.2 10.1-6 13.1 .1 11.8 8.7 6.7 15.4 -2.1 20.9 -11.6 23.9 -19.6 24 -26.7 21.3 -29.3 17.2 -28.9 11.5 -25.5 4.9 -20.4-.9 -12.5-7 -5.2-11.5 2.5-15.3 9.3-16.6 14.6-15.2 19.3-9.9 20.3-4.3 17.6 1.6 11.3 6.3 4.5 8.5 -3.3 8.5 -8.1 7.3 -10.5 5.6 -10.4 3.5 -8.7 1.1 -6.3-3.1 -4-6.4 -.4-9.2 4.1-10.4 8.4-10.5 11.6-9.7 12.8-8.6 12.7-7 11.7-5.2 10.4-3.4 8.1-1.2 6.1 .8 3.7 3 1.1 4.9 -1.1 5.5 -4.3 3.9 -6.2 1.8 -6.4 .7 -4.5 1.5 -2 3.5 -.8 5.9 -2 6.8 -4.9 6.6 -7.4 5.3 -8.3 3.5 -7.9 .2 -6.3-3 -3.7-6.5 .3-9.3 4.1-10.9 8.7-10.9 11.6-9.2 13.5-5.5 13.2-.8 10.9 3.7 5.6 7.8 .4 9.7 -5.5 10.7 -9.9 11.2 -12.1 11.2 -13.2 9.7 -13.6 6.2 -13.6 1 -11.4-3.6 -7-6 0-6.7 4.9-6.4 7.6-6.3 8.1-6.3 7.8-6 7.7-4.8 7.7-3 7.2-.5 5.6 1.9 3.3 3.9 0 5.4 -2.6 5.9 -5.1 5.7 -6.7 5.5 -7.2 5.6 -7 5.2 -6.7 3.8 -6.8 .8 -6.2-2.9 -4.4-5.7 -.2-7.5 4-7.7 7.5-8 9.2-8.8 9.5-9.5 9.9-9.4 10.8-7.6 11.8-4.5 11.2-.9 9 2.5 4.7 6.6 .6 9.1 -3.9 10.1 -8.5 9 -11.4 7.4 -12.3 6.1 -10.7 5.2 -8.8 3.8 -7.3 2.6 -6.2 2.1 -4.3 2.2 -3.1 2 -2.6 1.8 -2.6 2.1 -2.5 3.6 -2.1 5.4 -2.8 5.6 -4.7 3 -6.8-1.4 -6.7-5.7 -2.8-8.8 2.4-8.8 7.9-7.7 10.7-7.2 10.7-8.3 9.1-9.9 8.9-10.3 10.5-8.6 12.3-5.4 12.6-2 9.8 1.7 6.1 3.9 1.6 6 -2.4 7 -5.1 7 -7.7 5.8 -8.6 4.1 -8.4 1.7 -6.8-.7 -4.8-2.8 -1.5-4.4 1.2-4.4 3.9-3.7 5.3-3 5.4-2.4 4.3-1.3 3.6 .1 2.7 1.7 1.4 2 -.3 1 -2.3-.6 -2.4-1.4 -.9-1.3 1-1.3 1.7-1.4 1.6-.8 1.6 1 1.7 4.2 .7 7.3 -1.6 9.2 -5.9 9.8 -9.3 9.2 -11.4 8 -11.9 5.9 -11.2 4 -9.3 1.7 -7-.1 -4.3-2.1 -1.8-4.2 .3-5.8 3.1-6.6 5.4-5.9 7.4-4.8 7.9-3.6 7.1-2.5 5.5-.8 4.3 .4 2.7 .4 .9-1.5 -.6-4.5 -.4-7.7 2.3-8.3 6.3-6.7 9.6-3.5 10.1-.9 7.4 .8 3.9 1.2 .6 2 -1 3.8 -1.5 5.6 -2.8 6.3 -4.9 4.6 -7.2 1.5 -7.5-1.3 -5.3-2.3 -1-1.4 1.8 .3 2.7 2.4 1.6 4.6 -.6 6.7 -3.5 8.6 -5.9 9.1 -8.7 8.4 -10.6 6.6 -11.2 4.1 -9.9 0 -7.8-3 -4.1-5.3 .4-5.4 4.1-4.5 6.7-2.7 6.6-1.7 5-1.1 3.2-1.3 1.9-2.1 1.3-3.4 1.7-4.2 2.9-4.4 4.3-4.2 5.1-4.2 5.4-3.9 5.2-3 5.1-.3 4.7 3.9 3.4 7.9 -.5 10.7 -5.4 10.3 -10.5 7.6 -13.1 4.1 -12.4 1.2 -8.4-2.3 -4.6-5.8 -.7-9.9 3.2-12.6 7.7-12.9 12.9-10.7 15.6-8.6 15.4-7.1 12.8-6.5 10.2-6 8.4-4.3 7.9-1.5 7.1 1.4 4.9 3.8 1.5 5.5 -2.5 8.1 -4.9 11.1 -7.1 14.1 -10.3 16.2 -13.9 17.2 -18 17.1 -20 15.8 -21 12 -20.8 6.6 -19 1.6 -13.5-2.2 -7.3-3.5 -.9-4.4 2.9-5.9 4.3-7.4 5.8-8.2 7.4-7.6 9.3-6.1 10-5.6 9-6.6 7.2-8.9 6.9-10 8.6-9.5 11-7.6 12.4-6 11.2-5 9-4.5 7-3.7 6.1-2.6 5.5-2.4 4.2-3.4 3.1-4.6 3-4.9 4.3-3 5.8 .2 5.8 4.3 3.3 7 -1.2 9.8 -5.6 12.6 -8.9 14.4 -12.6 14.7 -15.7 13.2 -17.9 10.8 -17.8 7.7 -15.9 4.2 -12.5-.8 -8.9-4.9 -4.1-8.8 1.5-11.6 6.6-12.7 11.6-12.3 14.4-10.5 15.5-7.2 14.8-3.3 12.5 .3 8 3.4 3.4 5 -1.1 6.4 -4.4 7.6 -6.3 8.2 -8.2 7.6 -9.4 5.5 -10 2.1 -9-1.4 -6.4-3.3 -1.6-2.7 2.1-.1 4 3.1 3 5.4 -.2 5.6 -4.5 4.2 -6.7 2.9 -6.7 2.2 -4.9 2.2 -3.4 2 -2.6 .4 -2.7-2 -2.3-4.9 -.1-7.5 2.8-8.9 6.7-9.8 9.3-9.6 11.2-8.4 12-6.7 11.7-5.5 9.8-4.2 8-3 6.4-.5 5.1 2.5 3.3 4.9 -.1 6.1 -3.4 6.1 -6.3 5.1 -7.6 3.7 -7.3 2.6 -6 1.2 -4.3-.1 -2.8-2.2 -1.4-4.9 .3-6.8 3.4-7.5 6.3-6.6 8.6-4.8 9-2.6 7.9-.4 5.4 3.1 2.9 6.4 -.3 9.5 -4.2 11.1 -8.2 10.4 -12.3 7.9 -13.5 5.3 -12.3 2.8 -9.2 1 -6.2-.6 -2.9-3.3 -1-6.6 1.2-9.8 4.5-11 8.5-9.7 12.6-6.5 13.4-3.6 11.2-.4 7.5 3.4 4 6.9 -.4 10.7 -4.5 12.9 -9.4 14 -13.4 13.3 -16 10.6 -17.2 5.1 -15.9 .3 -11.9-3.2 -5.6-3.8 .2-2.5 4.5-1 4.5-1.1 2.7-2.7 1.1-4.7 1.5-5.8 3.8-5.9 5.9-5.6 7.2-5.7 7.2-6.8 6.7-8.1 7.1-8.6 8.5-7.7 10.1-5.7 10.5-3 9.2-.5 6.4 2.4 3.3 4.7 0 7.6 -3.3 10.4 -6.1 12.2 -10 12.5 -12.9 11.5 -15.1 9.5 -15.3 7.7 -13.7 6.4 -11.2 4.8 -9.2 3 -7.5 .9 -5.6-1.5 -3.5-3.3 -.4-4.3 2.1-4.7 4.2-5 5.4-5.9 5.7-6.6 6.3-5.5 7.3-3 8-.5 6.4-.1 3.4-2.1 .1-5.5 .3-7.3 3.3-7.2 7.1-6.3 9-6.3 8.6-7.9 7.6-8.6 8.1-7.1 9.7-3 10.6 1.5 8 5.3 3 6.4 -2.9 6.2 -6.7 5.7 -7.9 5.4 -7.4 5.1 -6.9 4.2 -6.5 2.8 -6.2 1.2 -5-.1 -3-1.1 -1.3-1.7 .3-2.1 1.5-1.9 2.2-1.1 2.6 .2 2.2 .8 1 1.1 -.2 1 -1.1 1.3 -1.3 2 -1.3 2.6 -1.8 2.8 -2.5 2.7 -3.1 2.1 -3.6 .7 -3.2 0 -2.3 .1 -.7 1.2 .1 1.9 -.4 1.4 -1.6 .2 -2.3 .1 -1.4 1.5 -.3 3.6 -.2 4.9 -2.1 4.3 -4.9 2.6 -5.9 1.4 -5.1 1 -2.8 .1 -1.6-1.3 -1-3.1 0-4.5 1.7-5.4 4.2-5.7 5.8-5.6 6.6-4.5 7-2.8 6.7-1.2 5.2-.7 3.2-1.6 1.2-2.5 1-2.5 2-1.6 3.2 .1 3 1.1 1.6 2 -.2 2.5 -1.6 2.6 -2.6 3.2 -3 3.3 -3.3 2.6 -3.9 .2 -4.1-2.9 -2.8-6.7 .1-9.2 4.4-10.7 8.7-10 11.5-7.7 13.1-3.6 12.1-.6 8.5 2 4 3.7 .3 5.5 -2.9 7.6 -4.8 8.5 -7.2 7.8 -9.5 6.2 -10.4 5.4 -9.2 6.2 -7.4 7.6 -6.6 8.3 -7.8 7.3 -9.5 5.5 -10 3.4 -8.7 2.2 -6.2 .6 -4-1.9 -2.5-5 -.3-8.4 2.7-10.3 6.9-10.6 10.6-9 12.8-6.3 12.8-3.3 10.6-2 6.9-1.4 3.8-.5 2.4 .9 1.6 2.7 .4 3.7 -1.5 3.9 -3.5 3.7 -4.5 2.7 -4.9 .9 -4.3-.4 -3-1.1 -1-.6 .8 .3 1.4 .1 .5-1.6 -.4-4.2 -.1-5.7 2.3-4.6 5.8-1.1 6.9 2.2 5 4.2 .8 4.4 -3 3.9 -5.4 3.3 -5.3 3 -4.6 2.5 -4 1.7 -3.6 .7 -2.9-1 -2-3.1 -.5-5.4 1.5-6.9 4.1-7 7.1-6 8.5-4.7 8.3-2.5 7.2 1 5.5 4.8 2.4 8.1 -1.7 8.2 -6.8 6 -10.1 2.8 -9.8 .5 -6.5-.9 -3.1-1.3 -.2-1.3 1.2-1.4 1.6-1.6 1.6-2.1 1.7-2.5 2-2.8 2.6-2.6 3.2-1.4 3.4 1.2 3.1 3.7 1.2 5.7 -1.9 6.5 -4.8 6.6 -7.3 6.5 -8 6.6 -8 6.1 -7.9 4.5 -8.1 2.6 -7.2 1 -5.3 1.6 -2.6 3.6 -1.3 5.2 -2.1 5.5 -4.9 4.1 -6.5 1.9 -6.5-1.1 -4.7-4.9 -2.1-8.8 2.2-12.9 6.6-14.5 11.7-14.3 16-12.5 17.9-11.1 17.1-9.9 15.1-8 13.3-4.3 11.8 .5 9.5 3.9 4.1 6.1 -1.1 6.4 -5.4 6.5 -7.5 6.1 -7.9 5.4 -7.8 4.1 -7.4 2.8 -6.4 1.6 -4.8 1.2 -3.2 1.6 -1.8 2.6 -1.5 3.3 -2.1 3.7 -3.3 3.6 -4.1 2.8 -4.6 .7 -4.3-1.2 -3.1-3.2 -.6-4.1 1.8-3.7 4.3-1.7 5 .5 4.2 2.4 1.8 2.7 -1 2.3 -3.2 1.7 -3.3 1.6 -2.6 1.1 -2-.4 -2-2 -1.1-2.9 .7-2.4 2.8-1.5 3.5-1 2.8-.9 1.6-.8 1.2-.5 1.1-.7 .9-2.3 .6-4.3 1.2-6.4 3-6.9 5.8-6.5 7.9-5.2 8.5-2.9 7.7 1.7 6.1 5.8 2.6 8.7 -2.6 9 -7.6 7.6 -11 5.2 -10.9 3.5 -8.7 1.4 -6.2-.6 -4-2.1 -1.3-2.8 1.1-3.1 2.7-3.7 3.5-3.8 3.8-2.6 4.7 .5 4.6 2.6 2.5 3.5 -.9 3.2 -3.4 2.8 -4.4 2.8 -3.8 3 -3.4 3.1 -3.5 2.6 -3.7 1.9 -3.6 .8 -3.2 .3 -2.1 .5 -.8 1.2 -.3 1.8 -.8 1.6 -1.6 1.2 -2.1 .1 -2-1.8 -1.3-4.4 .2-8.5 2.4-10.9 6.4-11 10.8-8 13.5-3.8 13 2 9.3 5.8 3.3 8.3 -3 8.5 -7.5 6.8 -10.5 4.2 -10.2 2.8 -7.8 1.6 -4.9-.1 -3.3-2.6 -1.6-5.5 .5-6.7 3.8-6.4 7-5 8.3-4.1 7.5-4.3 6-5.5 4.9-7.1 5.4-7.9 6.9-7.5 8.9-5.5 9.7-2.5 8.9 1.7 6.3 6.5 2.7 10.1 -3.3 13.3 -8.4 15.1 -13.2 16.3 -16.6 16.3 -18.6 14.7 -20.1 11.6 -19.8 9.5 -17.2 8 -13.8 5.8 -11.4 2.3 -9.4-3.2 -6.8-7.6 -1.6-11.7 4.6-15.5 9.8-18.3 15.3-20.3 19.3-20.4 23-19.5 24.8-18.7 24.8-17.7 23.7-15.3 22.7-11.9 21.2-7.4 18.3-2.8 14 .9 7.9 5.7 2.9 9.5 -2.2 13.2 -7.4 15.3 -12.2 16.5 -16.7 17.3 -19 17.8 -20.4 17.7 -21.2 17.7 -21.7 17.8 -21.6 17.5 -21.6 15.3 -21.8 10.6 -21.2 5 -18.3 .4 -11.6-3.9 -5.3-7 .5-10.7 5.1-14.2 9-16.5 13.9-18 17.8-18.5 20.6-18.9 22.1-18.8 22.6-17.9 23.1-15.3 22.9-12.2 21.5-8.5 18.3-4.7 14.4-1.3 9.4 2.9 5.3 6.1 .7 8.8 -4 11.3 -7.8 13.7 -11.5 16.3 -14.1 17.2 -17.3 16.3 -20.1 14.9 -21 13.6 -19.6 11.4 -18 8.2 -16.3 3.5 -13.5-1.2 -9.5-4 -3-5.8 1.9-6.2 5.4-6.6 7.1-7 7.6-7.2 8.2-6.5 8.6-5.3 8.7-3.5 7.9-.9 6.3 1.4 3.6 3.6 .9 3.9 -2.3 3 -4.6 1.6 -4.7 .8 -3.3 .9 -1.8 1 -1 .9 -1.1 .9 -1.3 1.2 -1 2.4 -1 3.1 -1.8 3 -3 1.6 -3.9-.8 -3.5-3.9 -1.6-6.2 1.6-7.3 5.2-6.5 7.8-4.6 8.9-2.2 7.7-.7 5.1 .8 2.5 2.9 .7 4.9 -1.5 6.1 -3.8 5.7 -6.4 4.4 -7.4 2.8 -6.9 1.9 -4.9 .4 -3.4-.9 -1.9-2.1 -.4-1.7 1.4-.2 2.6 1.8 1.9 2 -.3 .8 -2.3-.7 -2.3-1.3 -.6-1.7 1-2.2 1.7-3.6 2-5.5 2.8-7.3 4.9-9.2 7-9.6 9.4-8.3 11.2-5.2 11.8-2 9.6 1.1 5.9 2.6 1.7 3.4 -1.6 3.1 -3.4 2.1 -4.2 .2 -3.7-1 -2.1-1.8 -.1-1.8 1.4-1.4 2.2 .2 2.3 2.5 1.4 5 -.6 7.4 -3.3 9.1 -6.8 10.5 -9.3 11 -11.4 10.1 -13 7.1 -13.5 4 -11.7 1.1 -8.4 .4 -4 .6 -1.2 .4 -.5-.3 -.8-.4 -.3-.5 .4-1.2 .5-3 .6-4.8 1.8-5.8 4-5.7 6.2-5.6 7-5.9 6.9-6.3 6.9-6.9 7.3-7.5 7.8-8.1 8.5-7.9 9.3-7.3 9.9-5.6 9.6-3.3 8.6 .3 6.5 4.6 3.7 8.2 -1.3 12.2 -6.1 15.1 -11 17.4 -15.3 18 -18.8 16.6 -21.7 12.8 -21.9 7.9 -19.6 1.6 -14.9-5.1 -9.1-10.1 -.2-13.6 7-14.3 13.3-13.7 16.7-11.9 17.5-8.7 16.6-3.2 14.1 1.4 9.5 5.3 3.3 7 -2.3 6.5 -7.2 4.5 -8.6 3.1 -7.5 3 -5.3 3.5 -3.7 3.8 -3.7 3.1 -4.4 2.1 -4.5 1.2 -3.7 1.3 -2.4 2.3 -1.3 2.8 -1.8 1.9 -2.9-.8 -3.5-3.9 -2.1-6.4 1.7-8.7 5.3-9.9 8.4-10.1 10.7-9.4 12.2-8.2 12.3-7.4 11.3-7.4 9.8-7.9 9-7.9 9.1-6.9 9.7-3.9 9.6-.1 7.9 4.2 4.3 8.2 -.4 11.3 -6.2 14.1 -10.5 14.7 -14.5 12.1 -17.4 6.7 -17.8 1.2 -13.9-3.4 -7.4-4.6 -.1-4.5 4.4-4.2 5.7-3.8 5.4-2 5.1 .7 4.3 4.3 2.1 6.8 -1.3 6.7 -6 3.4 -8.4-1 -7.7-5.6 -3.6-8.7 1.8-9.9 7.8-8.9 11-6.5 11.9-2.9 10.6 .8 7.6 3.2 2.6 4.4 -1.3 4.1 -4.3 2.8 -5.4 1.1 -4.9-.3 -3.1-.8 -1.1-.5 .5-.1 1-.4 .5-1.1 .1-.3 .7 1.9 1.3 4.9 .1 7.3 -2.7 8.3 -6.6 7.9 -9.1 6.6 -10.2 4.2 -9.6 1.7 -7.8-.2 -4.5-2 -1.8-3.3 .7-4.2 2.7-4.3 4.1-3.8 5.2-2.6 5.3-.8 4.4 2.1 3 5.1 .6 6.8 -3.3 7 -6.5 6.4 -8.5 4.8 -8.5 2.2 -7.6-.9 -5.4-4.8 -2.4-6.9 2.1-7.7 6.2-7.3 8.6-6.3 9.4-4.1 8.8-1.2 7.3 2.4 4.7 5.4 1.1 6.9 -3.8 7.2 -6.9 7.2 -8.6 8 -8.8 8.8 -8.8 8.9 -10 6.6 -10.9 3 -10.5-1 -7.6-4.5 -3.2-6.9 2.2-10 5.8-12.7 9.1-15.1 12.6-14.9 16-12.3 18.7-7.6 17.9-3.8 14.1-.4 8.7 2.4 4.2 4.1 -.3 4.9 -3.2 4.5 -5.3 4 -5.9 4.1 -5.5 4.7 -4.8 5.5 -5 5.3 -6 4.6 -6.7 3.6 -6.4 2 -5.5-.7 -4.2-2.5 -1.9-2.9 1.2-1.1 3.3 1.5 3.3 4 1 5 -2.5 4.8 -5.1 4.1 -6.1 3.1 -5.8 1.7 -4.8-.3 -3.6-3.1 -1.7-6.4 .6-9 4.6-10 8.2-8.5 11.4-4.8 12.1 .1 10.1 4.5 4.7 9.3 -.7 11.8 -6.7 12.2 -11.7 10.1 -14.6 6.3 -14.8 .8 -11.8-3.9 -6.6-8.7 -.3-11.8 5.4-11.9 11.6-9.1 14.6-5.4 14.2-1.7 10.6 .3 6.1 .3 1.3-1.3 -.5-2.2 -.1-1.6 1.8 .1 2.7 .8 1.6-.2 -.2-1.9 -.9-3.4 .4-3.7 2.6-3.2 4.4-2.3 4.5-1.4 3.7 .2 2.7 2.2 1.5 4 -.7 5.1 -2.9 5.1 -5.2 4.8 -6.3 4.8 -6.3 4.9 -5.8 4.1 -5.8 2.6 -5.9 .1 -4.9-2.4 -2.8-4.3 .5-6.3 3.1-7 5.8-7.1 7.8-5.7 8.7-3.1 8.5 1.3 6.7 4.7 2.8 7.1 -2.1 7.9 -6.2 7.8 -9 7.8 -9.6 7.6 -9.6 7 -9.4 5.7 -9.3 4.4 -8.3 3.4 -6.8 2.8 -5.1 1.6 -4-.8 -3.4-3.5 -1.5-7.1 1.3-9.4 5.1-10.7 9-10.2 11.7-8.4 13.2-6.2 12.3-5.1 9.8-4.7 7.3-5 6.1-5.3 5.8-5.1 6.1-4.2 6.5-2.8 6.2-1.5 5-.8 3-.5 1.7 .3 .9 1.9 .5 4.6 -.4 7.4 -2.9 9.5 -6 10 -9.6 9.7 -11.8 9.7 -12.1 9.3 -11.9 7.2 -11.8 4.1 -11-.5 -8.5-4.5 -4.4-7.6 1.6-9.9 6-11.1 9.8-11.5 12.3-10.6 13.7-8.9 14-5.5 12.9-2.6 10.1 .3 6.4 2.4 2.7 3.4 -1.1 4 -3.1 4.1 -4.3 3.9 -4.8 3.3 -5.1 2.7 -4.6 3.3 -3.9 4.8 -3.3 6.6 -4.3 7.3 -6.1 6.9 -8.4 6.1 -8.8 5.4 -8.3 4.8 -7.3 3.8 -6.6 2.7 -5.6 .5 -4.6-1.8 -2.8-4.5 -.4-6.4 2.6-7.2 6-6.6 8.1-5.9 8.7-5.7 8-5.8 7.1-5.1 6.9-1.7 7.1 2.3 5.7 6.4 1.6 8.8 -3.4 9.3 -8.7 8.7 -10.8 7.6 -11.3 6.2 -10.5 5 -9.2 4.1 -7.2 2.6 -6 .8 -4.7-1.8 -3-4.1 -.7-5.1 2.9-4.7 5.2-3.5 6.2-1.9 5.6-.2 4.1 1 1.9 1.8 .1 1.5 -1.5-.2 -2.2-2.5 -1.7-4.8 .7-6.9 3.5-8 6.3-8.6 8.6-8.7 9.9-8 10.6-7.2 10.5-6.3 9.7-4.5 8.6-1.2 7.5 2.3 4.9 5.5 1.1 5.9 -3.7 4.8 -6.9 4.2 -7.1 4.9 -5.6 6.4 -5.2 7.1 -6.2 6.6 -8 4.8 -8.7 2.3 -7.8-1.3 -5.6-4.1 -2-6.2 2-7 5.4-7.2 7.8-6.8 8.7-6.3 8.7-4.9 8.3-2.8 7.5-.9 5.6 .9 3.2 2.2 .6 3.7 -1.3 5.2 -2.9 6.5 -4.8 6.9 -6.6 6.5 -8.1 5.5 -8.4 4.7 -7.9 4.2 -6.5 3.8 -5.6 2.8 -5.1 1 -4.5-.4 -3.2-.9 -.8-.7 .6-1.3 1-2.2 1-2.2 1.7-1.3 2.8 .1 2.7 .6 1.2 .7 -.3 .5 -.8 .2 -.7-1.1 -.6-3.2 -.1-6.1 1.7-9.2 4.2-10.9 8.2-11 11.5-9.3 13.5-6.6 13.3-3.5 11-.6 7.3 3.3 4 6.3 -.1 8.3 -4.5 8.8 -8 8 -10.5 6.3 -10.6 4.6 -9.5 2.9 -7.5 2.1 -5.4 2.6 -3.1 3.9 -2.6 4 -3.5 2.5 -4.9 .1 -4.8-2.1 -2.5-4.8 .2-7.5 3.1-11.2 6.2-13.9 9.6-14.7 14.5-12.1 17.3-7.7 17.5-1.9 14.3 3 8.7 6.1 1.1 8.7 -4.2 10.5 -8.2 12.1 -10.8 12.3 -13.1 10.9 -15 7.6 -15 5.2 -12.6 3.6 -8.9 2.8 -6.1 2.1 -4.2 .5 -3.3-1.5 -2.2-4.3 -.4-6.7 2.2-7.6 5.9-6.4 8.4-4.4 9.1-2.4 7.6-1.3 5.1-.7 2.5-.3 1.5 .4 .9 1.4 .2 1.9 -.7 1.7 -1.9 1.3 -2.3 1.7 -1.9 3.3 -1.6 5.5 -2.2 6.7 -4.6 6.8 -6.9 6.3 -8.3 5.6 -8.2 4.2 -7.6 1.6 -6.7-2.6 -4.8-6 -1.1-9 3.6-11 7.8-11.2 11.7-9.6 13.5-7.5 13.4-5.8 11.5-4.4 8.9-2.9 6.7-.1 5.2 2.5 3 5.2 -.2 7.5 -3.5 9.2 -6.9 9.8 -9.4 9 -11.5 6.8 -12 4.7 -10.7 2.7 -7.9-.5 -5.4-3.9 -2.7-7.3 1.1-8.7 5.3-8.2 9.5-6.5 10.7-5.4 9.6-4.6 7.8-3.4 6.4-1.4 5.5 1.4 3.9 2.6 1 3 -1.8 3.1 -3.3 3.5 -3.7 3.6 -3.9 2.7 -4.4 .3 -4.3-3 -3.1-5.9 .4-7.7 4.2-7.4 7.7-5 9.4-1.3 8.9 2.2 5.4 4.8 1 5.6 -3.4 6 -6 6 -7 5.4 -7.2 3.3 -7.4 .6 -6.3-1.5 -3.6-1.9 -.4-.7 2.2 1.5 2.2 3.1 .4 4.6 -2 5.3 -4 5.3 -5.9 4.2 -6.6 2.5 -6.3 .4 -4.9-2.1 -2.9-4.4 .2-7.4 2.8-10.1 6-11.9 9.5-11.8 12.6-9.6 14.8-5.7 14.2-2.2 11 1.3 6.4 4.4 2.2 7 -2.3 9.5 -5.8 10.3 -9.2 10 -11.8 9.2 -12.6 8.2 -12 7 -11.1 5.8 -9.8 4.6 -8.3 3.2 -7 1.2 -5.3-1.5 -3.7-2.9 -.9-3.1 2.1-2.4 3.8-2 3.6-2.4 2.9-3.9 2.4-6.1 3.1-8.4 4.9-9.9 8.1-10.5 10.5-10.1 12.4-9.1 12.7-7.3 12.3-5.2 10.7-1.8 8.8 1.4 5.6 4.5 1.7 7.1 -2 9.3 -6.2 11.3 -9.1 11.7 -11.8 10.8 -13.9 9.5 -14.3 9 -12.9 9.8 -11.4 10.8 -11.1 11.3 -12.1 10.4 -13.4 8.5 -13.7 4.3 -12.6 0 -9.5-4.8 -4.7-8.6 .6-11.8 6.9-15.1 11-16.9 15.2-17.5 18.7-16.7 20.8-14.9 21.3-11.2 20.2-7.5 17.5-3.7 13.3-1.1 8.6 .1 3.7 1.6 1.2 3.1 -.5 4.6 -2.1 5.2 -4.1 4.8 -5.9 3.8 -6.3 3.4 -5.6 5 -4.5 8.7 -4.2 12.6 -6.8 15.4 -11.2 15.4 -16.2 14 -18.9 11.9 -18.7 9.2 -16.7 3.6 -14.3-2.6 -10.1-10.1 -3.7-16.5 4.1-20.4 14.2-21.7 20.8-19.9 25.5-14.5 26.4-6.8 23.8 1 16.1 10.4 7.3 17.4 -3.4 23.1 -13.7 25.5 -22.1 24.3 -29.3 19.2 -31.2 13.4 -28.7 5.5 -22.7-3.1 -15.5-11.3 -4.8-19.7 5.1-24.2 15.7-25.9 24.8-24.1 30-19.7 31.6-11.7 29-3.9 22.5 5.2 13.3 12.5 3.5 17 -8.3 19.9 -16 21 -21.6 20.9 -24.4 18.1 -25.9 12.8 -25.1 3.9 -21.5-4.4 -13.9-13.6 -3.7-21.3 6.6-25.9 18.7-27.3 26.8-25.4 32.3-20.5 33.2-13.1 30.7-4.8 23.4 6.2 14.9 14.8 3.5 22.8 -8.7 27.6 -19.3 28.2 -29.4 24.4 -34 18.7 -34 10.9 -29.1 2.8 -21.9-4.6 -11.4-12.8 -2.4-18.6 7.5-23.3 16.5-25.1 23.5-23.2 29.3-16.4 30.5-8.3 27.2 1.3 19 9.8 9 15.5 -3.9 19.7 -12.8 20.9 -20.2 20.3 -24.2 17.9 -25.6 14.2 -24.5 7.3 -21.5 .1 -15.9-7.9 -7.9-14.7 .8-18.8 11.5-21.5 18.6-21.3 23.8-18.2 26.3-11.9 25.9-4.5 21 4.4 13.6 10.1 3.5 14.4 -6.2 17 -13 17.3 -18.5 14.6 -20.9 9.7 -20.8 2.9 -17.2-3.7 -11.2-8.4 -1.8-12.1 5.2-13.7 11.3-14.2 15-13 17-10.2 17.2-5 15.5 .1 11.5 5.3 5.5 8.4 -.9 8.5 -7.5 5.7 -10.5 2.3 -9.9-.6 -6.5-2.9 -2.4-4.5 1.4-6.6 3.8-8.1 6-9.4 8.2-9.3 10.1-7.7 11.6-3.8 11.3-.1 8.6 3.2 4.1 5.5 -.3 6.4 -4.6 6.9 -6.8 6.5 -8.1 6 -8.3 5.9 -7.9 6.1 -7.2 6 -7.3 4.7 -7.5 3.2 -7.1 3 -5.6 4.1 -3.7 5.2 -3.7 4.5 -5.4 3 -6.3 3.1 -5.3 5.5 -3.4 9 -4 9.1 -7.6 5.8 -11.1 .6 -11-3.9 -6-8.4 0-12 5.8-15.7 10.8-18.3 15-18.8 20.1-16.8 22.5-13.4 22.7-8.3 20.1-2.5 15.8 3 8.9 8.2 2.2 10.3 -5 10.9 -10.3 10 -12.8 8.3 -13.2 5.5 -12.1 3.1 -9.6 1.6 -6.3 1.6 -3.4 2.4 -1.9 2.5 -2.1 1.7 -2.9 .2 -3-.8 -1.9-.9 .1-.4 1-.3 1-.5 .5-1.3 .2-2.6 .8-3.7 1.8-4 3.4-3.7 4.7-4.3 4.8-6.3 4.5-8.3 5.5-7.2 8.2-2.7 10.1 3.3 8.6 7.7 1.9 9.4 -4.9 8.5 -10 6.4 -11.4 4.4 -10.2 2.8 -7.3 1.2 -5.1 .2 -3.1-.6 -1.3-1.2 -.1-1.1 1-.4 1.4 .6 1.3 1.1 .3 .9 -.8 .1 -1.5-1 -1-2.1 .1-3 1.4-3.2 2.7-2.8 3.8-2.2 3.9-1.9 3.3-2 2.6-2.5 2.4-3.6 2.5-5.2 3.1-6.1 4.8-6.6 6.4-6.3 7.7-5.5 8-3.1 7.7-.2 6.2 4.3 3.5 9.4 -.3 13.5 -6.4 15.6 -12.2 14.2 -17.2 10.7 -19 7.9 -16.9 6.5 -12.3 5.5 -9.3 3.6 -7.8 .1 -6.5-3.4 -4-5.7 .8-6.9 4.4-6.9 7.4-6.8 8.4-6.5 8.5-6 8.2-5.1 7.9-4.4 7.2-3.4 6.1-1.7 5.2 .3 3.9 2.7 1.9 3.6 -1 3.7 -3.4 3.3 -4.5 2.9 -4.5 1.5 -4-.9 -3.4-4.2 -1.5-7.4 1.5-9.3 6-9.6 9.4-8.6 11.5-6.6 11.7-4.6 10.2-3.2 7.6-1.9 5.4-1 3.6 .1 2.3 .8 1 1.3 -.3 1 -1.2 .7 -1.5 .6 -1.2 1.5 -.8 3.5 -.8 6.2 -2.1 8.2 -4.8 10.1 -7.9 12.2 -10.2 14.5 -12.8 15.7 -15.3 14.3 -18.1 10.2 -19.1 5.4 -17.1 1.3 -11.4-3.3 -5.9-7.1 -.6-11.2 4.5-13.7 9.2-13.8 14.6-12.3 16.8-10.9 16.6-9.6 14.9-7.4 13.1-4.1 11.3 1.4 8.8 5.3 3.8 6.7 -2.4 5.4 -6.8 3.3 -8.3 1.6 -6.2 1.1 -3.5 .4 -2-1.1 -1.3-2.1 -.1-1.7 1.5 .2 2.6 3.6 2 7.5 -.7 10.2 -5.4 11.4 -9.5 10 -13 6.8 -13.7 2.1 -12-2.8 -7.3-8.5 -1.9-11.8 4.7-12.5 10.9-10.6 14.8-7.9 15.1-5.3 12.5-3.8 9-2 6.3-.4 4.4 .6 2 1.2 .3 1.6 -.9 2.4 -1.5 3.2 -2 3.7 -3.1 3.8 -4 4.2 -4.6 4.9 -4.7 5.6 -5.1 5.4 -6.2 3.2 -6.9 .7 -6.2-1.4 -3.7-1.5 -.4-.2 2 1.3 1.7 1.3 -.2 .2 -1.7-.9 -1.5-1.4 .1-1.8 1.2-2.5 1.7-3.3 2.4-3.3 3.1-2.9 4.1-1.9 4.1-1.8 3.3-2.3 2.3-2.6 2.3-2.4 2.8-.9 3.3 .4 2.5 1 1 .8 -.6 .2 -1.3-.7 -.9-1.2 -.1-1.1 1 .2 1.5 1.6 1.2 2 -.4 1 -2.2-1.1 -2.5-2 -.9-1.5 1.7 .8 2.6 3.4 1.4 6.9 -1.4 10.6 -4.6 13.5 -9.2 14 -13.5 10.6 -16.8 3.9 -16.8-4 -12.4-10.1 -2.8-15.4 5.8-17.8 13.7-18.5 19.1-17 22-13.6 22.6-8 20.3-3.3 15.5 1.7 9.2 5.5 3.3 6.9 -3.2 6.4 -7 5 -8.5 3.6 -7.7 2.5 -5.8 2.1 -4 2.3 -3.1 2.8 -2.5 3.6 -2.8 4.1 -3.6 4.2 -4.5 4.1 -5.1 3.9 -5.2 3.6 -4.9 3.3 -4.7 3.2 -4.3 3.3 -4.1 4 -3.9 4.9 -4.1 5.8 -5 6.5 -6.2 8.2 -7.2 10 -8.2 11.3 -10.2 10 -12.5 6.1 -13.8-.8 -11.9-6.9 -6.1-12.8 1.9-18.1 9.2-22.3 17-25 22.8-23.9 28-19.2 30.5-12.2 29-5.6 21.9 1.4 13.9 6.5 7.6 4.3 9 .3 8-3.7 4.9-6.8 .4-8 -4.2-7.1 -7.6-4.3 -8.9-.3 -8 3.8 -4.9 6.7 -.4 8 4.1 7.1 5.2 12.1 -2.4 16.7 -8.6 18.4 -16 15.3 -20.9 9.4 -22.2 2.6 -18-1.3 -10.5-2 -1.9-.5 1.9 1.4 2.2 3.3 .4 4.2 -2 3.7 -4.4 1.8 -5.1 .1 -4.2-1 -2-1.6 .1-2 1.5-2.7 1.9-3.5 2.6-3.9 3.4-3.6 4.4-2.6 4.8-1.6 4.2-1.8 2.9-2.3 2-2.5 2.2-1.6 3 .9 3 3.7 1.5 7.5 -1.5 10.9 -4.9 12.9 -10.1 13.4 -13.7 12.9 -16 11.9 -16.3 11 -15.6 9.1 -14.4 5.2 -13.2 .8 -10.4-4.7 -5.8-10.4 -.3-14.9 7.1-18.8 13.4-20.1 19.2-19.8 23.3-18.3 24.6-16.4 23.9-13.8 22.1-11 19.5-7 16.5-2.6 13 .7 7.5 2.9 2.6 3.6 -1.4 4.4 -3.6 5.7 -4.6 7.5 -5.5 9.4 -7.3 10 -9.6 9.9 -11.6 9.9 -12.2 10.2 -12.1 9.8 -12.1 8 -12.5 4.8 -11.8 1.8 -9.4-.2 -5.1-1.3 -1.8-1.3 .6-.5 1.5 .7 1.6 1.5 .3 1.4 -1 .4 -1.9-1.4 -1.6-3.7 -.2-6.2 2.2-9.3 4.8-11.3 8.3-12.2 11.6-11.1 14.1-8.6 14.8-4.4 13.4-1 9.6 3 4.9 7.5 .7 11.8 -4.6 14.9 -9.8 14.6 -15.3 11.3 -18.4 7.1 -17.5 3.3 -12.9-.4 -8.1-2.7 -3.2-3.8 .9-3.1 3.5-1.2 4.7 1.5 3.7 2.7 .8 1.8 -2.2-1.2 -3.3-4.8 -1.7-9.2 1.9-12 6.9-13.4 11.7-13.3 14.9-12 16.6-8.1 16.1-3.2 13.9 3.3 9.4 9.4 3.2 13.5 -5.6 14.9 -12.3 14 -17 11.5 -18.2 8.2 -16.8 5.2 -13.3 1.9 -9.6 .2 -5.6-1 -2-2 -.1-3.3 1.4-5.1 2.6-6.6 4.5-7.5 6.4-7.8 8.2-7.2 9.4-5.6 9.4-3.5 8.6-.3 6.6 2.5 3.8 4.2 -.4 4.6 -3.3 4.4 -5.3 3.9 -5.6 3 -5.4 1.2 -4.6-2.3 -3.4-6.1 -.9-9.6 3.4-11.1 7.9-10.2 12.4-6.7 13.6-2.2 11.9 4.2 7.6 10.4 1.9 14.3 -6.7 14.2 -13.4 10.4 -17.8 4.2 -17-2.3 -12.1-6.7 -3.4-9.8 3.5-10.6 9.1-10.5 12.1-9.6 13-7.5 12.7-3 11.5 1.7 8.4 5.7 2.9 7.7 -2.6 8.9 -7.7 10.2 -9.6 10.7 -11.1 10.1 -12.6 8.4 -13.2 7.1 -11.9 6.5 -10.1 5.8 -8.5 4.7 -7.8 3.5 -7 2.9 -5.4 2.9 -4.2 2.5 -3.5 1 -3.6-1.3 -2.9-3.6 -.7-5.8 1.9-6.9 5-7.4 7.2-7.5 8.5-7.2 9.1-6.5 9.1-5.8 8.7-5.4 7.8-5.8 7.1-6.5 6.6-7.8 7.1-8.6 8.3-9.2 9.6-9.1 10.7-8 11.2-5 11-.9 9.3 4.5 5.6 9.2 .4 12 -6.7 13.8 -11.7 14 -15.2 13.5 -16.9 12.2 -17.2 10.6 -16.2 8.2 -14.7 5.9 -12.4 2.9 -9.7-.9 -6.9-4.2 -2.7-7.3 1.5-7.8 6-6.9 9-5.7 9.6-4.9 8.1-4.2 6.8-3.4 5.8-3 5-4.1 4.1-5.6 3.8-6.7 5.1-6 7.3-4.9 8.1-5.2 7.1-6.7 5.9-8 6.6-7.1 8.5-4.4 9.8-1 8.5 1.4 4.4 3 .9 3.8 -2.2 4 -3.8 3.2 -4.6 1.4 -4.9-1.9 -3.7-4.2 -1-5.2 2.6-3.8 5.4-.5 6.3 4.2 4.3 7.5 -.4 10 -5.7 12 -9.5 13.8 -12.7 15 -14.9 14.5 -17.2 11.9 -18.4 7.8 -17.6 3.8 -13.6 0 -9-1.4 -3.6-1.5 .2-1 1.8-1 1.7-1.5 1.2-2.6 1.3-3.6 2.1-5 3.2-6.4 4.7-8.9 6.3-11.2 8.3-13.3 11.2-13.7 14.1-12.3 16.5-8.9 16.6-5.7 14.3-2.4 10.5 .5 6.6 2.6 2.1 4.9 -.9 6.5 -3.7 7.8 -6.2 8.3 -8.2 8.2 -9.8 7.9 -10.1 7.7 -9.9 6.9 -9.7 5.3 -9.3 3.3 -8.1 .8 -6.3-.3 -3.4-.3 -.8-.7 .4-2 .5-4.7 .8-6.2 3-5.9 6-3.9 7.8-1.8 6.9-.1 4.5 .3 1.6 .9 .1 2.1 -.5 3.7 -1.2 4.9 -2.8 5 -4.8 3.9 -6.1 2 -6 0 -4.4-1.8 -2.2-1.8 .5-.1 2.3 2.3 2.1 3.7 -.5 3.8 -3.1 3.4 -4.6 2.8 -4.6 1.3 -4.1-1.7 -3.2-6.4 -1.2-9.4 3.1-10.4 8.2-9.4 11.8-7.7 12.7-5 11.3-2.1 8.8 1.4 5.7 4.5 2.2 6.6 -2.5 7.7 -5.9 7.3 -8.4 5.7 -9.4 3.5 -8.8 1.4 -6.5-.1 -3.9-.4 -1.4-.1 .2 .5 .6 1.4 0 2.1 -.8 2.2 -1.9 1.6 -2.6 .2 -2.7-1 -1.6-2.6 -.2-4.1 1.7-5.4 3.4-5.9 5.1-4.6 6.9-1.1 7.1 2.2 5 4.6 .9 5 -3.2 4 -5.9 2.7 -6 2.2 -4.6 1.1 -3.2-.8 -2.6-3.1 -1-4.9 1.3-4.6 4.3-2.8 6-.9 5.5 .1 3-.3 .8-1.6 -.2-2.9 .6-4.1 2.1-4.9 3.9-5.8 5-5.8 6.3-4.7 7.2-2.6 6.9-.3 5.3 3.5 3 6.7 -.5 9.5 -4.6 10.9 -8.6 10.5 -12.2 9 -13.3 7.4 -12.6 5.6 -10.7 3.3 -8.9-.1 -6.4-5 -3.6-8.5 1.2-9.9 6.7-9 10.7-6.5 12.1-2.5 10.8 .6 7.1 2.6 2.5 3.5 -1 4 -3.6 4.8 -4.3 5.1 -5.1 4.7 -5.9 3 -6.3 .8 -5.3-2.3 -3.5-4.1 -.3-4.8 3.1-3.9 5.3-2.4 5.8-1.1 4.5-.4 2.6-.1 1.2 .5 .5 1.4 0 2.2 -.8 2.3 -1.9 .9 -2.7-1.7 -2.7-4.9 -.7-7.9 2.5-8.7 6.7-7.7 9.9-4.9 10.7-1 8.9 4.3 5.5 8.2 .1 10.5 -5.9 10.3 -10.4 8.3 -13.1 5.2 -12.4 2.7 -9.5-.2 -5.9-4 -3-7.9 1-12.4 5.4-15 10.7-16.4 15.6-15.7 18.6-13.4 20.1-9.1 18.9-5 15.5 0 10.6 5.4 5.5 10.5 -1.2 15.3 -7.3 17.1 -14.1 16.6 -19 14.7 -21 12.2 -20 8.9 -17.6 5.9 -14.1 2.7 -10.5 .3 -6.8-.6 -2.6 .3 -.2 2.3 .7 4.6 -.6 5.2 -3.2 3.2 -6-1.2 -6.1-5 -3.1-8.3 2-10.3 6.6-11.1 10.8-10.2 12.8-8.3 13.4-5.6 12.3-3.4 9.8-2.4 6.2-2.4 3.9-2.9 2.9-3.9 3-5.5 3.7-7.4 5-9.3 6.9-8.8 9.6-5.8 11.4-.9 10.6 3.9 6.1 9.6 .4 14 -6.1 18 -12.3 20.3 -17.6 20.2 -22.9 17.1 -24.9 13 -24.2 7.6 -20.4 2.2 -15.2-2.3 -7.9-7.1 -2-10.3 3.8-12.7 9.2-12.5 13-9.8 15.7-4 15.1 1.1 10.8 5.8 4.3 8.7 -2.1 9.8 -8 9.3 -10.9 7.4 -12 3.6 -11.2-1.3 -8.6-6.3 -3.3-12.2 2.2-16.2 9-18.5 15.5-17.5 20.3-13.3 22.8-6 20.9 0 14.8 4.6 6.4 6.9 -.7 7.3 -6.5 6.7 -8.5 5.6 -8.8 3.1 -8.1-1 -6.7-5.6 -2.9-9.3 1.9-8.9 7.8-5 11.4 .9 10.7 5.8 4.8 9.9 -1.8 12.2 -8.2 13.3 -12.5 13 -15 11.4 -16.4 8.9 -15.7 6.3 -13.4 2.5 -10.5-2.8 -7.4-7.8 -1.9-12.6 4.1-14.7 10.7-15.1 15.8-14.1 18.1-12 18.4-8 17-4 13.9 .1 9.2 2.4 4.3 3 -.9 3.4 -3 3.6 -3.9 3.6 -4.1 2.7 -4.4 1.1 -4.4-.9 -3.1-1.3 -.8-.4 1.2 1.5 1.6 3.7 .1 6.7 -2.1 8.8 -5.2 10.3 -8.4 10.2 -11.1 8.9 -12.8 6.6 -12.3 4.8 -10.4 2.5 -7.8-.3 -5.6-3.7 -2.4-7.8 .8-10.1 5.4-10.2 10-8.4 12.5-5.8 12.2-3.1 9.9-1.3 6.5 0 3.4 1.3 1.5 2.7 -.3 4.1 -1.8 3.9 -3.7 3 -5 2.3 -4.7 2.8 -3.4 4.2 -2.9 5.2 -3.7 6 -5.2 7.1 -6.4 7.7 -7.7 7.5 -8.7 5 -9.6-.2 -8.8-6.7 -5.7-11.5 1.8-13.8 8.9-13 14.9-10.6 16.9-8.7 15.5-7.4 12.5-5.2 10.4-2.8 8.6-.1 6.1 1.5 3 1.2 -.5 0 -1.7-.8 -1.3-.8 .2 .1 1 1.2 .8 2.6 -.3 3.9 -1.7 5.7 -3.3 7.2 -5.1 8.1 -7.3 7.9 -9 6.4 -10 3.4 -9.4 .1 -7.5-2.1 -3.4-2.7 .3-1.9 2.8-.5 3.2 1.4 2.3 3 .1 4.1 -2 4.1 -3.9 3.5 -5.1 3 -4.9 2.6 -4.2 1.1 -3.6-1.7 -3-5.9 -1-10.3 2.5-13.7 8.3-16.5 13.2-17.4 17.4-17 20.3-14.4 21.3-10.1 20.4-2.8 17.2 3.8 10.9 10.4 2.5 15.3 -5.6 17.9 -14.2 18.5 -19.1 17.5 -22.1 15.3 -22.5 12.1 -21.2 8.1 -18 1.6 -14.3-4.8 -8.6-12 -1.2-17.9 6.8-20.9 16.3-20.8 22.4-17.6 25.8-12.4 25.1-6.5 21-1.5 13.7 4 7.2 8.5 .7 13.2 -5.6 17.2 -10.9 19.5 -17.3 19.8 -21.4 17.2 -24.1 11.1 -24 3.3 -20.4-3.2 -11.8-8.5 -3.1-10.9 5.4-12.6 10.8-13.7 13.5-14 15.7-12.1 16.8-9 16.9-4.9 14.4-1.2 10.5 1.9 5 6.1 1 9.8 -3.2 13.3 -7.8 14.3 -12.6 12.6 -16.8 7.5 -17.5 2.5 -14.3-2.2 -8.5-5.8 -2.5-8.4 3.8-11.5 7.5-13.4 10.9-14.4 14.3-13.5 16.7-11.3 17.6-7 16.2-2.6 12.9 2.6 8.1 6.9 2.5 8.9 -4.4 9.3 -8.8 8.8 -11.1 7.9 -11.3 7.6 -10.6 7.4 -9.6 7.4 -9.2 6.8 -9.1 5.8 -8.9 4.5 -8.2 3.9 -6.8 3.5 -5.5 3 -4.5 1.6 -4.2-.8 -3.7-2.7 -1.4-3.5 1.3-3.6 3.6-3.9 4.3-5 4.3-5.7 5-4.7 6.3-2.6 6.9-.2 5.4 1.5 2.9 2.3 -.3 2.3 -2 1.5 -2.8 .6 -2.8 .1 -1.7 .9 -.5 2.2 -.2 2.5 -1.4 1.3 -2.8-1.3 -3.1-3.8 -1-6.3 1.9-7.2 5.3-6.8 7.9-4.5 8.8-1.2 8 4 5.1 7.8 .4 9.9 -5.5 9 -9.9 6.1 -12.2 1.4 -10.8-2.7 -6.5-7 -1.1-11 3.8-13.7 9.6-15.3 13.9-14.6 17.3-11.7 18.6-7.1 17.6-1.8 13.4 4 8 7.8 .9 10.4 -5.6 12.2 -9.8 13.4 -13.2 13.9 -15.2 13.8 -16.5 13.3 -17.1 12.9 -16.8 12.6 -16.1 11.9 -15.7 11 -15.2 9.8 -14.5 8.4 -13.3 6.9 -11.6 4.2 -10.1 1.7 -7.9-.9 -4.8-3.8 -1.8-7.6 1.8-13.9 5.1-19.3 10.5-23 17.9-23.1 24.2-20.6 28.5-15.3 28-10.2 24.1-3.9 18.1 2.9 11.7 8.4 3.1 12.9 -4.3 14 -11.5 12.6 -16 9 -17.1 4.5 -14.7-1.5 -10.5-5.5 -4.2-8.3 2.4-9.2 7.3-8.2 10.6-5.4 11.1-2.5 9.5 .7 6.3 3.7 2.6 5.4 -1.7 6.1 -4.7 5.6 -6.9 4.7 -7.4 4.1 -6.7 3.8 -5.6 3 -5 1.9 -4.5 .9 -3.5 1 -2.2 2.3 -.9 4.1 -1.3 4.2 -3.3 2.4 -5.1-.8 -5.1-3.8 -2.3-7.2 1.4-9.6 5.5-11.3 9.1-11.9 12-11.8 14.1-11 14.6-10.1 14.2-8.7 13.3-6.4 12.3-4.2 10.1-1.1 7.6 1.8 4.4 5.7 1.1 9.7 -2.7 12.3 -8 13.9 -12.3 14.6 -15.4 14.7 -17.2 14.6 -17.8 13.7 -18 11.3 -17.7 7.8 -16.4 3.1 -13.3-1.4 -9-4.4 -2.7-6.4 2.2-6.9 6-6.9 7.8-6.2 8.5-5.1 8.4-3.9 7.5-4.2 5.8-5.9 4.8-8 5.2-9 7.7-7.9 10-5.5 10.9-1.7 9.5 2.9 6.3 7.2 1 12.6 -4.1 16.1 -10 17.2 -15.9 14.9 -20 10 -21 3 -17.6-2.3 -10.7-7.2 -2.9-11.2 3.4-14.1 10-16.1 14.1-16.5 17.8-15.2 19.8-12.4 20.1-9.4 18-6.1 14.8-4.2 10.6-2.1 7.2 .6 4.9 2.8 1.9 4.7 -.9 5.1 -4 5.3 -5.8 5.3 -6.3 5.7 -6.4 5.5 -6.6 4.7 -7 2.9 -6.7 1.4 -5.4 .6 -3.2 1.1 -1.5 2.3 -.8 3.9 -1.5 4.8 -3 4.8 -5 3.5 -6 2 -5.6 .4 -4.1-1 -2.2-2 -.1-3.3 1.3-4 2.7-4.1 4.2-3.1 4.9-1.5 4.9 1.3 3.6 3.4 1.2 4.9 -1.8 5.3 -4.4 4.7 -6.3 3 -6.4 1.2 -5.4-.6 -3.4-1.2 -1.2-.8 1 .8 1.5 2.3 .6 3.4 -1.2 3.6 -2.9 2.8 -4.4 .6 -4.3-1.8 -3-5.5 -.5-9.8 2.7-13 7.7-14.3 12.4-13.4 16.4-10.9 17.5-7.6 16.1-3.4 12.6 2.5 8.7 6.9 2.9 10.4 -3.7 12.4 -8.9 13.3 -13.3 13.1 -15.4 11.8 -16.4 10 -15.7 8.4 -14.2 7.2 -11.9 5.9 -10.1 4.6 -8.5 2.6 -7 0 -5.4-2.9 -2.7-6.3 .4-8.5 4.4-10 8-11.1 10.6-11.4 12.6-10.7 13.6-9.6 13.8-7.8 13-6 11.5-4.1 9.1-1.6 7.1 .5 4.4 2.1 1.7 3 -.8 3.4 -2.9 4.1 -3.7 5.1 -4.3 6.3 -5.1 6.7 -6.4 6.1 -8 4.5 -8.2 3.3 -7.1 1.9 -5.3 0 -3.8-2.4 -1.9-6 .2-8.5 3.7-10.1 7.7-9.9 10.7-8.3 12.5-5.8 11.9-3.8 9.7-1.8 6.7 .6 4.4 3 1.7 5.5 -1 6.3 -4.3 5 -6.9 1.9 -7.7-1.9 -5.6-6.3 -1.8-8.1 3.4-7.9 8-6.2 10-4.1 9.3-.7 7.4 3.7 4.4 9.4 .3 14.8 -5.2 17.7 -12.9 18.3 -18.6 16.8 -21.9 14.1 -22.2 10.7 -20.3 7.3 -16.4 2.3 -12.7-1.9 -7.8-6.3 -2.3-8.9 2.9-9.3 8.6-7.5 11-5.7 11.1-4.4 8.9-3.5 6.7-2.6 5.2-2.3 4.2-3.7 3-7.3 2.8-11.2 4.9-13.4 9.9-12.4 14.1-9.4 16.4-5.4 14.8-1.8 11 1 5.7 4.9 1.8 8.2 -2.1 11.2 -6.4 12.9 -10.5 12.6 -14.3 10.1 -15.8 7.3 -14.9 4.6 -12 2.6 -8.5 .7 -5.1-1.6 -2.9-3 -.4-2.6 2.3-.8 3.7 1.3 2.9 2.8 .6 3.3 -2 3.5 -3.5 3.9 -4.1 4.1 -4.3 4.4 -4.7 3.9 -5.2 2.3 -5.3-1 -4.7-4.9 -2.2-8.7 1.8-10.2 6.9-9.6 10.9-7.8 12.5-5.9 11.4-3.8 9.3-2.1 6.8-1.1 4.4-2.3 2.3-4.8 1.4-7.5 3-8 6.6-7.7 9.2-7.6 9.8-7.3 9.4-5.9 9.2-3.5 8.8 .3 6.9 4.4 3.9 8.2 -1.3 11.4 -6 12 -10.9 10.2 -14.1 6.9 -14.6 3.9 -11.8 1.6 -7.9 .9 -4.1 1.1 -1.9 1.5 -1.1 2 -1.3 1.5 -2 .2 -2.4-1.7 -1.7-3.1 0-3.6 2.5-4.2 3.8-4.7 4.6-4.4 5.2-2.4 5.7 .7 5.1 5.3 2.7 8.6 -1.9 10.8 -7 11.8 -10.8 12 -13.6 11.5 -14.5 10.3 -14.6 9 -13.8 7.3 -12.5 5.5 -10.6 2.9 -8.7 1.1 -6.2-.1 -3.3-.2 -1.1 .1 .3 .3 .2-.8 -.3-3.6 -.2-7.2 1.2-10.5 5.2-13.8 9.3-15.5 13.7-16.8 17-16.4 19.2-14.7 20.6-11.1 19.9-7.8 17.2-3.7 13.2 .7 9 4.9 3.5 8.7 -1.5 9.9 -6.9 9.5 -10.8 8.1 -12.3 7.2 -11.3 6.5 -9.8 5.4 -8.6 2.9 -7.8-.3 -6.3-2.7 -2.9-3.6 .8-2.6 3.6-.6 4.4 1.2 2.9 2.1 .3 2.7 -1.6 3.4 -2.7 4.4 -3.4 5.1 -4.3 4.7 -5.6 3.1 -6.3 1.5 -5.5 .7 -3.4 .4 -1.7 .2 -.7-1.4 -.6-3 .1-4.1 2-4.1 3.8-4.1 5.1-4.9 5.1-6.7 5-9.2 6.2-11.9 8.4-13.3 12-12.8 14.8-10.5 16.3-6.2 15.4-.8 12.4 4.2 6.4 9.9 .3 13.5 -6.5 15.9 -12.7 16.9 -16.8 16.6 -19.9 14.7 -20.7 12.5 -19.9 9.2 -17.7 5.8 -14.9 2.7 -10.5-.8 -6.6-3.1 -2.4-5.2 1.2-6.6 4.1-7.5 6.8-8.3 8.2-8.7 9.3-8.6 10.2-7.7 10.7-6.8 10.4-6.1 9.3-6.3 8.1-6.6 7.5-7.1 7.6-7.1 8.2-6.2 8.7-4.9 8.5-2.9 7.5-.4 5.8 2.3 2.9 6.3 .2 10 -3.6 13.7 -8.2 15.3 -12.8 14.6 -17.4 11.6 -18.7 8.9 -17.2 5.7 -13.9 1.9 -10.5-1.7 -6.1-4.9 -1.8-5.8 2.9-5.8 6.2-5.7 7.2-5.6 7-4.7 6.9-2.9 6.7-.5 5.6 1.4 3.2 2 .1 1.1 -1.9-.5 -2.3-2.2 -1.2-3.1 .9-3.1 3-3.3 3.8-3.5 3.8-3.7 4.1-3.9 4.3-4 4.6-2.9 4.7-.4 4.8 3.5 3.3 7.2 .1 9.1 -5.4 9.9 -9 10.2 -11.4 10.3 -12.2 10.3 -12.4 9.3 -12.7 6 -12.5 1.9 -10.7-3.3 -6.9-8.2 -1.7-11.6 5.3-14.4 10.5-15.5 14.9-15.1 17.8-12.4 19.1-7.7 18-.4 14.6 4.9 7.8 8.6 -.2 10 -6.6 9.6 -11.1 6.5 -12.4 2.2 -11.2-2.4 -7.4-5 -2.1-5.1 3.9-3.8 6.3-3 6-2.3 4.5-1.6 3.5-1 2.7-1.5 1.8-3.1 1.2-4.8 2.1-4.4 4.1-1.9 6 1.9 5.2 3.8 1.5 4.2 -2.8 3.5 -4.8 3.6 -4.9 4.4 -4.4 5.2 -4.4 5.7 -5.5 5.3 -6.5 3.8 -7 .5 -6.3-2.3 -4-3.6 -.2-2.1 3.2 1.1 4.4 5.1 2.1 7.2 -2.3 8.3 -6.5 8.1 -9.1 6.9 -10.2 3.6 -9.9-.3 -7.8-4.8 -3.8-8.4 .9-10 6.9-9.5 10.6-7.6 12.3-4.7 11.4-1.6 9 .8 4.9 3.2 1.6 4.6 -1.6 5 -4.1 4.2 -5.7 2.3 -6.1-.9 -4.9-3.8 -2.2-6.2 1.5-7.2 5-6.5 8-4.4 8.8-2.4 7.5-.5 5.1 1 2.7 2.2 .3 2.8 -1.5 2.3 -2.9 1.3 -3.3 .5 -2.8 .1 -1.4-.3 -.4-.6 -.1-1 .4-1.1 .8-.9 1.3-.7 1.3-.2 1.1 1.5 .8 3.7 0 5.4 -2.2 7 -4.8 8.3 -7 9.3 -8.8 9 -10.2 6.9 -11.5 2.3 -10.9-1.4 -7.4-3.5 -2.3-4.1 2.1-4.5 4.6-6.4 5.1-8.8 5.7-10.5 8.2-9.7 11.1-6.9 12.9-3.1 11.5-.9 7.6 .5 3.4 2.1 .9 4 -.9 6.7 -2.8 8 -5.6 7.6 -8.4 5.7 -9.8 3.3 -9 .5 -6.7-1.2 -3.3-2.7 -.4-4.4 1.7-6 3.7-7.7 5.6-8 7.8-7.5 9.4-6.4 9.8-5.5 8.9-4.4 7.7-3.8 6.5-3 5.3-1.7 4.5 .8 3.4 5.1 1.8 8.4 -1.8 10.1 -6.7 9.2 -10.7 6.7 -12.4 3.7 -10.9 2.2 -7.4 .9 -4.3-1.5 -2.7-4.2 -.6-6.7 2.1-7.1 5.9-5.9 8.3-3.9 8.6-1.6 6.8 2 4.5 5.2 1.2 9 -2.8 11.9 -6.9 13.4 -11.7 12.8 -14.9 10.6 -16.4 7.1 -15.5 3.4 -12.5-.1 -7.8-3.9 -3.7-5.7 1-6.4 5.1-6.3 7.2-6.2 7.9-6.1 7.6-5.5 7.6-5 7.3-5.5 6.6-7.1 6.1-8.7 7-8.5 9.1-6.8 10.6-4.4 10.4-2.9 7.6-1.3 5.2 .7 3.2 4.5 1.4 9.2 -1.3 12.8 -6.6 14.9 -11.7 14.3 -16.3 11.4 -18.3 7.3 -17.2 3.9 -13 .1 -8.5-2.6 -3.8-5.7 .2-9.1 3.5-12.1 7.8-14.2 11.6-13.9 15.3-11.1 17.4-6.5 16.9-2.2 12.5 1.6 7.4 3.5 1.7 4.1 -2.3 4.1 -4.4 4.1 -5.1 3.4 -5 1.6 -4.9-1.1 -4-3.3 -1.7-3.6 2.1-2.1 4.2-.4 4.1 1.5 2.3 3.4 .3 5.4 -2.3 7.4 -4.4 8.3 -7 8.3 -9.3 7.2 -10.2 5.4 -9.9 2.1 -8.7-.8 -5.9-2.7 -2.1-3.8 1.2-4.3 3.8-5.3 4.6-6.1 5.5-6.3 6.6-6.1 7.5-5.3 7.7-3.5 7.4-1.3 6.2 1.4 4 3.2 1.1 3.9 -2.2 4 -4 3.8 -4.9 3.2 -4.9 2.5 -4.5 2 -3.8 2.1 -2.9 2.8 -2.5 3.2 -2.7 2.7 -3.4 .9 -4-1.8 -3-4.2 -.6-6.4 2.6-8.9 5.3-11.4 8.4-13.7 11.2-13.6 14.6-10.9 16.8-6.2 16.4-.9 12.4 6.3 6.9 12.2 -.4 17.5 -8.5 20.8 -15.7 21.6 -22.5 19.8 -25.6 16.6 -26.2 11.9 -23.8 6.9 -19.7 2.3 -13.4-3.4 -7.8-7.6 -1.5-11.1 4.8-13.3 9.7-13.6 14.3-11.4 16.4-7.9 16.3-3.7 13.5-1 9.1-.9 3.6-2.5 1.1-3.5 1.4-3.9 3.2-4.1 4.4-4.4 4.8-4.4 5-2.9 5.5-.1 5.2 2.9 3.3 4.8 -.7 6.9 -3.8 9 -6.3 11.2 -8.7 12.1 -11.3 11.3 -14.1 8.7 -14.8 6.4 -13.2 3.3 -10.4-.4 -7.4-4.2 -3.3-8.5 1-10.1 6.2-10 10.6-8.2 12.6-5.9 11.9-2.7 9.7 0 6.5 2.1 2.9 3.7 -.3 4.4 -3.1 4.6 -4.5 4.1 -5.5 3.1 -5.6 1.9 -4.9 1 -3.5 .4 -2.2-.4 -1.1-1.8 -.4-4 .6-5.7 2.7-6.4 5.1-5.9 7.3-4.8 7.8-4.1 7.1-3.1 5.7-.7 4.8 2.2 3.4 5.1 .5 6.6 -3.1 6.6 -6.8 4.3 -8.2 .7 -7.7-4.2 -4.8-8.5 -.3-10.9 6.2-11.7 10.9-10.9 13.7-8.8 14.1-5 13.2-.4 10.1 6 5.6 10.3 -1.1 13 -8 13.6 -13 12.9 -16.2 10.5 -16.6 7.4 -15.3 2.5 -12.5-3 -8.5-7.1 -1.8-9.6 4.3-9.5 9.5-8 11.8-6.2 11.4-5.1 9.3-3.8 7.5-2.4 5.9-.4 4.5 1.9 2.8 3.4 -.2 4.1 -2.6 4.2 -4.3 4 -5.1 3 -5.1 1.5 -4.8-.7 -3.5-1.9 -1.3-2.6 1.1-2 2.5-.7 3.1 1.1 2.3 1.8 .5 1.8 -1.5 1.8 -2.3 3.1 -2 6 -2.4 8.1 -4.4 9 -7.6 8.6 -10.1 7.5 -11.1 5.5 -10.4 3.1 -8.8-.2 -6.4-3.7 -3.4-6.8 1.1-9.9 5-11.5 9.1-12.1" fill="none" stroke="#0072BD" stroke-width="1.6" stroke-linejoin="round" stroke-linecap="round"/>
<rect x="408.3" y="342.2" width="275.2" height="224.5" fill="none" stroke="#262626" stroke-width="2.0"/>
<path d="M473.3 566.7v-3.6M473.3 342.2v3.6M540.6 566.7v-3.6M540.6 342.2v3.6M607.9 566.7v-3.6M607.9 342.2v3.6M675.2 566.7v-3.6M675.2 342.2v3.6M408.3 347.4h3.6M683.5 347.4h-3.6M408.3 402.5h3.6M683.5 402.5h-3.6M408.3 457.6h3.6M683.5 457.6h-3.6M408.3 512.7h3.6M683.5 512.7h-3.6" stroke="#262626" stroke-width="1.5" fill="none"/>
<g font-family="'Liberation Sans', Arial, Helvetica, sans-serif" font-size="14.38" fill="#262626">
<text transform="translate(473.3 587.3) scale(1.03 1)" text-anchor="middle">-0.1</text>
<text transform="translate(540.6 587.3) scale(1.03 1)" text-anchor="middle">0</text>
<text transform="translate(607.9 587.3) scale(1.03 1)" text-anchor="middle">0.1</text>
<text transform="translate(675.2 587.3) scale(1.03 1)" text-anchor="middle">0.2</text>
<text transform="translate(401.7 353.5) scale(1.03 1)" text-anchor="end">0.2</text>
<text transform="translate(401.7 408.6) scale(1.03 1)" text-anchor="end">0.1</text>
<text transform="translate(401.7 463.7) scale(1.03 1)" text-anchor="end">0</text>
<text transform="translate(401.7 518.8) scale(1.03 1)" text-anchor="end">-0.1</text>
</g>
<g font-family="'Liberation Sans', Arial, Helvetica, sans-serif" font-size="16.61" fill="#262626">
<text transform="translate(545.4 609.0) scale(0.997 1)" font-size="16.61" text-anchor="middle">x(t)</text>
<text transform="translate(367.8 454.7) scale(1.01 1) rotate(-90)" text-anchor="middle">x(t+4)</text>
</g>
<g font-family="'Liberation Serif', 'Times New Roman', Times, serif" font-weight="bold" font-size="17.0">
<text x="383.8" y="640.8" font-size="18" fill="#0a0a0a">(d)</text>
<text x="413.8" y="640.8" textLength="265.2" lengthAdjust="spacingAndGlyphs"><tspan fill="#ff0000">Phase diagram after</tspan><tspan fill="#0a0a0a"> CEEMDAN-WT</tspan></text>
</g>
</g>
<g id="panel-e">
<clipPath id="clip-e"><rect x="48.2" y="671.9" width="266.5" height="214.1"/></clipPath>
<path clip-path="url(#clip-e)" d="M150.3 785.5l5.1-9 6.4-11.1 8.4-11.9 11.6-10 14-6.2 14.6-.7 12 3.1 6.5 5.5 .3 6.3 -4.2 5.8 -7.3 4.5 -7.8 3.5 -7 2.4 -5.4 .9 -4.2-1.7 -2.7-6.6 -.9-10.7 3.1-12.8 8.8-11 13.8-6.2 16 1.6 13.2 8.4 6.1 15.1 -3.1 20.2 -11.3 22 -20.3 19.6 -25.5 13.7 -27.2 5.2 -23.6-2.7 -16.1-7.7 -4.4-10.7 4.2-10.6 10.5-9.2 13.3-6.7 13.2-3.8 10.9 .4 7.9 3.8 3.8 7.5 -.8 9.8 -5.4 10.3 -10 8.3 -12.3 4.6 -12.6-1.2 -9.9-6.8 -5.1-10 3-9.5 9-5.9 12.7 0 11.5 5.8 6.6 9 -1.5 8.8 -7.8 4.2 -11.6-4.6 -10.4-14.3 -4.3-19.9 8.1-19.1 18.8-12 25.3-1.4 22.9 7.4 13.7 12 -.8 12.6 -10.1 9.9 -15.4 4 -15.4-4.1 -11.8-11.3 -3.2-15.5 6.2-13.3 15.5-6.1 19.2 2.3 15.9 7.9 5.5 10.8 -3.8 10.7 -10.8 9.7 -13.5 8.3 -13.2 6.7 -11.7 4.4 -10.1 2.2 -7.9 .4 -5.1-.6 -2.5-.8 -.1 0 .8 1.1 .8 2.8 0 4.3 -1.6 4.3 -3.9 2.4 -5.4-.4 -5.2-3 -2.6-4.2 .9-4.1 4.3-4.1 5.3-5.9 4.9-9.3 5.4-12.5 7.6-13.7 12.5-12.1 15.8-8.6 16.9-3.7 14.6 1.4 10.1 5.4 3.3 8.1 -2.3 7.6 -7.5 3.7 -10.2-2.3 -9.2-7.7 -3.3-11.1 3.8-11 10.5-8.1 14-3.5 13.4 2.2 9.2 11.1 3.7 18.6 -4.6 24 -14.9 23.7 -24.1 18.5 -30.6 10.5 -28.9 6.5 -21.2 6.2 -12.3 6.8 -7.8 4.6 -7.9-3.7 -8.4-12.3 -4.2-19 5.8-20 16.4-15.9 24.6-6.7 24.6 1.3 17.9 8.5 7.2 12 -2.8 12.1 -11.8 9.4 -15.1 5.8 -14.7 1.1 -11.2-3.9 -6.6-7.6 -.1-9.3 5.4-7.9 10.1-4.9 11.4-2.3 9.6-1.9 5.3-3.2 2.7-5.2 2.5-6.7 4.3-7 6.6-5.8 8.6-2.8 8.7 0 6.6 2.1 3.1 1.9 -.4-.1 -2.9-2.9 -2.1-3.3 .8-.3 3.8 6.3 4 13 -.9 18.1 -8.8 16.9 -17.7 10.3 -22.5 1.2 -20.6-5.4 -10.6-8.7 -.4-8.6 7.8-8.7 10.8-10 10.6-11.6 11-10.7 12.7-7.2 14.5-1.4 13 4 8.2 7 .3 7.7 -5.5 6.4 -9.1 4.4 -9.5 4.4 -7.6 6.4 -5.2 10.1 -5.6 11.3 -8.9 8.6 -12.8 3.1 -13.9-2.4 -9.7-7.9 -3.1-11.1 4.4-13.2 10.3-13.1 14.1-10.6 16.7-4.4 16.2 1.4 11.9 6.7 4.7 8.7 -2.6 7.1 -9.2 1.6 -10.9-3.3 -7.8-4.7 -1.1 .1 4.6 8.3 5.4 17 -1.1 18.4 -12.6 12.2 -21.7 1.1 -22.6-9 -12.8-16.4 .1-17.5 13.3-14.7 20.8-10.3 21.6-6.9 17.3-4.2 12.3-2.4 7.9-.1 4.9 2.2 2.7 3.4 -.4 2.8 -3 .3 -4.3-2.1 -3.1-1.4 0 3.4 2.9 12.2 1.3 18.2 -6.1 19.1 -16.3 13.1 -23.2 4.3 -22.9-5.8 -15.3-10.4 -2.8-9.7 8.1-4.3 13.2 2.7 11.3 9.3 4.4 10.7 -5.1 7.6 -12 2 -13.2-2.7 -8.3-5.7 -1.7-7.1 4.2-9.1 7.3-12.2 9-14.7 12-14.4 15.6-10.7 18.5-4.6 17.5 .7 12.6 3.6 4.2 4.9 -1.4 5.6 -4.9 6.5 -6.2 7.1 -7 6.9 -8.3 5.9 -8.8 4.4 -8.4 2.2 -7.2-1.1 -5.3-4.5 -2-8.2 1.8-9.2 6.6-8.1 10.3-5.6 11.5-3.1 9.7-.6 6.6 .8 3.2 2.4 .6 4.2 -1.2 5.4 -3.5 5.1 -5.5 3.4 -6.8 .7 -6.1-1.8 -3.9-3.5 -.2-4.3 2.5-3.7 4.6-1.1 5.4 3.4 4.4 7.8 .4 11.4 -4.8 11.7 -10.7 10 -14.3 6.8 -14.5 3.5 -11.8-.1 -8-1.9 -3.5-1.9 .5-1.5 2.4-2.4 2.3-5.5 1.9-7.9 3.6-7.6 7.2-3.6 10.1 1.3 8.9 4.1 3.7 2.3 -2.5-2.4 -5.1-7 -2.4-8.5 4.3-6.6 9.1-3.7 10.4-1.6 7.8-1.9 4.1-4.1 1.8-6.3 2.6-5.7 5.7-1.9 7.9 3.8 6.8 8.4 1.1 10.6 -5.5 9.3 -11.1 5.2 -13.2 .2 -11.2-3.3 -5.3-5 .3-3.7 4.8-.8 6.1 2.2 4.3 4.9 .3 8.5 -3.2 12 -6.8 14.4 -11.1 12.9 -15.3 7.6 -18.1-1.2 -15.5-6.1 -7.5-6.6 2.3-3.7 8-1.3 7.8-2.6 4.2-6.1 1.5-9.1 3.7-7.4 8.2-2.4 11.5 3.8 8.7 5.1 1.3 1 -5.1-5.7 -6.2-10.5 .2-10.3 8-4.9 13.6 3.1 12.1 9 5.2 10.6 -5.7 8.4 -11.7 5.7 -12.9 3.9 -10 2.7 -6.8 .8 -4.5-2.7 -3.2-5.6 -.3-7.3 3.9-7.5 7.3-7.3 9.3-8.4 9.2-10.3 9.2-12.3 10.7-12.1 13.1-8.8 15.6-1 14.8 5.7 9.4 9.7 .2 8.2 -7.9 4.2 -12.3 1.3 -9.8 3.7 -4.2 9.9 -1.8 15.5 -5.2 16.7 -14 13.4 -19.6 9.9 -20.3 8.3 -16.1 9 -11.9 9.3 -10.3 6 -11.3-.2 -11.2-7.1 -6.6-11.1 1.1-11 10.3-7.7 14-5 13-3.5 9.2-3.6 5.9-4.2 4.2-5.5 4.5-7.2 5.5-9.4 7.1-10.8 9.2-10.4 12.2-7 13.5-3.1 12.4 .1 8.1 .7 3.3-1.1 -.6-4.3 -.7-6.5 2-6.9 5.8-4.5 8.3 .3 8.3 7.1 5 11.1 -1.9 11.8 -9.5 9.5 -14.2 7.7 -14.3 8.7 -11.5 11.8 -9.5 14.5 -11.2 13.7 -15.1 9.6 -18.4 2 -16.6-4.5 -10.4-10.9 -1.5-15.2 6.5-17.1 14.8-15.8 19.4-12.8 21.1-8.5 19.4-4.7 15.4-1.8 9.5 1.5 5.4 4.8 1.5 9 -2.3 12.7 -6.4 14 -12.2 11 -16.2 5.2 -17.1-1.6 -13-5.5 -5.6-4.5 3.5 .2 7 3.6 4.7 4.5 -.8 3.3 -4.9 2.7 -5.5 3.6 -3.9 3.8 -3.5 1.2 -4.6-3.5 -4.6-6.8 -.5-5.8 5-1.9 8.6 1.1 6.7-.3 1.9-4.6 -1.7-9 .8-8.5 7.1-4 11.3-.3 10.1-.5 3.9-4.4 .1-6.9 1.3-5.7 5.9-.8 8.9 3.8 6.2 6.8 .3 6.8 -5.7 6.5 -8.5 6.2 -8.4 5.2 -8 1.8 -7.6-2.3 -5.9-6.4 -1.7-8.7 3.4-8.6 8.8-6.6 10.9-4.4 10.4-2.6 7.9-1.4 5.2 0 2.9 3 1.5 6.1 -.5 8.3 -4.2 8.3 -8 7.2 -10.6 6.5 -10.2 7.4 -8.6 8.5 -8.3 7.4 -9.4 3.8 -10.5-3.3 -8.9-9.6 -3.3-15.1 5-17.2 12.8-15.4 19.7-9 21.4-2.9 18 2.3 10.3 4.9 2.7 6.4 -3.7 9.8 -6.3 13.4 -8.6 15.9 -12.6 14.5 -17.2 10.5 -19.9 4.8 -17.7 1.8 -11.7 .2 -5.5-1.2 -1.9-2.5 .1-3.3 1.7-2.7 3.4-1.6 4.1-2.3 3.1-5.2 1.9-9.6 3.1-11.3 7.5-10 12.3-6.8 14.1-4.3 11.8-3.3 8.1-3.9 4.9-4.6 4.2-4 5-2 5.8 1.4 4.7 4.3 1.8 7.3 -2.1 9.5 -5.9 10.4 -9.7 10.7 -12 10.4 -13 9.5 -13.3 7.1 -12.9 3.9 -11.4 .7 -8.5 1 -3.9 4.6 -.8 8.2 -1.5 8.1 -6.7 1.3 -10.5-7.2 -9-14.6 -.5-16.8 10.1-13.5 19.5-5.5 20.7 1.7 15.2 7 5.8 7.1 -3.1 2.1 -9.4-7.2 -8.4-13.3 -.6-14.4 10-10.5 17.1-5.2 17.5-1 12.3-.3 5.3-1.2 1-2.3 .5-2.6 1.7-2.1 2.9-.4 3.2 2.8 2.4 6.3 .2 8.5 -4.3 8.1 -8.3 5.7 -10.6 2.5 -9.8 .1 -6.8-1 -2.3-1.1 .1-.6 1.3 .5 1.4 1.8 .6 2.6 -.9 1.6 -2.5-.5 -3.1-2.8 -1.8-3.8 .9-3.2 4-1.5 4.8-.1 3.6 1.3 1.6 2.6 -.1 3.5 -1.9 4.1 -3.3 4.1 -4.6 3.6 -5.2 3.5 -4.9 3.6 -4.5 3.7 -4.3 3.5 -4.5 2.3 -4.7 .5 -4.1-1.3 -2.5-2.7 -.4-2.2 2-.1 3.3 1.9 2.6 2.2 -.4 0 -2.6-2 -2.3-2.1 .3-.3 2.6 1.6 2.4 1.2 0-.9 -2.1-3.7 -1.3-5.4 1.6-6 5.1-6.4 6.9-6.1 7.5-4.4 8-.8 7.6 2.7 4.7 4.5 .4 3.1 -4-.1 -5.5-2.2 -3.5-1.7 .9 1.2 2.8 3.2 1.6 3.1 -1.9 .6 -4.2-2.1 -3.4-4.7 -.4-6.4 3.3-8.1 6.1-9 8.2-8.6 10.4-5.4 11.2-1.6 10.1 2.5 6.3 5.2 1.4 5.7 -4 4.3 -6.7 2.9 -6.8 2.8 -5.1 5.6 -3.4 9.6 -3.9 13.2 -7.5 12.8 -12.9 9.2 -16.5 4.8 -15.7 2.5 -10.3 2 -5.5 2 -2.9 .1 -2.6-3.6 -2.3-7.2 .6-10.6 4.9-11.5 9.9-10.3 13.4-7.1 14.3-3.5 12.2 .6 8.4 2.4 3.3 2.6 -1.1 1.2 -3.1-.6 -3-1.8 -1.3-1.5 1.1 .1 2.3 1.7 1.8 2.4 -.6 2.8 -2.3 3.9 -3 5.7 -3.6 6.1 -5.1 2.9 -7.5-5 -7.3-11.3 -2-13.1 7.2-8.5 14.6-.8 16 6.5 9.5 7 -1 2.8 -8.3-2.2 -8.5-3.9 -2.2-.4 3.3 4.7 4.4 9.1 -.1 10.2 -6.6 7.7 -12.1 1 -12.5-5.8 -8.3-12.1 -.3-14.5 8.1-11.4 16.2-2.2 17.9 5.4 12.4 8.7 1.7 5 -7.7-1.3 -10.7-5.1 -5.4-2.2 3 4.8 6.2 9.1 2 7.6 -7.6 .5 -11.5-4.2 -8-4.2 .2-.2 5.6 3.2 4.6 2 -.4-2.7 -4.1-7.4 -1.9-7.4 4.1-2.9 9.8 4.6 8.9 8 1.9 6.9 -6.4 2.2 -10.2-1.5 -7.7-1.6 -2.2 2.3 2.4 8.3 1.6 12.2 -3.6 12 -11.7 7.3 -15.4 2.4 -14.2-.9 -8.3-.9 -2.4 .8 1.6 2.6 1 2.6 -1.6 1.1 -3.3-1.2 -3.1-3.8 -.9-8.5 1.8-13.2 5.7-17.6 11.2-18.8 17-16.3 22.7-10 23.2-4.6 19.1 0 11.6 2.8 4.9 4.9 -.7 7.4 -3.8 9.3 -6.7 10.5 -9.5 10.5 -11.8 8.5 -13.3 3.2 -12.8-3.1 -9.7-8.8 -3-10.6 4.6-7.6 12 0 13.1 6.3 7.9 10.4 -.9 10.9 -8.6 8.9 -13.6 4.4 -13.4 .8 -10-2.1 -5.1-3.1 -.4-3 3-3.1 3.9-4.1 3.7-5.6 3.9-5.9 5.3-3.9 7.3 1.4 7.2 6.3 3.8 10.4 -2.4 11.1 -8.6 8.9 -13.4 3.4 -13.7-1.7 -10-6.7 -3.5-9.6 2.8-10 9.4-7.4 12.1-3.9 12-1 8.7-.4 4.5-2.3 .7-5.7 .7-7 3.6-6 7.3-2.3 8.8 1.6 6.8 5.2 2.3 6.1 -3 5.9 -6.6 5.9 -7.6 6.9 -7.2 8.2 -7.5 6.7 -8.9 1.4 -10.1-5.9 -8-10.3 0-9.5 8.1-4.3 13.2 2 11.2 5.2 4.5 4.6 -3.8 2 -6.6 1 -5.1 1.4 -2.3 2.4 -1.1 2.1 -2.1 .4 -3-1.3 -2.3-1.9 -.2-1.5 1.7-.5 2.5 1.5 1.7 3.5 .2 6.4 -2 8.2 -4.8 7.9 -8.5 3.7 -10.4-1.5 -9.1-7.4 -4-11.1 2.7-11.6 10.5-8.8 14-5.2 14-1.1 10.4 2.2 6 4.7 .5 6 -3.2 5.7 -6.2 4.4 -7.5 3.5 -7 3.5 -5.1 3.4 -4.3 1.2 -4.5-3.9 -4-9.6 -1-12.8 6.2-11.6 12.7-7.4 15.9-1.7 14 2.9 8.5 5.2 .8 4.1 -4.1-.2 -6.5-7.1 -4.7-12.8 1-13.5 10.6-8 16.3-.7 16 6.2 8.9 9.8 -.1 10.8 -9 11.8 -12.4 13.6 -13.6 15.5 -14.9 15.8 -17.2 13.5 -19.6 9.1 -19.5 5.6 -15.8 2.5 -10.8 0 -6.5-2.2 -2.5-4.6 .4-5.7 3.3-6.4 5.8-7.7 7.2-10.5 8.2-15.9 9.8-20.7 14.2-23.4 20.5-21.8 26.3-16.7 29.2-8.6 26.7-3.3 18.9-1.3 9.8-2 3.6-2.7 1.5-1 2.7 2.4 3.2 6.5 .8 10.8 -3.5 15.3 -9.2 22 -13.9 26.7 -20.4 26.8 -28.2 19.7 -33.7 9.4 -32.4-.2 -23.2-.9 -9.1 5.4 .8 12.9 .8 14.9 -8.7 8.4 -16.7-1.6 -17.8-12.3 -9.1-19.6 3.4-22.5 17.6-22.2 25-20 28.1-16.3 27.4-12 24.5-9 19.2-7.7 14.5-8.5 10.6-9.3 9.7-7.4 10.8-2.5 11.4 4.9 8.7 9.1 1.5 9.9 -6.9 7.4 -11.7 5.4 -12 6.2 -8.9 9.6 -6.6 13.9 -8 16.3 -12.5 16 -18.2 13.1 -20.4 10 -19.3 6.3 -15.9 1.7 -12.1-3.5 -6.8-9.8 -1.4-12.7 5.9-11.6 12.7-6.8 15.9-1.7 13.6 1.9 7.8 1.5 1-1.3 -2.5-3.8 -1.6-4 2.4-1.4 4.9 2.3 4.6 5.7 1.2 7.6 -3.3 7.4 -7.9 4.8 -9.5 1.3 -8.8-3.1 -5.5-6 -1-6 4.9-2.7 7.6 .9 6.9 3 2.8 2.6 -1.5 .9 -4-1.3 -3.1-2.7 -.6-4 1.9-5 3.5-5 5.3-3.8 6.2-2.1 6.1 .3 4.6 2.9 2.2 5.4 -.9 7.3 -4 6.3 -7.3 2.7 -9-1.3 -7.6-2.5 -2.2-.7 1.8 1.1 3 1.5 .6 .3 -1.6-.5 -1.7-.1 -.2 .9 .7 1.3 -.1 1.3 -1.2 1.8 -1.6 2 -1.7 .3 -2.3-4.4 -2.4-10.1 -.1-12.7 6.9-10.1 13.2-4.4 15.7 1.2 11.8 2.6 4.6-.2 -2.5-4.9 -2.9-6.6 1.3-4.8 6.4-.4 8.3 4 5.2 7.7 -.2 7.8 -6 4 -9.8-2.7 -9.5-8.5 -3.6-9.8 4.4-4.4 11.4 5.3 11.7 13.3 4.4 15.4 -9 12 -17.2 7.5 -18.8 3.7 -14.3 2.1 -8.6 1.8 -4 1.5 -2.6 1.2 -2.1 1.5 -1.7 2.3 -1.6 2.9 -2 2.1 -3 .1 -3.5-2.8 -2.4-5.1 .2-5.8 4.1-3.8 6.6-.7 6.9 2.3 4.4 2.4 .4-1.3 -3.4-9.1 -2.7-14.7 3.3-16.6 12.3-13.8 18.8-9.2 20.5-3.6 16.6 0 10.1 3.9 3.9 7.8 -.5 10.7 -5.8 12.7 -10.1 12.5 -13.9 11.4 -15.8 10 -15.5 9.4 -13.8 9.3 -12.4 8.6 -11.6 6.1 -11.5 .5 -10.6-6 -6.5-13 .2-15.8 9.2-15.2 16.8-12.1 19.8-8.7 18.3-4.7 14.6-.7 10 4.5 5.2 9.4 .3 12 -6.9 11.2 -12.2 8.1 -15 3.8 -13.6 .9 -9.5 .2 -3.8 1 -.9 1.5 -.3 .5 -1.4-1.7 -1.9-3.7 -.2-3.9 2.5-1.9 4.9 .9 4.6 2 2 .8 -1.7-2.7 -2.5-5.6 -.3-8.2 3.8-10.5 7.3-12.5 10.8-12.9 13.4-10.5 15.8-5.5 15.9-.7 12.5 1.3 5.5 1.2 .5 .8 -1.8 2.7 -1.3 7.2 -1.1 11.5 -4.2 13.8 -9.5 11.7 -15.2 5.9 -17-.6 -14-5.1 -5.8-6.9 1.6-6.4 6.9-4.8 8.6-2.8 7.8-.7 5.5 2.4 3.3 4.2 .1 4.6 -3.3 3.3 -5.4 1.8 -5.5 .4 -4-.4 -1.8-1.9 -.4-5 .6-8.5 3-10.9 6.7-9.6 11.3-4.3 13.5 2.6 11.5 7.6 3.7 9.6 -4 8 -10.2 4.6 -11.9 1.1 -9.6-1.3 -4.8-3.6 -1-4.5 2.3-4.1 4.5-2 5.7 1.5 4.9 5.8 2 7.8 -2.9 7.6 -7.6 5.5 -9.8 3 -9.2 1.1 -6.4 .4 -3.2 0 -1.2-.3 -.4-.3 0 .2 .4 .5 .3 .1 -.3-1.4 -.7-3 .2-4.1 1.9-3.5 4.1-.4 5.1 4.3 4.1 8.8 -.5 11.5 -6 9.9 -11.8 4.4 -14.3-2.6 -11.8-7.4 -3.8-9.4 4-7.8 10-4 11.6-.5 9.3 .9 4-.8 .2-3.6 -.9-5.1 1.4-2.4 4.8 4 6.2 13.3 2.3 17.8 -7 16.5 -17.4 9.6 -22.5 1.8 -19.4-4.5 -10.8-5.3 -.4-3.7 5.8-2.5 6.5-3.8 4.2-8.6 3.1-13.2 5.6-16.4 11.4-15 17-9.6 20.6 .8 18.2 8 9.7 10.6 -2.1 6.4 -10.8-1 -13-8.4 -6.9-10.2 3.1-7 11-.7 12.6 5.7 7.4 11.4 -.1 13.3 -8.6 12.6 -14.5 9.9 -16.7 6.7 -15.1 2.1 -11.9-2.3 -7.4-6.8 -1.9-9.5 3.4-8.6 9.5-3.7 11.8 2.1 9.9 7.3 3.7 9.5 -3.4 8.8 -10 5.4 -11.8 1.8 -10.3-2.7 -6.3-7 -1.7-9.8 4.5-10.8 9.2-9.1 12.6-5.2 13.3 0 10.9 4.9 5.3 10.2 -.6 12.2 -7.4 10.7 -13.1 6.4 -15.3 2.2 -12.5 0 -7.3 .5 -2 .5 0-2.3 -.7-6.9 -.3-12.1 3.3-13.4 10-11.1 15.4-6.1 16.6-1.5 12.7 1.8 7 2.1 .9 .4 -2.4-1.4 -2.5-1.9 0-.4 1.9 1.1 2.1 1.3 .3-.2 -1.5-2 -1.4-2.2 .5-.9 2.7 1.1 2.6 1.9 .8 1.6 -1.7 1.6 -2.3 2.7 -1.9 4.8 -2.1 6.2 -3.6 6.1 -6.5 4.1 -7.8 1.3 -7.3-2.4 -4.7-6.5 -1.2-8.9 4-8.9 8.5-6.1 11.4-2.3 10.8-.1 7.1 .2 2 .5 0 2.8 -.2 7.5 -.8 11.5 -4 11.9 -10.5 7.9 -14.6 3.6 -14.2 1.5 -9.2 2.4 -4 4 -1.7 3.7 -3.3 1.4 -5.1-1.3 -4.3-2.5 -1.3-2.5 2-3 3.2-4.1 3.2-5.8 3.8-6.6 5.3-6.9 7.5-7.4 8.3-8.5 8.6-9.4 9.4-8.2 10.8-5.1 11.6-.6 9.9 1.3 5.3 0 .3-3.7 -1.7-6.6 .8-6.7 5-2.9 8.6 3.7 7.9 9.9 2.9 12.8 -6.2 11.5 -13 7.9 -16 5.3 -13.7 5.8 -9.4 8.1 -6.3 8.6 -7.5 4.9 -10.5-1.4 -10.3-6.6 -5.5-7.6 3.4-5.8 8.5-4.9 9.2-6.7 7-10.4 6.1-12.7 9.1-10.6 13.4-4.8 15.8 3.2 12.5 8.9 4.9 9.7 -5.8 5.9 -11.4 1.7 -11.5-1 -6.7-.2 -1.5 2.1 1.3 4.4 0 4.8 -3.2 4.2 -5.6 3.4 -5.9 2.5 -5 1.3 -4.1 .3 -2.9-.3 -1.5 0 -.2 .7 .3 1.8 0 3 -1.1 4.9 -2.3 6.2 -4 5.4 -6.5 1 -7.8-4.6 -6-9.3 -.4-10.7 6.3-8.8 12.5-4.6 13.2-1.6 10.1 .7 5.2 3 1.6 5.9 -1.4 10.6 -4.1 13.3 -8.3 13.3 -13.6 9.1 -16.9 2.8 -15.9-5.1 -10.6-9.6 -1.6-11.3 7.1-9.9 12.4-6.7 14-1.4 11.9 3.4 7.3 7.7 1.1 9.2 -4.9 7.4 -10.4 2 -11.4-2.9 -8.1-6.4 -1.7-7.2 4.2-6.4 8.4-5.5 8.9-5.6 7.8-6.8 6.8-7.7 7-7.2 8.7-4.3 9.6-.9 8.6 1.8 4.8 2 .6 .4 -2.6-1.2 -2.3-.6 0 1.7 1.4 4.4 .6 6.2 -2.7 7.7 -5.8 8.6 -8.1 8.7 -9.8 6.7 -10.8 2.6 -10.5-3.8 -7.9-8 -1.9-9.7 5.4-8 10.5-4.8 12-2.2 9.5-3 5.2-6.5 2.7-9.6 4-9 9.1-1.1 12.2 8.5 9.8 16.7 .2 17.6 -12 11.3 -22.1 .2 -21.3-5.9 -11.6-5.7 .9 0 7.8 6 6.2 8.7 -.9 6.2 -8.4 1 -10.7-3.4 -7.2-4.6 .1-3 4.6-.8 5.5 1.1 3.4 2.5 .7 3.5 -1.8 4 -3.2 2.8 -4.6-.4 -4.9-4.2 -3.1-6 1.5-5.3 5.5-3.3 7.6-2.8 6.2-5.8 3.9-10.3 3.8-13.9 7.7-12.9 13.9-7.5 17.4-1 15.6 3.5 7.7 6.7 .6 8.1 -5.3 9.1 -8.6 9.2 -10.2 7.9 -11.5 5.7 -11.2 3.8 -9.5 2.7 -6.7 2.7 -4.5 3 -3.3 3.3 -3.3 3.1 -3.8 2.6 -4.1 1.5 -3.9 0 -3-3.5 -1.7-8.4 .6-15 5-19.5 11.2-19 20.2-11.4 24.5-2.8 22.4 4.3 12.9 6.8 2.3 6.3 -6.6 5.7 -8.4 6.8 -7.6 8.3 -7.2 8.4 -8.7 7 -10.5 4.7 -10.3 3.5 -8.3 3.8 -5.5 5 -4.3 5.7 -4.9 3.8 -6.5 .1 -6.9-4.3 -4.3-6.4 .6-5.5 6.2-2.7 8-1.5 6.2-2.2 3.1-3.8 1.8-4.7 3.1-4.1 4.9-2.9 5.8-1 5 .7 3.3 2.4 .9 4.6 -1.1 6.5 -3.5 7.8 -6 8.1 -8.2 7 -10 4.5 -10 2.6 -8.2 1.6 -5.3 2 -2.9 2.7 -2 1.6 -2.7-1.5 -3.2-6.3 -1.7-10.7 2.4-12.9 9-12.7 13.8-11.4 16.2-9.5 15.7-7.7 13.8-5.7 11.4-.7 9.4 5.5 6.1 13.1 .2 17.8 -7.9 17.2 -17.9 10.7 -22.3 3.5 -20.4-2.5 -12.3-4.6 -3.3-3.5 4.1-.9 5.7 0 3.8-1.5 .9-5.2 0-9.1 2.5-11.3 7.1-9.8 12-4.6 14.1 2.3 11.7 7.6 4.1 10.2 -3.6 8.5 -10.5 4 -12.6-.2 -10.1-2.2 -3.8-2.2 .7-1.9 2.8-2.7 2.7-4.7 2.3-6 3.9-5.8 6-4.1 7.6-1.5 7 .9 4.8 2.6 1.2 4.4 -1.3 5.6 -3.7 5.9 -5.6 4.6 -7.1 2.2 -7.2-.8 -5.5-2.6 -2.1-3.2 1.4-2.8 3.4-1.6 4 .4 3.3 2.3 1.6 4.4 -.7 5.8 -3.2 6.5 -5.9 6.3 -7.3 5.4 -8.1 2.6 -7.9-1.3 -6.4-5.3 -2.5-9.2 2.2-11.1 7.6-12.2 11.8-12.4 14-11.4 15.3-7.2 15.4-.8 13.5 7 8.1 13.1 .1 15.4 -10.6 13.8 -16.8 10.2 -19.1 5.2 -16.7 .8 -12.1-1.1 -5.2-.5 -.6 1.8 1.5 4 .2 4.8 -2.6 4.3 -5.3 3.4 -5.9 1.9 -5.2-.5 -4-3.4 -2.2-5.5 1.3-6.1 4.6-5.5 7.1-5 7.6-5.2 6.8-5.9 6.1-6.7 6.6-7.1 7.5-7.2 8.4-6.3 8.9-4.8 8.8-2.7 7.7-1.9 5.4-1.5 3.3-.6 2.2 2.3 1.8 8.2 .5 13.4 -4 16.4 -11.1 15.4 -17.2 11.7 -20.7 6.1 -18.8 3.4 -13.2 4.2 -7.1 8 -4.1 12.2 -5.7 13.5 -10.6 9.4 -15.9 .1 -16.5-10.6 -10.8-17.6 2.6-20.4 14.3-19 23-16.1 25.2-13.4 23.3-11.2 19.4-7.7 16.4-4.3 13.1-.9 9.1 1.5 4.9 2.5 .4 2.7 -2.1 1.9 -3.2 .5 -3.3-.9 -2.2-1.5 -.3-.7 1.3 1.3 1.8 4.7 .7 9 -1.9 13.1 -6.9 16.8 -11.8 17.5 -17.3 15.8 -21.1 12.6 -21.7 9 -19 3.9 -15.1-2.1 -10.2-10.6 -4.1-18.8 3.5-22.6 15.5-20 24.2-13.6 28-6.7 24.1-2.9 16-2 6.8 1.1 3.5 8 2.1 18.8 -2.2 27.6 -11.2 29.5 -26 23.1 -34.9 13.5 -35.9 2.8 -27.4-5.4 -15.4-11.3 -1.2-17.5 7.7-22.2 15.4-24.7 22.6-22.7 28.1-17.1 30.8-7.7 27.7-.1 19.2 6.4 8.5 10.7 -.9 12.3 -9.4 12.9 -13.5 13.7 -15.5 15.6 -16.1 17.4 -17.2 16.6 -20 9.9 -21.7 .4 -19.5-11.5 -11.2-21.3 1-26 17.1-26.1 27.4-23.2 32.7-18.7 32.2-13.7 28.2-8 22.1 2.4 16.4 13.1 7.9 24.4 -4.4 31.4 -17.8 32.2 -32.8 26.5 -39.5 17.8 -39.2 5.9 -31.8-6 -20.7-14.5 -4.4-19.1 8.9-17.9 19.5-14.6 23.7-11.9 22-11.4 17.2-11.4 14.6-9.7 14.3-4.5 14.1 2.6 11.6 8.9 4 14.4 -4.1 17.3 -12.5 19.4 -18.4 20.8 -21.8 20 -24.7 14.2 -25.8 5.1 -24-7.7 -16.6-19.2 -4.9-25.6 12.8-26.4 25.1-22.5 32.5-15.6 32.5-8.2 27.2-1.9 17.6 4.2 9.1 8.2 1 11.9 -5.8 14.6 -10.8 16 -15.5 15.1 -18.5 12.1 -19.9 6.4 -18.4-1.3 -14.6-8.6 -6.2-15.2 2.6-17.1 12.5-14.6 19.4-8.8 21.2-2 17.1 5.4 10 8.5 .7 6.8 -7.4 .1 -10.7-7 -7.3-10.2 .9-6 10 3.4 12.4 10.5 6.4 10.3 -6.4 1 -13.5-8.7 -11.3-15 .1-14.1 12.1-8.9 19.3-3.6 16.9-2.9 9.7-4.4 4.1-3.9 3.8 .9 5.8 10.8 4.5 17.5 -3.3 19.6 -14.5 16 -22.4 9.9 -24.2 2.8 -19.1-1.1 -10.6-2.8 -2.8-2.3 1.7-.5 3.6 2.7 2.7 4.8 -.1 6.1 -3.6 5.9 -6.3 5.3 -7.7 4.7 -7.2 4.4 -6.4 2.9 -5.8-.5 -5.4-4.8 -3.1-8.7 1.3-8.9 7-6.9 11-5.5 10.9-7.8 8-14.6 6.9-19.9 11-20.4 19-13.4 25.3-2.8 24.5 9.9 15.4 15.5 .4 15.5 -13.3 10.7 -19.8 5.2 -18.5 1.6 -12.5 1.7 -5.4 3.9 -1.8 5.7 -2.3 5.7 -5.4 3.8 -7.2 1.4 -6.8-1.2 -4.4-3.4 -1.4-4.4 2.1-3.3 4.4-.7 5.4 2.2 3.8 3.3 .5 1.8 -3.4-1.9 -4-4.2 -1.4-5.4 2.7-5.7 5.5-6.3 6.9-6.9 7.1-6.9 7.9-5.4 8.7-2.8 8.4 .4 6.3 5.1 3 9 -1.5 11.6 -6.8 11 -11.7 7.6 -14.7 1.9 -13.4-1.6 -8.1-2.9 -1.8-1.8 2.3-.1 3.5 2.1 2.1 2.9 -.4 2.5 -2.7 1.2 -3.7-.5 -2.9-2.8 -1.3-4.6 1.2-5.8 3.7-5.1 6-2.4 7.3 1 6 1.6 2.1-.5 -1.4-3.3 -1.9-4.5 1.3-4 4.5-3.6 5.6-4.4 4.8-5.5 4.4-5.2 5.8-2.5 6.9 .3 6 2.8 2.7 4.6 -.8 6.1 -3.9 9.1 -5.8 11.9 -8.3 14.8 -11.6 15.8 -15.3 14 -18.9 7.2 -19.6-.7 -16.2-8.2 -7.9-11.3 2-9.1 11.7-2.3 14 2.7 9.9 3.8 2-.5 -3.8-6.7 -4.3-12 1.5-11.7 9.8-7.5 15-2.4 14.3 .9 8.1 2.3 2.3 2.2 -1.6 2.7 -2.8 4.4 -2.8 6.2 -3.6 6.8 -5.7 4.8 -8 0 -8.4-5.8 -5.4-10.4 1.3-14 8-14.9 13.9-13.7 17.6-10.1 18.5-5.2 16.5 1.6 11.9 6 4.9 8.3 -2.7 7.5 -7.9 4.7 -10.5 .2 -9-3 -4.9-4.4 .3-2.9 4.1 .8 5.5 6.6 3.2 10.6 -2.4 13.2 -8.8 13.9 -13.6 13.4 -16.8 11.4 -17.3 9.2 -16.3 5.7 -13.9 1.5 -11-2.6 -6.2-6.2 -1.2-7.2 4.1-6.5 8-5.6 9-6.2 7.7-8.6 7-10.2 8.1-9.9 11-7.2 12.8-3.7 11.9 .4 8.5 2.8 3.6 4.6 -.8 5.7 -3.7 5.8 -6.1 4.1 -7.2 1.3 -7-2.5 -4.8-5.5 -1.1-6.2 4-3.3 7.1 2.1 7.3 9.4 3.5 15 -3.5 16 -13.4 11.2 -19 4.5 -19.3-2.5 -13.1-6.4 -4.5-7.7 4.4-7.7 8.3-7.5 9.7-7.8 9.4-8.8 9.4-10.4 9.8-10.7 11.2-8.1 13.1-1.6 13.2 5.6 9.5 9.7 .1 9 -7.8 5.5 -12.2 1.3 -10.8-.9 -6.2-.6 -.9 1.6 1.2 4.2 .4 6.5 -2.4 7.8 -5.5 7.3 -8.6 4 -9.7-.4 -8.5-5.5 -4.5-7.6 1.2-5.4 7.8 1.2 9.5 6.1 5.4 6.8 -2.4 2.4 -8-3.3 -7.9-7 -2.2-6 5.2-2.3 8.8 .9 7.1 1.5 1.9-.4 -1.4-2.9 -1.6-5 .9-5.1 4-3.4 6.4-.2 6.2 1.7 3.6 1.6 -.1-.5 -2.2-3.1 -1.8-4.5 1-3 4.4 .6 5.5 4.3 3.4 5.8 -1.8 4.8 -5.6 2.3 -7.2-1.4 -5.8-5 -2.4-6.8 2.8-5.6 6.5-.8 8.6 7 6.4 14.7 .2 18.4 -10.9 17.3 -18.9 12.6 -23.2 5.2 -20.9-2.6 -14.8-9.6 -4.7-17.1 4.3-20.8 13.8-21.2 21.9-18.1 26.2-13 26-6.1 21.8-.5 14.7 4.3 6.7 6.9 -.1 7.2 -6.3 5.4 -8.7 3.7 -8.7 2.6 -6.5 2.6 -4.3 3.5 -3.1 4.4 -3.3 4.4 -4.6 3.6 -5.5 2.9 -5.4 2.8 -4.3 4.1 -3.5 5.7 -3.7 6.3 -5.4 4.5 -7.3 .7 -7.7-3.4 -5-4 .1-1.1 4.5 4.2 4.9 8.4 .2 11.3 -5.9 11.5 -11.4 10.6 -14.1 9.3 -14.2 7.9 -12.9 5.1 -11.4 .5 -9.3-7.7 -5.8-18.9 .1-28.9 12.1-35.1 25-31.6 38-19.2 43.5-3 38.4 8.7 20 13.7 1.7 11.1 -12.7 6.7 -16.8 5.4 -13.2 7.9 -7.5 11.8 -6.9 11.7 -10.9 6.4 -14.9-1.7 -14.2-7.3 -6.1-7.8 3.1-2.9 9.7 5.4 9.3 11.7 2.6 12.6 -8.6 7.1 -15-.4 -15-6.9 -7.7-8.5 1.5-5.5 9.7-.4 10.3 1.5 5.7-.5 0-4.8 -1.9-7.3 1.6-5.8 6.4-1.4 9.2 4.1 6.6 7.4 1 8 -6.2 5.7 -9.5 2.9 -9.6 .4 -6.7 .2 -3.2 2.3 -.1 7.2 -.4 11 -3.8 13.9 -9.5 14.1 -14.3 12.4 -17.5 7.4 -17.5 1 -14.5-7.4 -8.4-15.1 -.3-19.4 11.4-19.9 19.5-17.1 24.6-12.9 24.4-9.2 20.8-7.8 14.9-8.4 11.2-9.6 9.7-10 10.5-8.3 12.2-4.8 12.3 .3 9.9 4 4.9 6.9 -.9 8.4 -5.5 8.6 -9.1 7.7 -10.6 6.6 -10.6 6.1 -9.3 6.6 -8.1 8 -7.6 9.2 -8.4 9.3 -10.2 7.5 -11.6 4 -11.5 .2 -8.6-3.3 -4.5-4.3 .7-2.8 4.4-.1 5.3 2.5 3 4.5 -.3 4.6 -3.7 3.1 -5.6-.7 -5.8-5.6 -3.1-12.6 1.4-16.8 8.6-17.8 16.3-13.4 21.4-5.4 21.7 5.3 15.7 10.7 4.2 10.5 -7.6 5.5 -13.7 .9 -12.2 .6 -6.1 4.6 -.6 10.1 -1.2 12.2 -6.5 9.5 -13.6 2.4 -15-3.5 -10.4-6.7 -2.1-5.4 5-1.3 8.6 3.8 6.3 5.1 .3 2.1 -5.1-3.5 -6.2-8.2 -1.4-10.5 5.1-9.8 10.9-8.4 13.1-7.6 12-7.4 10.1-5.4 9.5-1.1 8.9 5 6.2 10.2 .7 12.2 -7.7 10.6 -13.2 7.5 -15.1 4.8 -12.8 4.4 -8.8 5.8 -5.5 6.8 -5.6 4.2 -7.7-2.5 -8.2-10.6 -4.7-14.9 5.1-13.1 14-6.3 18.8 1.9 15.5 6.2 6.7 4.6 -4.2-.8 -7.6-4.4 -4.7-4.4 1.7-1.5 5.7 1.5 5 3.1 1.4 3.2 -2.3 3.6 -3.9 4.3 -4.1 4.3 -4.5 1.6 -5.5-3 -5-8.4 -1.4-11.6 4.4-11.2 11.7-7.6 14.5-3.7 13.3-.3 8.8 3 4.3 6.2 -.5 9.9 -4.1 11.3 -8.7 9.7 -12.6 5.3 -14.1 .5 -11.2-4.4 -5.9-7.3 .5-9.7 5.9-11.1 9.5-10.9 12.5-7.6 13.9-2.2 13.1 4.9 8.7 10.9 1.9 13.7 -7.8 13.2 -14.2 10.3 -17.2 6.1 -16 2.6 -12.3 1.4 -6.6 2.9 -2.9 5.5 -1.8 7.3 -4 6 -7.2 2.2 -9.2-2.6 -7-4.4 -1.6-3 3.7-.3 5.4 1.4 3.2 .6 0-1.4 -1.8-3.1 -.5-3.4 2-3.3 4.1-4.3 4.3-7 4.1-10.4 5.7-12.4 9.1-11.9 13.7-8.8 15.6-5.9 14.2-4.2 10.4-4 7-4.2 5-2.1 5.1 1.5 4.9 6.7 2.3 10.5 -2.6 11.6 -9.5 10.3 -13.3 8.6 -14.3 7.8 -12.5 8.2 -10.5 8.6 -9.7 7.3 -10.3 4.4 -10.5 .4 -8.8-2.9 -5-3.8 .5-2.9 3.8-2.2 4.7-3 3.5-4.9 2.7-6.6 4-6.9 6.4-6 8.4-5.2 8.5-4.8 7.4-4.5 6.2-3.4 5.9-2.2 5.4-1.9 4.1-3.6 2.6-6.8 2.5-10.5 4.9-11.4 9.3-9.2 13.3-3.7 14.3 2.2 10.3 8 3.9 9.8 -4.3 8 -10.3 3.8 -12.2-.1 -9.2-2.4 -4.1-2.4 .9-2 3-2.6 2.9-3.3 2.5-1.9 3.3 2.3 4.1 8.8 1.9 14.2 -3.6 16.2 -12.5 14.9 -18.1 12.6 -20.1 9.9 -18.3 7 -15.3 3.3 -11.6-2.5 -8.3-6.5 -2.8-7.5 3.8-4 8.5 1.5 8.9 7.2 4.3 8.4 -3.4 4.7 -9.3-2.1 -10.2-8.8 -4.6-14.4 3.6-16.1 12.5-15.4 18.3-13 20-10.2 18.7-6.3 15.9-3.7 11.8-2.4 7.4-2.7 4.3-2.9 2.9-.3 3.4 4.9 3.3 11.5 -.2 15.2 -6.9 14.2 -15.7 8.3 -19.1 2.9 -16.6-.3 -9.4 .3 -2.9 2.9 .5 6.1 -.6 7.3 -4.4 6.1 -7.8 2.1 -9.1-3 -7-9.1 -2-11.7 5.3-11.2 11.8-7.6 14.7-2.9 13.4 2.9 8.9 6.6 2.2 8.1 -4.2 6.7 -8.6 3.7 -10.1-.6 -8-3.4 -3.6-4.9 1.1-4.6 4.6-2.1 6.3 2.8 5.4 6.8 1.7 9.2 -4.1 9 -8.9 6.7 -11.8 2.8 -10.9-.2 -7.5-2.9 -3.1-4.6 .7-5.2 4.2-5.2 5.8-5.1 6.5-5.8 6.4-7.2 6.4-8.6 7.5-8.1 9.2-4.5 10.8 2.1 9.6 8.3 5 11.1 -4.3 9.5 -10.9 5.9 -13.9 2.9 -11.3 2.2 -6.8 1.9 -3.2-.5 -2.7-4.2 -2-6.8 1.1-5.3 5.7-.3 8.7 5.9 6 8.1 -1.1 6.5 -7.9 2.8 -10.1-.6 -7.3-3.9 -3-6.3 1.6-8.6 5.2-9.3 8.1-7.5 11.1-1.9 11.5 4 8.3 9.2 1.5 11.4 -5.7 9.7 -12.4 3.3 -14.2-3.5 -10.9-8.6 -3.1-8.7 5.2-4.7 11.4 1.1 10.5 2.9 4.3 1 -1.7-2.3 -3.6-3.5 -.5-1.6 3.2 1.3 4.2 3 1.6 1 -2.1-4.2 -3.8-11.8 -.6-14.8 7-12 15.3-3.8 18.6 4.6 13.4 11 3.4 11.7 -7.6 11 -13.8 11 -14.6 12 -13.4 11.8 -13.8 8.4 -15.1 2.2 -14.3-4.6 -9.9-9.1 -.9-11.9 6.4-11.9 12.1-9.4 14.9-4.3 14.7 1.4 10.7 6.4 4.6 6.7 -3.2 3.9 -8.1 .5 -8.2-.3 -3.9 1.8 -.4 4.4 .1 5.2 -2.6 3.9 -5.7 1.5 -6.5-1.2 -4.5-3.2 -1.3-5.6 1.8-7.5 4.3-7 7.6-2.3 9.4 3.1 7.9 6.9 2.2 6.2 -4.6 1.9 -9.1-3.5 -7.2-4.9 -1-3.4 4.6-1.1 6.2-1 3.6-3.6 1.2-6.1 1.7-6.4 4.9-3.6 7.8 .5 7.6 4.6 4 6.4 -1.7 6.7 -6.1 6.8 -8 6.3 -8.4 4.5 -8.4 1.7 -7.5-2.1 -5.4-5.6 -1.6-7.2 3.6-8 7.2-8.6 9.3-9.8 10-10.9 10.8-11 12.4-9.5 13.7-7.2 13.5-4.2 11.5-.2 8.6 4.3 4.3 10.9 -.2 15.8 -6.9 19.1 -14.2 19.4 -20.2 16.5 -24.3 9.4 -23.9 2.6 -19.1-3 -10.8-4.5 -2.3-1.7 4.7 3.8 5.4 7 1 7.2 -5.4 4.2 -9 .8 -8.5-2.6 -4.8-4.7 -.1-6.9 3.6-8.7 6.1-9.8 9-9.3 11.1-7.9 12.2-5.5 11.4-3.5 9.5-2.1 6.4-.8 4.1 0 2.3-.7 .8-3.8 0-8.5 1.3-13.3 5.3-13.1 11.9-7.5 16.7 1.3 15.9 8.3 7.4 12.1 -2.7 12.5 -11.6 12.7 -15.2 14.6 -15.4 16.8 -16.1 16.8 -18.5 13.4 -21.2 7.6 -20.5 1.7 -16.1-2.4 -7.8-5.6 -1.5-7.5 3.8-9.5 7.2-11.2 9.6-11.4 12.3-8.5 14-3.2 13.9 4.4 10 11.4 3.1 15.2 -7.4 15 -15 11.2 -19.1 4.1 -18.3-4.6 -13.2-12.1 -3.1-18.2 6.8-19 16.8-16 22.8-10.5 23.6-5.2 18.7-.1 12.3 2.2 5.2 3.1 -.2 3.2 -3 3 -4 2.9 -3.9 2.6 -3.7 1 -3.6-1.8 -3.1-4.7 -.7-6.5 2.7-6.1 6.3-4.2 8.2-1.8 7.4 .5 4.6 4.3 2 8.4 -1.5 13.2 -5.8 16.3 -11.1 16.8 -17.4 13.8 -20.5 9.8 -20.4 4.1 -16.7-2.1 -11.5-7.8 -3.6-13.6 3.3-16.4 11.2-16.3 17.4-13.9 20.6-11 19.9-8.1 16.9-5.9 12.9-2.6 9.8 2.3 7.1 6.4 2.1 8.4 -3.4 6.1 -8.8 1.5 -10.3-2.4 -7.1-2.6 -.6 1.7 3.2 6.3 2.6 8.8 -2.8 7 -8.4 2.3 -11.1-3.5 -8.2-5.2 -1.3-3 4.7 2.1 6.5 7.2 2.7 11.6 -3.3 12.4 -10.2 9.9 -14.7 4.9 -15.3-.3 -11.3-4.7 -5.3-6.7 1.5-8.2 6.2-10.4 8.4-12.8 10.7-12.9 13.3-9.2 16.2-1.9 15.7 5.2 10.7 8.8 .5 8.6 -7.2 6.4 -11.2 4.2 -10.5 3.4 -7.6 4.1 -4.8 5.8 -4.3 7.2 -5.3 8.4 -7.4 8.5 -9.3 7.5 -10.6 4.2 -10.5-.2 -8.7-6.2 -4.7-12 1-15.4 9.2-16.1 15.5-13.9 19.6-9.3 19.8-3.9 16.8 .5 10.3 3.8 4.2 4 -1.6 1.6 -4.8-2.4 -4.9-5.9 -1.1-7 3.5-4.9 7.9-.5 8.6 3.2 5.6 4.9 -.5 5.3 -4.3 5.4 -6.3 5.4 -6.6 4.4 -6.8 2.7 -6.5 1.4 -5.2 1.5 -3.1 2.5 -1.7 3.4 -1.9 3.6 -3.3 2.8 -4.4 1.7 -4.3 .7 -3.4 .5 -1.9 1.3 -.7 2.3 -.8 2.7 -1.8 2.4 -2.9 1.8 -3.4 1.2 -2.8-.3 -2.2-2.7 -1.2-6 .6-9.3 3.7-11.4 8.4-12.8 11.9-14 14.5-15.5 16.1-15.9 17.6-13.4 19.6-5.8 19.6 2.7 15.3 10.8 6 15.3 -4.6 17.3 -14.9 19.5 -19.4 20.7 -22 18.8 -24.5 11.7 -25.8 2.6 -22.2-6.7 -13.4-10.1 -.8-10.5 8.9-10.9 12.8-13 13.1-16.8 13.7-18.7 17-17.2 21.3-11.4 23.4-3.7 20.4 6.2 13.2 12.6 2.3 16.9 -8.7 19 -16.4 19.1 -21.8 17.6 -23.7 14.8 -23.5 9.9 -21.6 3.6 -18-2.3 -10.9-7.9 -3.5-10.3 4.3-11.7 10.2-13.3 13-15.4 14.9-17.6 16.8-16.5 19.8-11 21.8-1.7 20.3 7.8 11.7 16.2 .7 18.9 -11.9 17.3 -20.8 12.3 -23.6 7.1 -20.5 1.9 -14.6-.4 -7.5-1.4 -2-2.2 .8-4.1 1.9-9.3 2.8-14.8 6.1-18.9 12.3-18.5 19.1-13.4 24.1-3.2 22.5 5.4 14.6 12.1 2.7 14.3 -7.8 12.2 -16.2 6.8 -17.6 3 -14.1 1.5 -7.8 2.2 -3.4 3 -1.8 2.4 -2.9 2.1 -3.7 4 -2.9 8.2 -2.6 11.7 -5.8 11.5 -10.8 7.3 -14.9 0 -14-6.9 -8.1-10.9 1.8-12.7 9.2-11.2 14.3-7.1 15.6-.8 13.7 4.7 7.4 8.3 .2 7 -7 3 -10.3-.7 -8.4-1.5 -2.6-.1 1.1 .3 1.7-1 0-3.1 -.4-3.4 1.8-.9 4 2.1 3.9 3.4 .7 1.8 -3-1.5 -4.2-5.2 -1.8-6.4 2.8-5.6 6.7-3 8-.1 6.5 3.5 3.4 6.2 -.7 8.2 -4.8 8.7 -8 7.4 -10.6 2.8 -10.8-2.3 -8.2-8.1 -2.9-11.7 3.7-12.3 11.2-10.5 14.8-8.7 15-7.7 12.8-7 10.6-5.2 9.4-.5 8.6 4 5.5 7.5 .1 8.4 -5.6 7.6 -9.9 7.8 -10.3 10.2 -9.4 14.5 -9.9 17.9 -13.2 18.4 -19 14.7 -22.6 9.9 -22.3 5.5 -17.6 3.6 -11.7 4.3 -5.9 5.4 -4.6 4.2 -5.7-.2 -6.6-5.7 -4.8-10 1.5-13.4 7.8-15.7 13.3-18.9 16.9-21.4 20-21 24.2-15.6 26.8-8.2 25.3-.3 18.3 5.4 9.2 8.1 -1.5 10.7 -7 12.5 -10.8 13.5 -13.5 11.7 -15.8 7.1 -16.8-.8 -14.1-6.8 -7.1-11 1.9-12.2 9.2-10.4 14.4-5.4 15.1-.3 11.9 4.1 6 5.9 -.2 5.4 -5.9 3.9 -7.4 3.8 -6.4 5 -4.8 6.5 -4.7 6 -6.7 2 -8.2-2.5 -6.7-5.7 -1.9-4.6 3.7-.1 7.4 7 5.2 10.9 -1.5 10.9 -9.3 6.4 -13.9-.8 -13-10.1 -7-15.7 3.1-16.8 13.5-13.6 20-8.9 20.7-6 16.1-7.2 10.1-10.6 7.5-12.3 9.3-9.8 14-1.3 15.3 6.8 10.5 12.4 .4 12.8 -9.5 10.1 -16.1 8.2 -15.6 9.6 -11.9 13 -10.2 15 -12.4 14.1 -16.9 10.5 -18.7 7.1 -16.9 3.7 -12.5-.2 -8.4-4.6 -3.7-10 .7-12.4 7.1-11.1 13-6.6 15.5-1.9 13 1.6 7.5 1.8 1.3 .1 -2.1-2.7 -2.2-5.4 .6-8 3.7-8.1 7.4-5.2 10 .7 10 6.3 5.3 10.5 -1.7 11.5 -9 11.4 -13.3 11.4 -14.3 10.3 -14.2 6.1 -14.1 .4 -12.1-5.7 -6.8-9.5 .3-11 8.4-11.5 12.1-12.1 13.7-12.1 14.5-11.2 15-9.6 15-7.5 13.7-6.2 11.5-5 9.1-3.9 7.5-2.9 6-.9 4.8 1.4 3.1 5.3 .9 9.3 -2.2 11.8 -7.5 11.5 -12.1 8.3 -14.9 3.8 -13.9 .5 -9.8 0 -3.6 2.3 -.4 4.2 -.4 3.9 -3.2 1.2 -5.4-1.7 -4.4-2.1 -1 .3 2.4 3.9 2.5 5.8 -.9 4.7 -5.7 .8 -7.1-2.8 -5.2-5.8 -.5-7.1 4-6.6 7.8-4.4 8.8-1.3 7.9 2.9 5.1 6.8 1.1 8.5 -4.7 7.6 -8.8 4 -10.7-1.1 -8.9-5.3 -4.4-6.6 2.5-4.5 7-.2 8 5.1 5.1 9.1 -.5 10 -7.5 7.1 -11.6 1.7 -12.2-5.8 -8.1-12.3 -1.2-15.8 9-15.8 16-13.1 19.9-9.1 19.3-5.1 15.9-1.7 10.3 2.8 5.9 6.7 1.1 10.3 -4 11.3 -9 9.9 -13.3 7.1 -14 5.8 -11.7 6 -8.6 6.7 -7.1 7.1 -7.5 6.7 -8.5 5.7 -8.8 3.7 -8.2 .8 -6.9-2.1 -4.1-4.6 -.5-5.6 3.3-6.8 5.9-9.2 7.1-12.1 8.8-13.6 11.8-10.7 15.7-3.9 16.6 3.1 12.8 5.4 2.9 1.3 -4.5-5.2 -6.3-9.8 -.7-8 7.4-1.4 12.6 7.6 9.3 11.5 -.5 10.3 -10.3 6.6 -14.4 4 -12.1 3.8 -7.7 4.1 -4.8 2.8 -4.7-.6 -5.2-3.9 -2.8-6.1 1.3-6.6 5.5-6.8 7.7-7 8.2-7.1 8.4-6.7 8.7-5.8 8.9-4.1 8.2-1.3 7 2.1 4.6 6.6 1.2 8.8 -3.7 8.1 -8.5 4.3 -11.1-.8 -9.6-6 -4.7-7.8 2.4-7.3 7.9-5.9 9.8-5.1 8.6-4.1 7.2-.7 6.3 6.2 4.7 14.9 .3 20.5 -9.9 21.6 -19.4 17.8 -26.3 11.8 -26.4 5.5 -21.5 .5 -13-5.5 -6.2-9.1 .8-10.5 7.4-8.2 11.7-4.2 12.9 .4 9.7 2 4.1 1.1 -.8-1.3 -2.5-3.9 -1-5.8 2-5.5 5.4-4.4 7.2-3.6 6.8-4.8 5.1-8 4.6-10.7 6.6-11.5 10.4-9.1 13.5-4.4 14.1 3.2 10.8 9.2 3.9 13.7 -4.9 14.7 -12.2 12.6 -17.8 8.5 -18.1 5.7 -14.8 4.6 -10 4.2 -6.9 3.3 -5.5 .4 -5.2-2.8 -3.6-5.4 0-6 3.9-4.1 7.2 .2 7.2 3.5 4.2 5.7 -.6 6 -4.8 5.7 -7.3 5.4 -7.5 4.8 -7 2.1 -6.8-2.2 -5.7-5.8 -1.7-7.8 3.3-7.4 7.9-6.4 9.7-5.7 9.1-5.3 7.7-3.9 7.1-2.2 6.3-1.3 4.6-2.1 2.6-4.4 1.5-7.9 2.8-10.2 6.3-11 10.2-8.9 13-4.6 13.5 1.1 10.5 3.8 4.4 3.9 -1.9 2.6 -4.9 3 -4.5 5.8 -3.3 8.3 -4.2 8.6 -7.6 6.4 -10.5 3.9 -10.5 2.7 -7.6 3.9 -4.3 5.4 -3.5 5.6 -5 4 -7 .7 -6.9-2.3 -4.3-5.1 -.4-7.4 3.2-8.6 7.1-8.3 9.4-6.8 10.7-3.5 10.2 .4 8.1 3.7 3.5 6.4 -1 7.5 -5.3 8.3 -8.2 10.1 -9.4 12.3 -10.7 14.4 -12.8 13.8 -15.9 10.2 -17.9 5.5 -16.9 2.3 -11.6 1.9 -6.2 3.7 -2.5 4.9 -2.7 2.9 -4.8-1.6 -6-7.8 -3.1-11.2 3.4-12.4 10.3-12.4 14.2-12.2 15.6-11.8 15.3-10.3 15.2-7.2 14.4-4.2 12.5-3.2 8.2-5 4.9-6.6 4.3-6 6.4-2.1 8.4 1.9 6.8 4.1 2.1 3.4 -3.2 2.2 -5.1 2.8 -4 5.2 -2.6 9 -3.7 10.9 -7.4 10.7 -11.5 7.8 -13.7 3.6 -12.8-1.9 -9.2-5.1 -3.3-6.1 2.9-4.5 6.7-1.8 7.5 1.2 5.3 2.3 1.4 2.3 -1.7 2.1 -2.9 2.6 -2.9 4.2 -2.6 5.5 -3.5 5.4 -5.4 3.4 -6.9 .5 -6.6-2.8 -3.8-4.6 .2-6.2 3.7-7.5 6-8.2 8.1-7.8 9.4-6.6 10.2-5.3 9.6-5.2 8-6 6.4-7.7 6.5-7.8 7.9-5.2 9.6 .1 9.6 5.7 5.5 10.8 -.9 12.1 -8.4 11.2 -13.8 10.1 -15 10 -13.7 10.9 -12.4 11.2 -12.6 10 -13.7 7.4 -13.9 3.8 -12-.9 -8.6-4.3 -3.7-6.8 1.6-8 5.8-8.8 8.8-9.8 10.1-9.6 11.2-7.1 12.2-3.3 11.7-1 8-1.7 3.7-4.7 1.1-7.8 2.5-8.7 6.4-6.8 10.2-3 10.6-.3 7.8 .3 3.2-2 .1-4.8 -.2-5 2.9-.2 6.5 8.6 5.7 17.2 -.6 21.8 -13.1 21.6 -22.3 17.5 -27.4 10.4 -26.4 2 -21.1-4.5 -10.9-9.1 -1.5-9.7 7-8.4 11.5-6.8 11.9-5.1 10.1-2.7 8.2-.8 5.9 .2 3-.9 .7-2.7 -.1-4.1 1.3-3.2 3.8-.3 5 2.7 3.8 3.8 -.4 1.5 -3.6-2.7 -4.5-7.1 -1.4-8.5 4-6.3 9.6-1.4 10.4 2.3 6.9 4.6 1.1 5.7 -3.2 7.1 -6.1 9.4 -7.3 11 -9.3 10.9 -12 8.8 -13.8 6.2 -13.2 3.5 -10.6 1.8 -7.1-.7 -4.1-4.9 -2-10.3 1.7-17.2 6.8-20.9 14.4-20.3 22-13.2 26.4-2.5 24.2 11.1 15.2 17.5 -.2 16.8 -14.9 9.4 -22.3 .5 -19.8-7 -10.4-8.4 1.4-5.3 9.1-.5 10.4 3 5.5 3.1 0-.4 -4.1-5.8 -3.5-9.8 1.1-9.5 8.6-4.1 12.3 1.7 10.9 6 4.3 6.4 -2.8 3.3 -8.2-1.7 -7.6-4.8 -3.1-5.7 2.7-3.5 6.3 .4 6.9 6 3.9 10 -1.7 12.3 -8.1 11.6 -12.9 8.5 -15.5 2.7 -14.1-1.9 -9.4-5.3 -2.7-6.2 3-4.5 7.2-.6 7.5 3.5 4.9 7.1 .1 8.3 -4.9 7.2 -9.4 3.5 -10.4-.2 -8.2-4 -3.9-7.2 .8-8.8 5.9-9 9.2-7.4 11.2-3.7 11 1 8.9 5.3 3.6 8.6 -1.9 8.5 -7.6 5.3 -10.8 .9 -10.3-2.4 -5.7-4.3 -.5-4.5 3.6-4.4 5.4-5 5.5-5.7 5.6-5.7 6.3-4.9 7.2-2.8 7 0 5.9 2.9 2.9 5.2 -.5 5 -4.3 3 -6.5 .2 -6.1-1.6 -3-2.6 .1-3.3 2.3-4.3 3.3-4.9 4.2-3.8 5.6-.6 6 2.6 4.2 5.4 .3 6.9 -3.8 7.6 -7.2 8.8 -8.6 9.4 -9.8 8.7 -11 6.1 -11.8 2.9 -10.4-.4 -7.1-1.7 -2.7-2.2 .7-3.2 2.2-4.7 2.9-7 4.1-7.9 6.5-7.9 8.8-7.6 9.9-7.7 9.8-7.3 9.4-5.6 9.5-1.2 9 4.8 6.5 10.1 .3 14 -6.8 13.8 -13.8 10.5 -17.4 5.2 -17-.2 -12-5.4 -5.7-7.9 1.6-7.9 7.2-6.1 9.9-3.8 9.6-1.9 7.3-1.9 4.2-3.6 2.3-6.3 2.5-9.1 4.9-10.3 8.3-7.6 11.8-1 12.6 6.9 9 10.9 -.8 9.1 -9.4 4 -13.7-.2 -10.6 0 -4.3 3.5 .9 7 -.4 6.5 -5.4 2.5 -8.8-2.3 -7.8-4.7 -1.8-4.3 3.4-2.6 5.9-2.1 5.1-3.3 3.1-4.3 2.7-3 4.2 1.2 5.4 7.2 3.3 11.7 -2.2 13.3 -10.4 12 -15 9.3 -16.4 5.5 -14.6 1.5 -11.2-1.3 -5.8-1.7 -1.3 0 1.9 1.5 2 0 -.3-4.7 -2-11.5 .5-14.4 7.4-13 14.9-8.2 18.1-4.1 15.2-3.1 9.5-5.1 4.6-7.5 4-6.7 6.8-2.8 9.5 3.6 8 7.5 2.1 8.8 -5.2 8.7 -9.6 8.8 -11.1 9.7 -10.8 9.9 -11.1 8.3 -12.1 5.3 -12.2 2.2 -9.7-1.1 -6.2-3.9 -2-7 1.8-9 5.2-9.3 9.3-7.1 11.5-5.1 11.1-5 8.5-7.5 6.2-10 6.5-9 9.8-3.5 12.5 5 10.6 11.8 3.5 13.7 -8.3 9.9 -15.3 4 -16.6-2.2 -11.5-6.3 -4.1-7.4 4-5.1 8.2-.8 9 4.6 5.8 7.7 .3 7.5 -6.8 3.7 -9.9 .4 -8.5-.9 -4.1 .7 -.2 3.6 1.1 5.7 -1.3 4.9 -5.1 .8 -7.1-4.2 -5.8-7.2 .2-7.3 5.8-5.4 9.2-4 8.9-3.9 6.5-4.4 4.7-2.8 5 .6 5.3 4.8 3.1 7.3 -1.3 6.5 -6.9 3 -9.1 .2 -7.5-.8 -3.3 .4 .1 1.9 1 2.3 -.7 1.7 -2.6 1.4 -2.8 1.8 -2 1.5 -1.8-1.9 -2.3-6.5 -1.4-10.3 3-10.7 8.7-8.4 13.4-5.7 13.1-5.1 9.7-5.8 6.9-5.4 6.5-2.8 7.3 2.7 6.4 7.9 2.4 13.7 -4.1 18.9 -10.6 23 -18.3 24.9 -24.2 22 -29.3 14.3 -30.7 4.2 -26.8-3.7 -15.4-9.1 -3.9-10.5 6.1-11.1 11.6-11.9 13.2-12.7 13.9-12.3 14.9-10.9 15.8-7.8 15.3-4 13.1-.4 8.9 2.5 4.5 1.9 -.4-1.8 -3.1-6.6 -2.2-8.4 3.5-5.3 8.6 .3 10.1 5.8 5.9 8.7 -1.1 8.7 -8.4 7.4 -10.9 6.2 -10.6 5.6 -8.9 6.3 -7.6 7.6 -7 9.4 -8 9.6 -9.9 7.6 -11.8 3.6 -11.8-1.1 -8.7-7.3 -3.9-11.4 2.8-13.8 9.7-12.8 14.7-9.5 17.3-4.5 15.6-1.9 10.6-.5 5.2 .8 2.1 3.5 .4 7.9 -1.3 9.6 -5.3 7.6 -10.2 1.9 -12.1-3 -8.3-5.5 -1.6-4.5 4.6-2.1 6.9-.1 5.3 .7 2 .4 0-1.5 -1.1-5.2 -.3-8.3 2.3-8.4 7.4-4 10.5 1.4 9.8 6.3 4.3 8.5 -2.5 7.8 -8.8 4.8 -10.6 1.2 -9.2-3.1 -5.4-6.5 -.9-8.3 4.8-9.3 8.3-9.6 10.7-8.5 11.7-5.4 11.8-.7 10.1 5.2 6.1 8.2 -.5 9.1 -7 8.7 -10.5 8.5 -11.3 8.9 -10.7 8.8 -10.6 6.5 -11.1 1 -10.9-5.9 -7.1-13.2 -.3-15.1 9.2-11.7 16.8-4.6 18.8 1.7 13.2 5 4.6 3.2 -3.3-1.5 -6.1-4.9 -3.4-4.2 2.9 2.1 6.3 8.4 4.1 10.7 -3.6 6.2 -11.1-1 -13-6.6 -6.8-5.4 3-.5 8.3 3.1 6.2 2.9 -.6 .2 -4.1-.8 -3 .7 0 4 1 6.8 -1.6 7.9 -5.4 6.9 -8.8 4.2 -9.9 1 -8.3-.7 -4.4-.3 -.9 1.7 1 3.7 .1 3.3 -2.4-.2 -4.8-7 -3.9-12.4 1.7-15.1" fill="none" stroke="#0072BD" stroke-width="1.6" stroke-linejoin="round" stroke-linecap="round"/>
<rect x="48.2" y="671.9" width="266.5" height="214.1" fill="none" stroke="#262626" stroke-width="2.0"/>
<path d="M58.7 886.0v-3.6M58.7 671.9v3.6M117.8 886.0v-3.6M117.8 671.9v3.6M176.8 886.0v-3.6M176.8 671.9v3.6M235.9 886.0v-3.6M235.9 671.9v3.6M294.9 886.0v-3.6M294.9 671.9v3.6M48.2 684.0h3.6M314.7 684.0h-3.6M48.2 731.5h3.6M314.7 731.5h-3.6M48.2 779.0h3.6M314.7 779.0h-3.6M48.2 826.5h3.6M314.7 826.5h-3.6M48.2 874.0h3.6M314.7 874.0h-3.6" stroke="#262626" stroke-width="1.5" fill="none"/>
<g font-family="'Liberation Sans', Arial, Helvetica, sans-serif" font-size="12.69" fill="#262626">
<text transform="translate(58.7 904.6) scale(1.04 1)" text-anchor="middle">-0.2</text>
<text transform="translate(117.8 904.6) scale(1.04 1)" text-anchor="middle">-0.1</text>
<text transform="translate(176.8 904.6) scale(1.04 1)" text-anchor="middle">0</text>
<text transform="translate(235.9 904.6) scale(1.04 1)" text-anchor="middle">0.1</text>
<text transform="translate(294.9 904.6) scale(1.04 1)" text-anchor="middle">0.2</text>
<text transform="translate(42.4 689.1) scale(1.04 1)" text-anchor="end">0.2</text>
<text transform="translate(42.4 736.6) scale(1.04 1)" text-anchor="end">0.1</text>
<text transform="translate(42.4 784.1) scale(1.04 1)" text-anchor="end">0</text>
<text transform="translate(42.4 831.6) scale(1.04 1)" text-anchor="end">-0.1</text>
<text transform="translate(42.4 879.1) scale(1.04 1)" text-anchor="end">-0.2</text>
</g>
<g font-family="'Liberation Sans', Arial, Helvetica, sans-serif" font-size="14.66" fill="#262626">
<text transform="translate(180.9 923.3) scale(1.022 1)" font-size="14.66" text-anchor="middle">x(t)</text>
<text transform="translate(11.0 779.2) scale(1.02 1) rotate(-90)" text-anchor="middle">x(t+4)</text>
</g>
<g font-family="'Liberation Serif', 'Times New Roman', Times, serif" font-weight="bold" font-size="17.0">
<text x="30.0" y="950.7" font-size="18" fill="#0a0a0a">(e)</text>
<text x="60.0" y="950.7" textLength="253.6" lengthAdjust="spacingAndGlyphs"><tspan fill="#ff0000">Phase diagram after</tspan><tspan fill="#0a0a0a"> MEEMD-LMS</tspan></text>
</g>
</g>
<g id="panel-f">
<clipPath id="clip-f"><rect x="411.9" y="670.0" width="271.8" height="214.3"/></clipPath>
<path clip-path="url(#clip-f)" d="M523.3 781.3l7.7-5.4 7.7-4.9 7.3-4.2 6.8-3.4 6.2-2.5 5.1-1.5 4.1-.8 3-.1 1.8 .1 .9 .1 0-.5 -.2-1.3 .1-2.4 .7-3.4 1.8-4 3.3-4.2 4.4-3.5 5.2-2 5.2 .5 4.4 3 1.9 6.4 -.9 9 -4.6 11.2 -8.5 12.6 -11.7 12.8 -14.7 11.7 -16 9.9 -16.1 7.2 -14.7 3.9 -12.2 1.1 -8.3-1.9 -4.6-3.6 -.6-4.8 2.7-4.8 4.8-4.2 6.1-2.8 6.1-1.3 5 .4 3.3 1.8 1.5 2.8 -.9 3.5 -2.4 3.7 -3.8 3.3 -4.5 2.7 -4.6 1.9 -4.1 .7 -3.4-.4 -2.1-1.7 -.7-2.7 .7-3.6 2.4-4.4 3.5-4.7 4.8-4.8 5.6-4.6 6-4.3 6.1-3.7 5.8-3.3 5.3-3 4.7-3 4.1-3.2 3.8-3.7 3.8-4.1 4.2-4.4 4.7-4.3 5.2-3.8 5.6-2.5 5.4-1.1 4.6 1 3 3.1 1.2 5 -1.8 7 -4.2 8 -6.9 8.6 -9 8.4 -10.3 7.8 -10.9 6.5 -10.6 5.2 -9.6 3.7 -8 2.5 -6.4 1.7 -4.5 .9 -3 .6 -1.9 .4 -1.1 .4 -.7 .2 -.6-.1 -.4-.6 -.2-1.5 .2-2.4 .9-3.5 2-5 3.2-6.1 4.8-7.1 6.5-8 7.9-8.1 9.3-8 10.1-7.4 10.3-6.3 10.1-5 9.2-4 7.7-2.9 6.2-2.5 4.8-2.2 3.6-2.4 3.1-2.4 2.8-2.1 3-1.3 3 .4 2.6 2.8 1.5 5.5 -1 9 -3.9 11.7 -7.8 14.1 -11.8 15.5 -15.2 15.6 -18.4 14.4 -19.7 12.2 -19.6 8.8 -17.9 5 -15.1 1.4 -10.3-2.7 -5.8-5.3 -.8-7.2 3.8-8.1 7.1-7.7 9.5-6.4 10.2-4.5 9.6-2.4 7.8-.1 5.5 1.4 2.4 2.8 -.1 3.1 -2.2 2.7 -3.6 1.7 -3.9 .3 -3.3-1.8 -1.9-3.4 .1-5.3 2.4-6.6 4.7-7.5 7-7.9 8.6-7.5 9.6-6.8 9.9-5.5 9.6-4.1 8.3-2.2 6.7-.6 4.8 .9 2.6 2.2 .6 3.2 -1.5 4.2 -3 4.6 -4.3 5 -5.3 5.2 -6 5.2 -6.4 4.7 -6.6 4.1 -6.5 3 -5.9 1.6 -5.1-.1 -3.5-2.1 -1.7-3.8 .5-5.2 3-6.2 5-6.3 6.9-5.6 7.8-4.3 8-2.3 6.9 .2 5.3 2.4 2.3 4.9 -.5 6.4 -3.7 7.6 -6.4 7.8 -8.4 7.4 -9.8 6.1 -9.9 4.4 -9.1 2.3 -7.5 0 -5.3-1.8 -2.4-3.9 .3-4.9 2.8-5.6 5.1-5.5 6.4-5 7.1-3.7 7-2.2 6-.4 4.5 1.3 2.5 2.8 .1 4.2 -1.9 4.8 -3.8 5.2 -5.4 4.9 -6.3 4.3 -6.6 3 -6.1 1.5 -5.2-.2 -3.6-2.3 -1.7-3.9 .8-5.9 3.1-7.2 5.5-8 7.6-8.3 9.2-8 10.4-6.9 10.5-5.5 10-3.4 8.6-1 6.6 1.1 3.7 3.6 1 5.3 -2 6.7 -4.8 7.5 -6.9 7.7 -8.8 7.4 -9.5 7 -9.8 6.2 -9.3 5.4 -8.7 4.9 -7.7 4.4 -6.8 4.1 -6.1 3.8 -5.5 3.3 -5.2 2.7 -4.6 1.7 -4.2 .5 -3.2-1 -2-2.7 -.5-4.4 1.7-6.2 3.7-7.5 6-8.6 8-9.2 9.7-9.3 11.1-8.7 11.7-7.8 11.7-6.1 11-4.2 9.6-2.1 7.3 .2 5 2.1 2.2 3.6 -.6 4.5 -2.8 4.8 -4.9 4.4 -5.8 3.6 -6 2.3 -5.5 .9 -4.4-.3 -2.6-1.5 -1-2.3 .7-2.7 2.1-2.8 3-2.6 3.4-2.2 3.5-1.8 3.3-1.3 2.7-1.1 2.2-.7 1.6-.5 1.3-.3 .9 .2 .6 .8 .2 1.5 -.3 2.6 -1 3.8 -2.2 5.1 -3.5 6.1 -5 7 -6.7 7.5 -8 7.3 -8.9 6.7 -9.5 5.5 -9.2 4.1 -8.3 2.2 -6.8 .5 -4.8-1.2 -2.5-2.5 -.4-3.5 1.9-4.2 3.3-4.4 4.7-4.4 5.3-4.3 5.6-4.2 5.6-4.1 5.4-4.1 5.3-4.2 5.2-4.4 5.2-4.4 5.4-4.4 5.5-4.1 5.7-3.4 5.5-2.6 5.1-1.6 4.2-.4 3.1 .6 1.8 1.5 .3 2.2 -.9 2.5 -2.1 2.5 -2.8 2.5 -3.2 2.4 -3.2 2.3 -3.2 2.5 -2.9 3 -3 3.5 -3.3 4.4 -3.8 5.1 -4.6 5.7 -5.7 5.9 -6.6 5.9 -7.3 5.3 -7.5 4.3 -7.4 3.3 -6.5 1.6 -5.4 .3 -3.7-1 -1.9-2.2 -.3-2.9 1.7-3.6 2.8-3.9 3.9-4.1 4.6-4.2 5-4.3 5.3-4.3 5.3-4.1 5.5-3.8 5.4-3.2 5.2-2.3 4.7-.7 3.9 .7 2.5 2.4 .8 4.1 -1.1 5.2 -3.6 5.8 -5.3 5.7 -6.8 4.5 -7.4 2.7 -7.1 .4 -5.3-2.6 -3.1-5.1 .1-7.6 3.6-9.5 6.9-10.6 10.2-11.1 12.2-10.7 13.6-9.7 14.1-8.1 13.5-6.2 12-3.5 9.9-1 7.3 1.9 4.1 5 .9 7.8 -3.2 10.9 -6.8 13 -10.5 14.8 -14.1 15.7 -16.8 15.8 -19.1 14.7 -20 13.1 -19.9 10.6 -18.5 7.6 -16.3 4.7 -12.6 1.5 -9.3-1.1 -5.2-3.4 -1.4-5.3 1.7-6.5 4.8-7.7 6.9-8.2 8.5-8.8 9.8-9 10.6-9.2 11.2-9.2 11.4-9 11.7-8.8 11.6-8.4 11.5-8 11-7.3 10.6-6.8 9.9-6.2 9.3-5.4 8.5-4.7 7.6-3.4 6.8-2.2 5.7-.4 4.2 1.5 2.6 3.7 .1 6.2 -2.3 8.2 -5.2 10.1 -8.2 11.5 -10.7 12 -13.2 11.7 -14.7 10.7 -15.2 8.6 -14.8 6 -13.3 3.1 -10.3-.5 -7.2-3.3 -3.2-6.1 1.1-8 4.6-8.9 8.3-9.1 10.3-8.1 11.5-6.5 11.3-4.3 10.2-2.1 7.8 .7 5.1 2.5 1.9 4.1 -1 5.1 -3.5 5.4 -5.5 5.2 -6.5 4.7 -6.9 4.1 -6.5 3.3 -5.9 3 -4.9 2.7 -4.3 2.7 -3.6 2.9 -3.4 3.1 -3.5 3.2 -3.7 3 -4 2.5 -4 1.7 -3.7 .5 -3.2-.8 -1.8-2.4 -.5-3.7 1.3-5.2 3.3-6.4 4.9-7.2 6.9-7.8 8.2-8 9.3-7.7 10-6.9 10.1-5.8 9.6-4.1 8.6-2.3 7.1-.5 4.9 1.4 2.7 2.9 .1 3.9 -2 4.3 -3.9 4.1 -5.1 3.3 -5.5 2.1 -5 .3 -4-1.1 -2.3-2.7 -.2-3.7 1.6-4.3 3.7-4.2 4.8-3.5 5.5-2.2 5.2-.6 4.4 1.3 2.5 3.4 .4 5.1 -2.1 6.3 -4.6 6.9 -6.6 7 -8.2 6.1 -8.9 4.7 -8.7 2.8 -7.5 .4 -5.8-1.6 -2.9-3.8 -.4-5.4 2.6-6.3 5.2-6.5 6.9-5.9 8.2-4.2 8.1-2.3 7.2 .4 5.1 3.2 2.6 5.6 -1.2 8 -4.4 9.4 -7.7 9.9 -10.4 9.7 -12 8.7 -12.6 7 -12.2 5.1 -10.7 3.1 -8.6 1 -6.2-.7 -3.3-2.3 -1-3.5 1.2-4.5 3.1-5.6 4.5-6.3 6.1-7.3 7.1-7.9 8.3-8.4 9.3-8.5 10.1-8.3 10.7-7.5 10.8-6.3 10.4-4.5 9.3-2.2 7.8 0 5.1 2.8 2.6 5.1 -.6 7.3 -4 9.2 -6.7 10.4 -9.9 11.1 -11.8 11.1 -13.3 10.6 -14.1 9.4 -14.1 8.1 -13.2 6 -11.8 4.1 -9.7 2 -7.4 .1 -4.9-1.6 -2.1-3.2 .2-4.3 2.4-5 4.3-5.5 5.5-5.6 6.5-5.6 6.9-5.5 7.2-5.5 7.1-5.5 6.9-5.6 7-6 7-6.3 7.2-6.5 7.6-6.5 7.9-6.4 8.3-5.7 8.4-4.8 7.9-3.4 7.2-1.6 5.8 0 3.9 1.8 1.9 3.2 -.4 4.3 -2.6 4.9 -4.3 5 -5.6 4.5 -6.2 3.8 -6.3 2.9 -5.6 1.8 -4.8 1 -3.3 .1 -2.2-.4 -1-.6 -.1-.7 .6-.5 .8 0 .8 .3 .6 .8 0 1.3 -.5 1.6 -1.1 2 -1.7 2.1 -2.2 2.1 -2.5 2.1 -2.7 1.8 -2.7 1.6 -2.5 1.4 -2.3 1.3 -2 1.2 -1.8 1.3 -1.5 1.6 -1.6 1.8 -1.7 2.3 -2 2.6 -2.4 2.9 -3 2.8 -3.4 2.5 -3.6 2 -3.5 1.2 -3.2 .4 -2.4-.9 -1.4-1.8 -.1-2.8 1.2-3.5 2.4-4 3.7-4.3 4.6-4.4 5.1-4.2 5.5-4 5.5-3.7 5.4-3.1 5-2.6 4.5-1.9 3.9-1.2 3.3-.4 2.2 .5 1.4 1.2 .3 1.8 -.7 2.2 -1.7 2.1 -2.4 1.5 -2.7 .7 -2.6-.7 -1.9-2.3 -.7-3.8 1.3-5.4 3.1-6.3 5.2-6.7 7-6.4 8-5.6 8.6-3.8 8-2 6.7 .2 4.6 2.4 2.3 4.3 -.8 6.2 -3.4 7.3 -5.8 8.3 -8 8.9 -9.5 9.1 -10.7 8.9 -11.3 8.5 -11.6 7.7 -11.2 6.3 -10.7 4.9 -9.4 2.8 -7.9 .7 -5.7-1.5 -3.2-3.5 -.7-5.2 2.4-6.7 4.8-7.3 7-7.4 8.6-7 9.3-6.2 9.3-4.8 8.8-3.6 7.5-2.1 6-.8 4.3 .2 2.4 1.3 .9 1.8 -.6 2.1 -1.7 2.2 -2.4 2 -2.7 1.4 -2.8 .8 -2.3 .1 -1.8-.6 -.9-1.2 .1-1.5 .8-1.7 1.6-1.4 2-1 2-.4 1.8 .4 1.2 1 .3 1.7 -.6 2.1 -1.4 2.2 -2.2 2.2 -2.7 1.7 -2.9 1.2 -2.6 .2 -2.2-.7 -1.3-1.9 -.1-2.7 1.1-3.5 2.5-3.8 3.6-3.7 4.6-3.2 4.8-2.2 4.7-.9 3.8 .3 2.7 1.5 .9 2.6 -.7 3 -2.1 3.2 -3.4 2.9 -3.9 2.3 -4 1.5 -3.6 .6 -2.8-.2 -1.7-.9 -.7-1.4 .5-1.6 1.2-1.7 1.9-1.3 2.1-.7 2 .1 1.6 1.3 .7 2.4 -.4 3.6 -1.8 4.8 -3.2 5.5 -4.8 6.3 -6.2 6.6 -7.2 6.6 -8 6.5 -8.4 6.2 -8.4 5.7 -8.2 5.1 -7.7 4.2 -7.1 3.2 -6.4 2 -5.1 0 -3.9-1.7 -2.1-4.1 .2-6.5 2.5-8.6 5.8-10.6 8.5-11.9 11.4-12.4 13.7-12.3 15.2-11.2 15.8-9.2 15.4-7 13.8-4.2 11.3-1.5 8.6 .8 4.7 3.1 1.5 4.4 -1.6 5.4 -4.1 5.7 -5.8 5.5 -6.9 5.2 -7.2 4.7 -7.1 4.3 -6.5 3.7 -5.9 3.5 -5.2 3.1 -4.7 2.8 -4.3 2.3 -3.9 1.8 -3.5 1.2 -2.8 .4 -2.2-.1 -1.4-.7 -.4-1 .3-1 .9-.8 1.3-.5 1.2 .1 1 .4 .5 .8 -.1 .9 -.7 .7 -1 .5 -1.1 .1 -.9-.4 -.5-.9 0-1.3 .6-1.6 1.2-1.9 1.6-2.2 2.1-2.6 2.4-3 2.9-3.6 3.4-4.1 3.9-4.3 4.7-4.3 5.2-4 5.5-3 5.5-1.6 4.9-.2 3.5 1.7 1.9 3 -.2 4.3 -2.3 5 -4.1 5 -5.7 4.4 -6.3 3.5 -6.2 2.2 -5.5 1 -4.3-.1 -2.5-1.1 -1.1-1.6 .4-1.6 1.5-1.4 2-1 2.1-.1 1.7 .6 1 1.4 .1 2 -.9 2.6 -1.9 2.8 -2.7 3 -3.3 2.9 -3.7 2.7 -3.7 2.5 -3.6 2.2 -3.4 1.9 -3.2 1.4 -2.7 .9 -2.4 .2 -1.7-.9 -1-1.9 0-3.1 1.3-4.2 2.6-4.9 4.2-5.3 5.4-5.1 6.3-4.3 6.7-3 6.4-1.7 5.2 .3 3.7 1.7 1.6 3 -.5 3.7 -2.4 3.9 -4 3.5 -4.8 2.6 -4.9 1.5 -4.2 .1 -3.3-1.3 -1.5-2.7 .1-3.9 1.9-5.1 3.7-6.1 5.1-6.8 6.6-7.7 7.9-8 8.9-8.2 9.7-7.9 10.2-7.3 10.4-5.8 10-4.1 8.9-1.8 7.2 1 4.9 3.6 1.6 6.9 -1.6 9.6 -5.3 12 -9.2 14 -12.4 15.1 -15.9 15.4 -17.9 14.8 -19.3 13.1 -19.4 10.4 -18.7 7.3 -16 2.6 -12.8-1.5 -8.2-6.3 -2.8-10.8 2.5-14.4 9.2-18.1 14.2-20 19.3-21.1 23.1-20.8 25.6-19.6 26.8-16.8 26.4-13.4 24.2-9.1 20.8-4.1 16.6 .4 10.3 6.1 4.6 10.3 -1.9 14.4 -8.3 17.7 -13.6 19.8 -19.2 21 -22.8 21 -25.4 19.9 -26.8 17.5 -26.5 14.7 -24.7 10.2 -21.9 6 -17.6 1.1 -12.4-3.9 -7.1-8.2 -.1-13.1 5.6-16.2 11.6-18.9 17-20.5 21-20.9 24.5-19.9 26.1-18 26.4-14.9 25-10.9 22.5-6.7 18-1.2 13.2 3.4 7.3 8.2 .8 12.5 -4.9 15.5 -11.6 18.3 -16.3 19.3 -20.4 19.4 -23.4 18.1 -24.5 16.1 -24.4 12.4 -22.8 8.8 -19.6 4.3 -15.2-.4 -10.6-4.3 -4.3-8.6 1-11.5 6.6-13.5 11.3-14.6 14.9-14.5 17.6-13.2 18.5-11.1 18.2-8.3 16.4-4.9 13.8-1.8 9.7 1.9 5.8 4.6 1.3 6.8 -2.8 8.4 -6.1 9 -9.1 8.9 -10.8 8.2 -11.4 7.1 -11.2 5.6 -10.4 4.4 -8.6 3 -6.9 2.1 -5.2 1.5 -3.7 1.1 -2.6 .8 -1.8 .5 -1.3 0 -.9-.6 -.6-1.3 0-2.2 1-3 1.8-3.5 2.9-3.8 4-3.6 4.5-3 4.8-1.8 4.4-.8 3.6 .5 2.2 1.8 .8 2.7 -1 3.4 -2.4 3.7 -3.6 3.7 -4.4 3.3 -4.7 2.8 -4.6 2.1 -4.1 1.6 -3.4 1 -2.6 .6 -1.9 .3 -1.2-.1 -.7-.2 -.3-.7 .1-1.3 .4-2 1-3 1.7-4.1 2.7-5 4-6.1 5.3-6.5 6.7-6.8 7.7-6.6 8.4-5.8 8.6-4.7 8.2-3.5 7.2-2 5.8-1 4.1 0 2.4 .6 1.1 .8 -.2 .8 -.8 .7 -1 .7 -1 .9 -.9 1.5 -.9 2.6 -1.3 3.7 -2.1 5.2 -3.4 6.5 -4.9 7.4 -6.9 8.2 -8.4 8.4 -9.6 8 -10.5 7.4 -10.6 6.4 -10 5 -9.2 3.9 -7.8 2.7 -6.3 1.4 -4.7 .4 -3.1-.8 -1.7-1.8 -.2-2.9 1.2-4.1 2.4-5 4-6.2 5.3-6.9 6.6-7.7 7.9-8.3 9-8.6 9.9-8.7 10.6-8.4 10.9-7.6 11-6.5 10.6-4.9 9.4-2.4 8 .2 5.7 3.3 2.6 6.4 -.5 9.2 -5 11.8 -8.5 13.3 -12.3 13.9 -15.3 13.3 -17 11.7 -17.6 8.6 -16.7 5.5 -14.2 1.7 -10.5-2.1 -6.5-5 -1.1-7.7 3-9 7.1-9.3 10-8.6 11.5-7.3 11.7-4.9 10.8-3 8.7-.6 6 1.4 3.4 2.9 .3 4.1 -2 4.8 -4 5.1 -5.4 5.1 -6.1 4.8 -6.5 4.4 -6.4 3.8 -6 3.1 -5.5 2.1 -4.8 1.1 -3.6-.2 -2.6-1.5 -1.1-3.1 .5-4.6 2.1-5.9 4.2-7.4 6-8.4 7.9-9.3 9.5-9.9 10.9-9.9 11.9-9.4 12.5-8.7 12.5-7.2 11.9-5.3 10.8-3.2 8.7-.5 6.5 2 3.4 4.3 .3 6.5 -2.8 7.6 -6.1 8.4 -8.4 8.1 -9.9 7.1 -10.6 5.6 -10.2 4 -8.7 2.1 -6.9 .7 -4.6-.3 -2.4-.6 -.7-.7 .4-.3 .9 0 .8 .2 .4 .1 -.1-.4 -.2-1.3 -.1-2.1 .6-3.1 1.8-3.9 2.8-4.1 4.2-3.9 4.9-3.4 5.2-2.5 5-1.5 4.2-.5 2.9 .4 1.7 .9 .4 1.1 -.6 1.1 -1.2 .9 -1.4 .7 -1.4 .6 -1 .7 -.9 1 -.7 1.6 -1 2.5 -1.4 3.1 -2.2 3.9 -3.2 4.4 -4.1 4.5 -5.1 4.3 -5.5 3.8 -5.8 2.9 -5.4 1.9 -4.7 .8 -3.5-.4 -2.1-1 -.8-1.5 .6-1.6 1.4-1.2 2-.4 1.9 .5 1.4 1.5 .3 2.3 -.7 2.7 -2.1 2.8 -3 2.4 -3.5 1.5 -3.5 .3 -3-.9 -1.6-2.2 -.2-3.1 1.4-3.6 3-3.4 4-2.9 4.6-1.6 4.3-.2 3.4 1.6 1.9 3.3 0 4.7 -2.4 6.1 -4.4 6.7 -6.4 6.8 -7.8 6.3 -8.6 5.2 -8.6 3.2 -7.8 1.2 -6.2-1.2 -3.8-3.8 -1.2-5.9 2.2-8 5.2-9 7.9-9.6 10.3-9.4 11.6-8.5 12.2-7 11.7-5.3 10.6-3.3 8.6-1.3 6.5 .5 3.6 2.2 1.4 3.4 -1 4.2 -3 4.9 -4.4 5 -5.6 4.8 -6.2 4.5 -6.3 3.9 -6.2 3.1 -5.6 2.5 -4.7 1.7 -3.9 1.4 -2.9 1.1 -2.2 1.2 -1.7 1.3 -1.4 1.6 -1.5 1.8 -1.7 1.8 -2.1 1.3 -2.3 .7 -2.1-.5 -1.6-1.6 -.6-2.8 .8-3.7 2.2-3.9 3.7-3.7 4.7-2.7 5-1.1 4.5 .7 3.3 2.3 1.1 4.1 -1.2 4.8 -3.4 4.8 -5.3 4.1 -6.1 2.7 -6.1 .6 -5-1.3 -3-3.2 -.5-4.6 2-5.4 4.4-5.6 6.1-5.3 6.9-4.6 7.1-3.7 6.6-2.9 5.6-2.2 4.6-1.8 3.6-1.5 2.6-1.5 2.2-1.5 1.9-1.6 1.9-1.6 1.9-1.5 2-1.2 2-.9 1.9-.3 1.6 .3 1 1.1 .3 1.9 -.5 2.6 -1.6 3.2 -2.5 3.5 -3.4 3.6 -4.2 3.3 -4.5 2.8 -4.5 1.8 -4.2 .7 -3.3-.6 -2.1-1.7 -.7-2.7 1-3.4 2.4-3.4 3.6-3 4.2-2.2 4.4-1 3.7 .8 2.6 2.3 .8 3.9 -1.2 5.2 -3.1 6.1 -5.3 6.8 -6.7 6.8 -8 6.6 -8.6 5.8 -8.7 4.9 -8.1 3.3 -7.3 2 -5.8 .2 -4.1-1.7 -2.3-3.2 .2-5.1 2.3-6.3 4.6-7.3 6.6-7.9 8.1-8.2 9.5-8 10.1-7.6 10.4-7 10.1-6.2 9.6-5.4 8.6-4.4 7.8-3.5 6.6-2.5 5.5-1.2 4.3-.1 2.8 1.5 1.4 2.8 -.2 4.4 -2.1 5.7 -3.8 6.9 -5.9 7.8 -7.5 8.1 -8.9 8 -9.9 7.4 -10.4 6.1 -10 4.1 -9.2 2.1 -7.3-.4 -5-2.9 -2.3-4.8 1.1-6.8 4-7.8 6.6-8.3 8.8-8.1 10-7.3 10.5-5.9 10.2-4.5 9-2.7 7.3-.9 5.4 .6 3 2.2 .9 3.3 -1.1 4.4 -3 5.2 -4.3 5.8 -5.8 6.5 -6.7 6.7 -7.6 6.9 -8.1 6.9 -8.6 6.7 -8.8 6.1 -8.8 5.3 -8.3 4.1 -7.6 2.7 -6.6 1.3 -4.9-.6 -3.2-2 -1.2-3.6 .9-4.9 2.8-5.6 4.9-6 6.3-5.9 7.3-5.1 7.6-3.9 7.4-2.3 6.2-.2 4.7 1.6 2.5 3.6 0 5.2 -2.3 6.2 -5 7 -6.7 7.1 -8.2 6.5 -8.9 5.8 -8.9 4.6 -8.2 3.1 -7.1 1.8 -5.5 .5 -3.7-.5 -2.2-1.3 -.3-1.9 .8-2 1.8-2.2 2.4-2.1 2.6-2.2 2.7-2.4 2.7-2.8 2.8-3.5 3.1-4.5 3.7-5.4 4.6-6.5 5.8-7.1 7.1-7.6 8.4-7.6 9.1-7 9.7-5.9 9.5-4.6 8.7-2.8 7.3-.9 5.6 .8 3.1 2.7 .9 4.1 -1.5 5.4 -3.6 6.1 -5.4 6.4 -7 6.2 -7.9 5.6 -8.1 4.3 -7.8 2.8 -6.9 1.1 -5.2-1 -3.3-2.7 -.9-4.4 1.6-5.5 3.6-6.2 5.9-6.3 7.2-5.7 7.9-4.7 7.8-3.3 7.2-1.7 5.7 .2 3.9 1.9 1.7 3.4 -.5 4.7 -2.6 5.5 -4.7 6.1 -6.1 6.3 -7.1 6.1 -7.8 5.7 -7.9 5.2 -7.7 4.3 -7.2 3.4 -6.3 2.5 -5.3 1.6 -4.3 .8 -3-.1 -1.8-.6 -.8-1 .2-1.3 .8-1.3 1.4-1.3 1.6-1.5 1.6-1.8 1.8-2.2 1.9-3 2.3-4.2 2.9-5.3 4.1-6.4 5.4-7.3 6.9-7.7 8.4-7.5 9.3-6.7 9.8-5.2 9.4-3.2 8.4-1 6.1 1.5 3.7 3.6 .7 5.3 -2.2 6.6 -4.8 7.3 -7.1 7.5 -8.5 7.2 -9.3 6.6 -9.5 5.6 -9.1 4.5 -8.1 2.9 -7 1.3 -5.4-.8 -3.4-2.9 -1.4-4.9 1.5-7.2 4-8.8 6.8-9.7 9.3-10 11.3-9.3 12.5-7.6 12.6-5.3 11.5-2.4 9.3 .7 6.4 3.5 2.3 6.6 -1.3 8.4 -5.3 9.7 -8.5 10.4 -10.9 10.2 -12.6 9.1 -13.2 7.9 -12.7 6 -11.5 4 -9.7 2 -7.2-.2 -4.7-1.8 -2.1-3.4 .6-4.4 2.5-5.1 4.6-5.3 5.8-5 6.5-4.5 6.6-3.6 6.4-2.6 5.4-1.5 4.5-.3 3.1 .8 1.6 2 .3 3 -1.3 4.1 -2.7 4.9 -4.1 5.5 -5.3 5.9 -6.2 6 -7.2 5.4 -7.5 4.4 -7.5 3.1 -6.7 1.1 -5.5-.7 -3.4-3.2 -1.2-5 1.5-6.6 4.2-7.8 6.6-8.3 8.8-8.2 10-7.4 10.5-6 10.3-4.3 9.2-2.4 7.3 .1 5.2 2 2.5 4 -.4 5.6 -2.9 6.5 -5.5 6.9 -7.3 6.6 -8.4 5.6 -8.7 3.9 -8.3 2.1 -6.7-.3 -4.7-2.2 -2.1-4 .7-5.1 3-5.8 5.4-5.7 6.6-5.2 7.4-4.1 7.2-2.9 6.4-1.5 5-.2 3.4 .8 1.6 1.4 .1 1.6 -1.1 1.4 -1.9 .6 -2-.1 -1.6-1.1 -.8-1.9 .3-2.4 1.7-2.7 2.5-2.3 3.1-1.7 3.3-.7 3 .4 1.9 1.5 .7 2.4 -.7 3 -2.1 3.3 -3.1 3.3 -3.9 3.2 -4.3 3 -4.2 2.7 -4 2.7 -3.7 2.8 -3.4 3 -3.4 3.2 -3.6 3.4 -3.8 3.2 -4.2 2.8 -4.2 1.6 -4.1 .3 -3.2-1.6 -1.9-3.5 -.2-5.3 2.5-7 4.7-8 7.1-8.4 9.1-8 10.3-7 10.6-4.8 10-2.8 8.4 0 5.9 2.6 3.1 4.9 -.6 7.2 -3.7 8.5 -6.7 9.4 -9.3 9.7 -11 9.4 -12.1 8.4 -12.2 7.3 -11.8 5.8 -10.5 4.1 -9.1 2.6 -6.9 .7 -5-.8 -2.8-2.3 -.7-3.7 1.2-4.9 3.3-6.3 4.9-7.4 6.5-8.3 8.2-9.1 9.4-9.5 10.8-9.5 11.6-8.9 12.1-7.9 11.9-6.2 11.3-4.2 9.6-1.5 7.6 .9 4.8 3.6 1.5 6.1 -1.5 8.2 -5.2 10.1 -8.1 11.3 -10.8 12.2 -13 12.6 -14.5 12.5 -15.6 11.8 -16 10.7 -15.7 9.1 -14.8 6.9 -13.5 4.4 -11 1.1 -8.4-1.8 -4.9-5.2 -1-8.2 2.8-10.6 7.3-12.8 10.8-13.9 14-14.4 16.4-14 17.8-13 18.3-11.2 17.6-9.1 16.1-6.9 13.9-4.4 11.3-2.4 8.1 0 5.3 1.7 2.4 3.4 -.2 4.9 -2.4 6.2 -4.7 7.7 -6.4 8.9 -8.2 9.9 -9.9 10.9 -11.4 11.2 -12.9 11 -13.8 10.2 -14.3 8.4 -13.9 5.8 -12.7 2.9 -10.1-1.2 -7-4.6 -2.7-7.9 2.1-10.3 6.2-11.5 10.7-11.1 13.3-9.5 14.6-6.4 14-2.2 11.7 1.9 7.1 7 2.3 10.4 -3.7 13 -9.3 14.1 -13.6 13.6 -17 10.9 -17.9 7.5 -16.7 2.9 -13.4-2.3 -9-6.7 -2.3-11 3.5-13.5 9.5-14.4 14.5-13.7 17.2-11.5 18.4-7.4 17.1-3.1 13.8 1.9 8.7 6.6 3.3 10 -3.7 12.7 -8.9 13.2 -13.4 12.1 -16.2 9.4 -16.8 5.6 -14.8 .2 -11.4-4.6 -5.9-9.5 .4-13.3 6.5-15.5 13.2-16.1 17.2-14.9 20-11.6 20.3-7.1 18.5-2.2 13.8 4.2 8.3 8.9 1.3 13.2 -6 15.8 -11.9 16.5 -17.5 15.2 -20.3 12.5 -20.8 8.1 -19 2.9 -15.3-2 -9.1-7.4 -2.9-10.8 3.8-13 9.9-13.6 14.1-12.5 16.9-9.3 17.2-5.5 15.1-.9 11.3 4 6.5 7.8 -.1 11.3 -5.6 12.8 -10.8 12.9 -14.6 11.4 -16.4 8.7 -16.2 4.4 -14.1 .3 -10.1-4.2 -5-7.9 .2-10.5 6.3-11.9 10.5-11.8 13.8-10.1 15.1-7.2 14.8-4 12.2 .3 8.7 3.6 4.1 6.4 -.9 8.1 -4.9 8.5 -8.7 7.5 -10.4 5.6 -10.7 2.9 -9.2-.2 -6.9-2.9 -2.9-5.5 .7-6.8 4.3-7.4 7.2-7 8.8-5.9 9.4-4.1 8.7-2.5 7.1-.9 5 .4 2.9 .8 .7 .9 -.5 .2 -1.1-.7 -1-2.1 -.2-3.2 1.2-4.4 2.8-5 4.3-5.2 5.7-4.9 6.4-4.2 6.6-2.6 6.2-1.3 4.9 .6 3.2 2.2 1.4 3.7 -1.2 5.1 -3 5.8 -5 6.5 -6.6 6.8 -7.5 6.8 -8.3 6.8 -8.6 6.7 -8.7 6.6 -8.5 6.6 -8.5 6.6 -8.4 6.6 -8.4 6.6 -8.3 6.4 -8.4 6 -8.4 5.2 -8 3.8 -7.5 2.2 -6.4-.2 -4.6-2.9 -2.5-5.5 .9-8.8 4-11.1 7.8-13 11.5-14.1 14.4-14 16.9-12.7 17.9-10.7 17.5-7.6 15.9-4.2 13.2-1 8.8 2.6 4.8 4.9 .4 6.7 -3.6 7.7 -6.5 8 -8.8 7.7 -9.9 7 -10.1 6 -9.6 4.9 -8.8 3.9 -7.3 2.7 -6.1 1.8 -4.7 .8 -3.3 0 -2.1-.8 -.9-1.6 .2-2.1 1.2-2.8 2.1-3.4 2.8-3.8 3.7-4.4 4.3-4.6 5-4.6 5.5-4.5 5.9-3.9 5.9-2.7 5.5-1.6 4.8-.1 3.3 1.5 1.8 2.8 -.3 3.9 -2.1 4.5 -3.8 4.7 -5.1 4.5 -5.7 4.1 -6 3.2 -5.6 2.6 -5 1.8 -4 1.2 -3.1 .8 -2.2 .2 -1.5 0 -.8-.4 -.3-.8 .1-1.1 .6-1.5 1-1.9 1.5-2.3 2-2.7 2.4-3.2 3.1-3.7 3.5-4.1 4.1-4.7 4.8-5.1 5.3-5.4 6-5.5 6.5-5.3 7-4.4 6.9-3.1 6.6-1.6 5.4 1 3.7 3.2 1.4 5.6 -1.5 7.9 -4.3 9.5 -7.8 10.8 -10.3 11 -12.4 10.5 -13.6 9.3 -14 7.7 -13.1 5.2 -11.6 3 -9.2 .6 -6.3-1.7 -3.5-3.5 -.1-5.1 2.4-5.9 4.8-6.5 6.6-6.4 7.6-6 8.3-5 8-4 7.4-2.6 6.3-1.3 4.8-.2 3.1 1 1.4 1.4 -.1 1.5 -1.2 1.2 -1.9 .4 -1.9-.9 -1.4-2.3 -.2-3.7 1.3-5 3.1-5.9 5-6.7 6.5-6.8 7.8-6.7 8.4-6.1 8.7-5.4 8.3-4.3 7.7-3.3 6.6-2.1 5.3-1.1 4 .1 2.5 1.3 1.1 2.5 -.3 3.9 -1.8 5.5 -3.4 6.9 -5.3 8.9 -7.2 10.2 -9.2 11.5 -11.4 12.3 -13.1 12.5 -14.9 11.6 -15.7 10.2 -15.6 7.8 -14.6 4.6 -12.7 1.5 -9.1-2.4 -5.5-5.5 -1-8.2 3.5-10.3 7.4-11.2 11-11.2 13.2-10.5 14.3-8.9 14.2-6.9 13.1-4.9 10.9-2.4 8.4-.8 5.6 .8 2.9 1.8 .7 2.3 -1.3 2.5 -2.4 2.5 -3 2.4 -3.1 2.7 -3.2 3.1 -3.1 3.9 -3.5 4.7 -4.1 5.5 -5 6 -6.1 6.1 -7.1 5.3 -7.7 4.2 -7.6 2.1 -6.6-.1 -5-2.3 -2.2-4.7 .4-6.3 3.6-7.5 6.2-7.8 8.2-7.6 9.6-6.6 9.9-5.5 9.5-4 8.3-2.4 6.7-1 4.7 .7 2.8 1.7 .8 2.9 -.9 3.7 -2.4 4.2 -3.9 4.7 -4.8 4.7 -5.5 4.6 -5.9 4.2 -6 3.6 -5.7 3 -5.2 2.3 -4.5 1.7 -3.7 1.1 -2.9 .5 -1.9-.1 -1.3-.4 -.5-1 .1-1.4 .7-1.9 1.3-2.3 1.9-2.5 2.4-2.9 3-2.9 3.3-2.9 3.6-2.7 3.7-2.3 3.7-2.1 3.3-1.6 3-1.3 2.5-1.1 2-.8 1.6-.7 1.3-.5 1-.5 .8-.3 .7-.3 .6-.1 .4 0 .3 .2 .1 .6 -.1 .9 -.3 1.5 -.7 2.5 -1.2 3.5 -2.2 4.8 -3.2 6 -4.7 6.8 -6.4 7.1 -7.7 6.7 -8.8 5.2 -9 2.9 -8.2 0 -6.2-3.5 -3.5-6.6 1-9.7 4.9-11.6 9.1-12.4 12.6-12.2 14.8-11 15.9-8.5 15.3-6 13.4-3.1 10.4-.6 7.3 1.5 3.3 3.3 .3 4.1 -2.3 4.5 -4.3 4.6 -5.2 4.5 -5.9 4.3 -5.8 4.1 -5.7 3.9 -5.3 4 -5.2 3.9 -5 4 -5 4.2 -5 4.5 -5.1 4.8 -5.3 5.2 -5.7 6.1 -6.2 6.7 -6.8 7.5 -7.8 8.1 -8.6 8.3 -9.7 8 -10.3 7 -10.5 5.2 -10 2.5 -8.7-.5 -6-4.8 -2.8-8.3 1.6-12 6.5-15.1 11-16.8 16.1-17.5 19.4-16.7 21.7-14.4 22.1-10.8 21-7 17.4-1.8 13.2 2 7.7 5.8 1.8 8.3 -3.2 9.7 -8.1 10.1 -10.8 9.6 -12.5 8.4 -12.7 7 -12 5.8 -10.4 4.3 -8.7 3.4 -6.9 2.6 -5.4 1.8 -4.2 1.1 -3 .2 -2.2-.5 -1.2-1.4 -.2-2.2 .7-2.9 2-3.4 2.9-3.8 3.8-3.9 4.5-3.8 4.8-3.4 4.9-2.8 4.7-1.9 4.3-.9 3.4 .6 2.4 2.1 .7 4.2 -1 5.8 -3.1 7.7 -5.5 9.2 -7.6 10.2 -10.1 10.9 -11.9 10.6 -13.2 9.7 -13.7 8 -13.5 5.7 -11.9 2.2 -9.8-1 -6.5-4.8 -2.3-8.5 1.7-11.5 7.1-14.3 11.1-16 15.3-16.8 18.5-16.7 20.4-15.6 21.4-13.5 21-11.2 19.4-8.3 16.8-5.2 13.9-2.4 9.7 .6 6.1 2.8 2.4 4.9 -1.1 6.6 -3.9 7.7 -6.7 8.8 -8.5 9.3 -10 9.5 -11.2 9.4 -11.9 9 -12.1 8 -11.8 7 -11.2 5.7 -10.1 4.2 -8.7 3 -6.8 1.6 -5.2 .6 -3.4-.3 -1.9-1 -.6-1.6 .5-2.4 1.3-3.3 2.3-4.2 3.2-5.4 4.2-6.2 5.7-7.1 6.9-7.4 8.1-7.1 9.1-6.1 9.3-4.7 8.9-2.2 7.5 0 5.4 2.6 2.6 4.8 -.3 6.5 -3.9 7.8 -6.5 8 -8.6 7.6 -9.8 6.6 -10.2 5.4 -9.4 3.7 -8.3 2.4 -6.4 1 -4.5 .1 -2.8-.9 -1.1-1.7 .1-2.7 1.3-3.7 2.3-5 3.5-6.1 5-7.4 6.5-8 8.1-8 9.5-7.3 10.1-5.9 10.1-3.3 9.1-.9 6.9 2 3.9 4.8 .7 6.6 -3.3 8.3 -6.2 8.7 -8.9 8.4 -10.6 7.5 -11 6.1 -10.6 4.1 -9.3 2.4 -7.3 .3 -5-1.4 -2.6-2.7 0-4 1.9-4.7 3.9-5 5.1-5 6-4.5 6.4-3.6 6.3-2.7 5.5-1.5 4.5-.3 3.2 .5 1.6 1.1 .3 1.2 -.8 .9 -1.5 0 -1.5-.9 -.9-2.1 .1-2.9 1.4-3.2 2.8-3.1 3.7-2.3 4.2-.8 3.8 .8 2.6 2.5 .7 3.7 -1.2 4.4 -3.5 4.1 -4.9 3.2 -5.5 1.5 -5.2-.6 -3.8-2.5 -1.4-4.5 1-5.5 3.7-5.7 5.9-5.2 7-4 7.3-1.9 6.4 .2 4.6 2.6 2.1 4.7 -.6 6.4 -3.8 7.9 -6.2 8.7 -8.5 9.2 -10.1 9.1 -11.2 8.8 -11.6 8.1 -11.6 7.3 -11 6.3 -10.2 5 -9.1 3.9 -7.6 2.4 -6.3 1.1 -4.6-.3 -2.9-1.8 -1.2-3 .8-4.4 2.4-5.5 4.2-6.4 5.8-7.1 7-7.6 8.3-8 9.1-8.3 9.8-8.5 10.2-8.7 10.5-8.7 10.9-8.6 11-8.1 11-7.2 10.8-5.8 10.2-3.9 8.9-1.2 7 1.4 4.4 4.4 1.2 7.3 -2.2 9.5 -6.3 11.5 -9.6 12.4 -12.5 12.7 -14.8 11.9 -15.9 10.6 -15.9 8.3 -14.9 6.1 -13 3.4 -10.3 .8 -7.3-1.4 -3.6-3.6 -.7-4.9 2.3-5.9 4.7-6.5 6.4-6.8 7.7-6.7 8.3-6.6 8.5-6.5 8.6-6.4 8.3-6.3 8.2-6.4 8.1-6.4 8.1-6.3 8.1-6.1 8.1-5.6 7.9-4.9 7.6-4.1 7.1-3.1 6.1-2.1 5.1-1.1 3.6-.4 2.4 .1 1.3 .3 .4 .3 -.2 .2 -.4 .1 -.3 .4 -.2 1 -.2 2 -.6 3.4 -1.4 5.3 -2.8 7.1 -4.6 8.9 -7 10.5 -9.3 11.4 -11.7 11.7 -13.4 11.5 -14.6 10.4 -14.9 8.9 -14.5 7.1 -12.8 4.9 -11 3 -8.6 1.2 -5.9-.5 -3.6-1.8 -1-3.4 .8-4.7 2.6-6.3 4.6-7.9 6.2-9.3 8.3-10.8 10.2-11.6 12.2-11.8 13.8-11.4 14.7-10.3 15-8.2 14.3-5.9 12.6-3.3 10.1-.5 7.2 1.8 3.5 4.3 .3 5.9 -2.9 7.2 -5.7 8 -7.7 8.3 -9.3 8.1 -10.2 7.7 -10.6 6.7 -10.2 5.5 -9.7 4.1 -8.2 2.4 -6.8 .9 -4.8-.6 -2.8-2 -1-2.8 1.2-3.5 2.6-3.6 3.8-3.5 4.4-2.9 4.6-2.3 4.3-1.2 3.7-.3 2.6 .8 1.4 1.6 .2 2.2 -1.1 2.8 -2.2 2.9 -3 3 -3.5 2.8 -3.8 2.6 -3.7 2.4 -3.5 2.3 -3.3 2 -3 1.9 -2.8 1.6 -2.6 1 -2.4 .2 -1.9-.9 -1.1-2.3 -.2-3.7 1.5-5.1 3.2-6 4.9-6.5 6.7-6.2 7.7-5.3 8.2-3.8 7.8-1.9 6.4 0 4.5 2 2.3 3.3 -.6 4.5 -2.7 4.8 -4.6 4.8 -5.7 4.3 -6.1 3.7 -6 3 -5.4 2.4 -4.5 1.9 -3.7 1.5 -3 1.2 -2.3 .7 -1.9 .2 -1.4-.4 -.8-1.3 -.2-1.9 .8-2.6 1.6-2.8 2.6-2.8 3.4-2.4 3.6-1.6 3.5-.5 2.9 .4 1.8 1.4 .6 1.9 -.7 2.3 -2 2 -2.5 1.7 -2.9 .8 -2.5 .1 -2-.8 -.9-1.6 .1-2.1 1.1-2.7 2.1-3.1 2.8-3.5 3.5-3.8 4-4.3 4.5-4.5 5-4.6 5.4-4.4 5.7-3.8 5.8-2.9 5.6-1.4 4.7 .3 3.5 2.1 1.4 4.3 -.7 5.9 -3.2 7 -5.7 7.7 -7.6 7.6 -9.2 6.7 -9.7 5.4 -9.5 3.6 -8.3 1.6 -6.7-.3 -4-2.1 -1.8-3.2 .8-4 2.9-4 4.2-3.7 5.1-2.7 5.2-1.6 4.4-.2 3.3 1.1 1.8 2.1 -.1 2.7 -1.5 3 -2.8 2.7 -3.6 2 -3.7 1.2 -3.3 0 -2.5-.8 -1.2-1.7 .1-2 1.2-2.3 2.2-2 2.7-1.8 2.8-1.3 2.5-1.1 2.2-1 1.6-1.2 1.3-1.5 1.3-2.1 1.6-2.6 2-2.9 2.8-2.8 3.3-2.3 3.7-1.4 3.5 0 2.9 1.4 1.4 3.1 -.2 4.2 -2.1 4.8 -4.1 4.8 -5.4 4 -6.3 2.3 -6 .3 -4.8-2.4 -2.6-5.1 0-7.4 3.8-9.6 6.8-10.8 9.9-11.1 12.4-10.5 13.7-9.2 14.1-6.5 13.2-3.8 11.1-.3 7.9 3.2 4.3 6.1 -.5 9.2 -4.4 10.9 -8.6 12.1 -11.9 12.2 -14.1 11.7 -15.4 10.3 -15.5 8.8 -14.5 7 -12.9 5.4 -10.9 4 -8.5 2.6 -6.5 1.6 -4.8 .6 -3.1-.5 -2-1.6 -.4-3 .7-4.2 2.3-5.4 4-6.5 5.5-7 7.2-7.4 8.3-7.2 9-7 9.3-6.6 9.2-6.2 8.8-6 8.2-5.9 7.9-5.7 7.5-5.4 7.4-4.9 7.3-3.7 6.8-2 6 .3 4.4 3 2.3 5.6 -1 8.7 -4.1 10.8 -7.9 12.3 -11.3 13 -13.9 12.6 -16 11.1 -16.4 9.1 -15.8 6.2 -13.8 3.3 -11.1 .5 -7.2-2.1 -3.7-3.8 -.1-4.6 3-4.7 5-3.9 6-2.3 5.8-.7 4.6 1 2.7 2.3 .7 2.9 -1.7 2.6 -3 1.6 -3.7-.3 -3.2-2.5 -1.8-4.7 .9-7.1 3.5-8.4 6.6-9 9.1-8.9 10.8-7.8 11.5-5.9 11.1-4.1 9.6-2 7.2-.2 4.8 .7 2.1 1.3 .2 1.2 -1.2 .7 -1.6 .1 -1.5-.2 -.8-.2 0 .4 .3 1.7 .2 3.4 -.7 5.1 -2.5 7.2 -4.5 8.5 -7 9.3 -9.3 9.1 -10.9 8.3 -11.9 6.2 -11.5 3.7 -10.1 .6 -7.5-2.7 -4.3-5.5 0-8.3 3.8-10 7.7-11 10.9-11 12.9-10.2 14-8.5 13.8-6.6 12.6-4.4 10.5-2.3 8.1-.7 5.1 .8 2.7 1.5 .5 2.1 -1.2 2.3 -2 2.5 -2.7 2.8 -3 3.3 -3.2 4.1 -3.7 5.1 -4.2 5.9 -5.4 7.1 -6.6 7.6 -7.8 7.9 -9 7.7 -9.8 6.9 -10 5.3 -9.6 3.7 -8.4 1.5 -6.6-.8 -4.4-2.9 -1.3-4.8 1.3-6.2 4.1-6.8 6.4-7 7.9-6.4 8.8-5.3 8.8-4 7.9-2.2 6.5-.7 4.8 .8 2.5 2.4 .6 3.6 -1.4 4.7 -3.2 5.7 -4.7 6.5 -6.2 7 -7.4 7.2 -8.3 6.9 -9 5.9 -9.1 4.4 -8.5 2.1 -7.3-.2 -5.2-3.1 -2.3-5.8 .6-8.1 4.6-10.1 7.8-11.2 10.7-11.6 13-11.2 14.3-10.1 14.7-8.3 14-6.2 12.5-3.7 10.2-1.2 7.6 1.2 4.1 3.7 1.1 5.4 -2.1 6.8 -5 7.5 -7 7.6 -8.9 6.9 -9.5 5.7 -9.6 3.9 -8.5 1.7 -7.1-.4 -4.4-2.9 -1.9-4.4 1.1-5.4 3.9-5.7 5.7-5 7.2-3.2 7.1-.8 6 2 3.7 5.1 .7 7.5 -3.3 9.6 -6.8 10.3 -10.1 9.7 -12.3 7.9 -13.1 5.1 -12.1 .5 -9.6-3.7 -5.4-8.5 -.1-12.6 5.3-15.7 11.9-17.6 16.5-17.7 20.4-16 22.4-12.8 22.3-8.5 19.8-2.5 15.6 2.9 9.5 8.6 2.3 13.4 -4.4 16.4 -12.2 18.2 -17.5 17.7 -21.4 15.5 -23 11.4 -22.4 6.7 -18.8 .2 -13.8-5.2 -7-10.6 .5-14.7 7.4-16.8 14.6-17.5 19-16 21.7-12.7 21.9-8.1 20-3 15.1 3.3 9.6 8.3 2.4 12.6 -5 15.7 -11.1 16.9 -17 16.2 -20.1 14.1 -21.4 10.4 -20.4 5.6 -17.5 .9 -12-4.7 -6.4-8.6 .1-11.9 6.5-13.6 11.5-13.9 15.7-12.2 17.4-9.7 17.3-5.8 15.2-1.3 11.8 2.6 6.3 6.9 1.2 9.6 -4.4 11.3 -9.3 11.4 -12.4 10.2 -14.5 7.3 -14.4 4 -12.4-.3 -8.8-4.7 -4.5-8.2 1.5-11.5 6.4-13.1 11.3-13.5 14.9-12.4 16.7-10.3 17-6.6 15.5-2.9 12.3 1.2 7.9 5.1 3.2 8 -2.7 10.5 -6.9 11.5 -10.8 11.6 -13.5 10.7 -14.7 9.3 -14.5 7 -13.4 5 -11.3 3 -8.6 1.1 -6.1 0 -3.2-1.2 -1.3-1.6 .4-1.9 1.5-1.9 2.1-1.8 2.5-1.5 2.4-1.2 2.1-.9 1.9-.7 1.5-.4 1.1-.2 .8-.1 .5 0 .3 .1 0 .2 0 .2 -.2 .4 -.2 .4 -.3 .3 -.4 .4 -.5 0 -.5-.3 -.4-.8 0-1.2 .4-1.7 1.1-1.8 1.7-1.6 2.2-1 2.2-.2 2 .8 1.1 1.8 .1 2.4 -1.2 2.4 -2.4 1.8 -3 .7 -3.1-1.3 -2.2-3.2 -.5-5.3 2-7.2 4.3-8.2 7.3-8.5 9.3-8 10.5-6.5 10.8-4.3 10-1.8 7.7 1.3 5.1 3.9 1.6 6.4 -2 8.6 -5.2 10.1 -8.8 11.5 -11.1 12.2 -13.3 12.6 -14.6 12.6 -15.6 12.2 -16 11.5 -15.9 10.3 -15.3 8.9 -14.4 6.9 -13 4.7 -10.7 1.9 -8.5-.8 -5.4-3.7 -2-6.7 1.4-9 5.5-11.4 8.7-12.8 12.1-13.4 14.7-13.2 16.3-12.1 17.1-9.8 16.6-7.2 14.9-3.9 12-.7 8.7 2 4.2 4.3 .5 5.4 -3.1 5.6 -5.7 4.8 -7 3.4 -6.9 1.3 -5.9-.3 -3.9-2 -1.5-3 .7-3.3 2.8-2.9 3.9-2.1 4.1-.8 3.6 .5 2.5 1.7 .8 2.9 -.8 3.7 -2.5 4.2 -3.8 4.6 -4.8 4.6 -5.4 4.5 -5.8 4.4 -5.8 4 -5.8 3.6 -5.5 2.9 -5 1.8 -4.4 .6 -3.5-1 -2.1-2.8 -.6-4.7 1.7-6.8 3.8-8.4 6.4-10 8.9-10.9 10.9-11.2 12.9-10.9 13.9-10 14.3-8.3 13.7-5.9 12.5-3.4 9.9 .1 7.2 3 3.6 6.3 -.6 9.3 -4.3 11.4 -8.7 13.4 -12.1 14.2 -15 14.3 -17.1 13.6 -18.1 12.3 -18.1 9.9 -17 7.6 -15.1 4.7 -12.2 1.9 -9.3-.6 -5.3-3.3 -2-5.1 1.4-6.7 4.4-7.8 6.7-8.6 8.8-8.8 10.1-8.7 10.9-8.1 11.2-6.9 11-5.5 10-3 8.6-.6 6.4 2.4 3.5 5.3 .4 7.6 -3.7 9.9 -7.1 10.7 -10.3 10.5 -12.6 8.9 -13.6 6.7 -13.1 2.7 -11.1-.8 -7.6-4.9 -3-8.4 1.6-11 7.1-13.1 11.1-13.9 14.6-13.7 16.8-12.6 17.6-11 17.1-8.6 15.8-6.4 13.5-3.8 10.6-1.4 7.7 .6 4.2 2.8 1.5 4.1 -1.3 5.2 -3.7 5.9 -5.4 6 -6.9 5.9 -7.4 5.4 -7.7 4.9 -7.3 4.4 -6.9 3.9 -6.1 3.5 -5.4 3.3 -4.8 3.1 -4.4 2.9 -4.2 2.5 -3.9 1.9 -3.6 1.2 -3.1 .3 -2.3-.8 -1.4-1.5 -.1-2.2 1.1-2.4 2.1-2.1 2.8-1.5 3.1-.5 2.5 .8 1.8 1.7 .3 2.8 -1.1 3.3 -2.4 3.5 -3.6 3.3 -4.2 3.1 -4.5 2.7 -4.2 2.3 -3.9 1.9 -3.3 1.6 -2.8 1.1 -2.4 .4 -1.9-.5 -1.4-1.9 -.3-3.7 .9-5.5 2.7-7.4 5-8.9 7.2-9.8 9.8-9.9 11.4-9.2 12.6-7.4 12.5-4.9 11.5-2.1 8.9 1.6 5.8 4.6 1.8 7.7 -2.5 10 -6.3 11.6 -10.3 12.5 -13 12.5 -15 11.7 -15.8 10.4 -15.8 8.8 -14.7 6.3 -12.9 4 -10.6 1.5 -7.6-1.2 -4.9-3.4 -1.1-6 1.8-7.7 4.9-9.2 7.8-10.2 10-10.7 12-10.4 13.1-9.8 13.5-8.6 13.2-6.9 12.3-5.1 10.4-2.7 8.5-.8 5.9 1.2 3.2 3 .8 4.2 -2 5.5 -4 5.9 -5.7 6 -7 5.7 -7.5 5 -7.6 3.6 -7.2 2.3 -6 .6 -4.5-1.3 -2.7-3 -.2-4.7 1.9-5.9 4.2-6.6 6.2-6.9 7.6-6.4 8.5-5.4 8.6-4.2 8-2.7 6.6-1.3 5.1-.4 3.1 .3 1.5 .2 .3-.2 -.3-1.1 -.3-1.8 .5-2.6 1.4-2.7 2.5-2.1 3.3-.9 3.4 1 2.5 3.8 .9 6.4 -1.9 9.2 -5.2 11.4 -8.4 13 -12.3 13.8 -14.8 13.4 -16.7 12.1 -17.4 10 -17 7.5 -14.9 4.1 -12.3 1.3 -8.7-1.5 -4.8-3.9 -1.3-5.5 2.6-6.7 5.2-7.4 7.3-7.6 8.6-7.9 9.4-7.9 9.8-8.2 9.9-8.5 10.2-8.7 10.4-8.7 10.7-8.4 11.1-7.4 11-6 10.4-4.1 9.3-1.5 7.4 .9 4.5 3.8 1.7 6 -1.9 7.7 -5.1 8.9 -7.8 9.2 -10.2 8.8 -11.3 7.9 -11.7 6.6 -11.1 5 -9.9 3.5 -7.9 2.2 -6.1 1.2 -4.2 .8 -2.5 .7 -1.5 .9 -.9 1.5 -.9 1.9 -1.3 2.4 -1.9 2.6 -2.6 2.4 -3.1 1.7 -3.2 .8 -3-.5 -2-1.9 -.9-3.3 1-4.6 2.7-5.6 4.4-6.2 6.1-6.5 7.1-6.5 8-6.4 8.2-6.3 8.3-6.1 8.1-6.1 7.9-6.3 7.7-6.5 7.8-6.6 8-6.3 8.3-5.8 8.3-4.7 8-2.8 7.1-1 5.6 1.3 3.4 3.5 .9 5.3 -2.2 6.8 -4.7 7.6 -7.1 7.8 -8.8 7.3 -9.7 6.5 -9.8 5.2 -9.2 4.1 -8 2.7 -6.4 1.5 -5 .4 -3.1-.7 -1.7-1.5 -.3-2.3 1-3 2-3.2 3.2-3.1 3.7-2.5 4.1-1.4 3.9 .2 3.1 1.9 1.4 4.4 -.5 6.2 -3 8.1 -5.7 9.5 -8.2 10.2 -10.6 10.6 -12.2 10.1 -13.2 9.3 -13.3 8.1 -12.8 6.7 -11.5 5 -10 3.6 -8.2 1.8 -6.1 .1 -4.3-1.5 -1.9-3.5 .1-5.4 2.4-7.3 4.7-9.2 7-10.7 9.8-12.1 11.9-12.7 13.9-12.8 15.5-12 16.2-10.8 16-8.5 15.2-6.2 13.1-3.4 10.5-.5 7.5 1.8 3.6 4.2 .3 5.6 -2.9 6.5 -5.5 6.7 -7.3 6.3 -8.3 5.5 -8.5 4.4 -7.8 3.3 -6.8 2.1 -5.5 1.4 -3.9 .7 -2.6 .5 -1.6 .6 -.8 .8 -.6 1.2 -.7 1.9 -1.1 2.4 -1.7 2.8 -2.5 3.2 -3.1 3.2 -3.7 3 -4 2.6 -4.1 1.9 -3.7 .9 -3.2-.1 -2.2-1.4 -1-2.7 .4-4 2-5.4 3.5-6.7 5.4-8.1 7.1-9 8.8-9.6 10.3-9.8 11.6-9.3 12.3-7.7 12.4-5.8 11.5-2.9 9.5 .4 7.1 3.6 2.9 7.3 -1 10 -5.4 12.2 -9.7 13.6 -13 13.8 -16 13.2 -17.2 11.8 -17.5 9.7 -16.6 7.1 -14.7 4.7 -11.7 1.5 -8.7-.8 -5.1-3.1 -1.7-5.2 1.4-6.6 4.5-7.9 6.8-8.6 8.7-9.1 10.1-9.3 11-9.2 11.6-9 11.8-8.6 11.6-7.9 11.3-7.2 10.9-6 9.9-4.3 8.9-2.5 7.3-.2 5.2 2.3 2.9 4.7 -.3 7.3 -3.3 9 -6.6 10.3 -9.5 10.9 -11.6 10.7 -13.4 9.4 -13.8 7.9 -13.3 5.8 -11.8 3.4 -9.8 1.3 -6.7-1.1 -4-2.5 -1-3.7 1.5-4.3 3.4-4.3 4.9-4 5.5-3.5 5.4-2.7 5-2.2 4.3-1.7 3.4-1.6 2.6-1.8 2.2-2.1 2-2.6 2.2-3.1 2.8-3.4 3.4-3.4 4-3 4.4-2.1 4.2-1 3.7 .9 2.5 2.5 .9 4.5 -1.3 6.4 -3.5 7.8 -6.2 8.8 -8.3 9.2 -10.2 8.7 -11.3 7.5 -11.6 5.6 -10.9 2.6 -9.2-.1 -6.4-3.4 -3-6.2 .6-8.3 5-9.9 8.2-10.1 11-9.4 12.6-7.8 12.8-5.6 11.6-2.8 9.6-.5 6.5 1.5 3.2 2.9 .4 3.4 -2.4 3.3 -3.8 2.5 -4.4 1.4 -4 .1 -3.1-.9 -1.5-2.2 .1-2.7 1.5-3.2 2.7-3.3 3.6-3.3 4.1-2.9 4.2-2.5 4.1-1.9 3.7-1.2 3.1-.4 2.2 .6 1.4 1.5 .3 2.5 -.9 3.2 -2 3.9 -3.4 4.2 -4.2 4.2 -5 4.1 -5.3 3.7 -5.4 3.2 -5.1 2.8 -4.5 2.5 -4 2.6 -3.5 2.9 -3.3 3.2 -3.3 3.7 -3.7 3.9 -4.2 3.8 -4.7 3.1 -4.9 2.3 -4.7 .7 -3.9-.9 -2.5-2.5 -.7-3.8 1.3-4.7 3.5-5 5.1-4.6 6-3.7 6.3-2.5 5.8-1.3 4.5 .1 2.9 .7 1.3 1.1 -.2 .7 -1 .2 -1.3-1.1 -1-1.9 .1-3 1.5-3.4 2.6-3.7 3.9-3.2 4.5-2.7 4.5-1.7 4.1-.9 3.2-.1 2 .5 1 .6 0 .7 -.7 .4 -.8 .1 -.8-.2 -.4-.2 -.1-.1 .2 .3 .3 .9 .1 1.9 -.5 2.8 -1.4 3.9 -2.5 4.9 -3.7 5.6 -5.2 6.3 -6.3 6.3 -7.3 6 -7.9 5.1 -8.1 4 -7.4 2.1 -6.4 .2 -4.6-1.8 -2.4-3.8 0-5.3 2.8-6.7 5-7.3 7.2-7.3 8.5-6.7 9.3-5.6 9.2-3.9 8.4-2 6.7 .1 4.6 2 2.3 3.6 -.6 4.8 -2.8 5.3 -4.9 5.1 -6.2 4.3 -6.7 3 -6.3 1 -5.3-.6 -3.4-2.6 -1.1-4.2 1.1-5.5 3.7-6.5 5.6-6.9 7.2-6.9 8.2-6.6 8.8-6 8.8-4.7 8.3-3.3 7.3-1.6 5.8 .2 4 2 1.6 3.8 -.6 4.9 -2.9 5.7 -5 5.8 -6.4 5.3 -7.3 4 -7.3 2.5 -6.5 .7 -4.9-1 -3-2.3 -.4-3.2 1.5-3.3 3.2-2.6 4.2-1.1 4.1 .6 3 3.2 1.2 5.2 -1.4 7.2 -4.3 8.6 -6.9 9.2 -9.6 9.1 -11 8.2 -11.7 6.6 -11.4 4.6 -10.3 2.5 -7.9-.1 -5.5-2.1 -2.5-4 .4-5.7 2.9-6.9 5.5-7.9 7.4-8.6 9-9 10.2-9 10.9-8.8 11.4-7.9 11.5-7 10.9-5.3 10-3.3 8.7-1.2 6.3 1.7 3.8 4.1 .8 6.5 -2.5 8.4 -5.4 9.6 -8.8 10.1 -10.8 9.8 -12.4 8.4 -12.8 6.5 -12.3 4 -10.3 .8 -7.9-2 -4.4-4.8 -.5-7.2 2.9-8.6 6.7-9.5 9.4-9.3 11.2-8.4 12-6.9 11.8-5.2 10.3-2.9 8.5-1.3 6 .2 3.5 1.2 1.4 1.6 -.6 1.5 -1.5 1.4 -2.1 1 -1.9 .8 -1.7 .9 -1.2 1.4 -1 2 -1.3 2.8 -1.8 3.9 -2.6 4.5 -3.9 5.2 -4.9 5.4 -6 5.1 -6.6 4.5 -6.8 3.4 -6.4 1.8 -5.5 .4 -4-1.3 -2.1-2.9 -.3-4.1 2.1-5 3.9-5.4 5.4-5.2 6.4-4.6 6.8-3.7 6.6-2.4 5.7-1.1 4.4 .3 2.8 1.5 1.2 2.3 -.6 3.2 -2.1 3.5 -3.2 3.7 -4 3.6 -4.5 3.3 -4.7 2.6 -4.5 2 -4 .9 -3.3-.4 -2.4-1.8 -.9-3.7 .7-5.3 2.7-6.9 4.9-8.1 7-8.8 9.1-8.4 10.4-7.4 11.1-5.1 10.7-2 9.1 1.4 5.8 5.8 2 9.3 -2.8 12.4 -7.9 14.7 -12.1 15.6 -16.5 15.1 -18.8 13.7 -19.7 11 -19.1 7.5 -17.1 4.1 -13.1-.1 -9-3.2 -4.2-5.8 .6-7.8 4.3-8.8 8.1-9 10-8.8 11.2-8.1 11.5-7.2 11-6.3 10.1-5.4 9-4.8 7.8-4 6.7-3.2 5.9-2.4 4.9-1.1 4 .2 2.8 1.9 1.2 3.8 -.4 5.5 -2.9 7.4 -5.1 8.5 -7.4 9.2 -9.5 9.1 -10.9 8.5 -11.8 6.8 -11.5 4.9 -10.4 2.5 -8.4-.1 -6-2.2 -2.4-4.4 .4-5.5 3.4-6 5.7-5.8 7.1-5 7.6-3.6 7.3-2 6.1-.4 4.2 1 2.4 2.1 .2 2.8 -1.5 3 -2.9 2.8 -3.6 2.2 -3.8 1.4 -3.4 .1 -2.7-.9 -1.5-2.1 0-3 1.3-3.7 2.9-4.1 4-4.1 4.8-3.5 5.2-2.7 5.1-1.7 4.3-.3 3.3 .5 1.8 1.2 .3 1.2 -.8 .8 -1.6-.5 -1.5-1.9 -.7-3.6 .8-5.2 2.6-6 5-6.3 6.7-5.5 7.8-4 7.8-1.7 7 .8 4.5 3.9 1.8 6 -1.8 7.7 -5.2 8.5 -7.9 8.3 -10.1 7 -10.8 5.1 -10.3 2.6 -8.5 0 -6.2-2.2 -2.7-4.4 .3-5.6 3.4-6.3 5.8-6.1 7.2-5.6 8-4.2 7.7-3 6.8-1.4 5.2 0 3.6 1 1.4 2 -.1 2.3 -1.6 2.4 -2.6 2 -2.9 1.6 -3 1 -2.5 .5 -1.9 .2 -1.2 .1 -.6 .4 -.2 1 -.1 1.8 -.6 3 -1.4 4.1 -2.5 5.1 -4 6.1 -5.4 6.5 -6.7 6.5 -7.7 6 -8.3 5.2 -8.2 3.5 -7.6 1.9 -6.2-.1 -4.3-2.1 -2.1-3.8 .7-5.2 2.9-6 5.1-6.3" fill="none" stroke="#0072BD" stroke-width="1.6" stroke-linejoin="round" stroke-linecap="round"/>
<rect x="411.9" y="670.0" width="271.8" height="214.3" fill="none" stroke="#262626" stroke-width="2.0"/>
<path d="M451.0 884.3v-3.6M451.0 670.0v3.6M492.1 884.3v-3.6M492.1 670.0v3.6M533.2 884.3v-3.6M533.2 670.0v3.6M574.3 884.3v-3.6M574.3 670.0v3.6M615.4 884.3v-3.6M615.4 670.0v3.6M656.5 884.3v-3.6M656.5 670.0v3.6M411.9 693.4h3.6M683.7 693.4h-3.6M411.9 725.8h3.6M683.7 725.8h-3.6M411.9 758.2h3.6M683.7 758.2h-3.6M411.9 790.6h3.6M683.7 790.6h-3.6M411.9 823.1h3.6M683.7 823.1h-3.6M411.9 855.5h3.6M683.7 855.5h-3.6" stroke="#262626" stroke-width="1.5" fill="none"/>
<g font-family="'Liberation Sans', Arial, Helvetica, sans-serif" font-size="13.77" fill="#262626">
<text transform="translate(451.0 903.7) scale(1.08 1)" text-anchor="middle">-0.1</text>
<text transform="translate(492.1 903.7) scale(1.08 1)" text-anchor="middle">-0.05</text>
<text transform="translate(533.2 903.7) scale(1.08 1)" text-anchor="middle">0</text>
<text transform="translate(574.3 903.7) scale(1.08 1)" text-anchor="middle">0.05</text>
<text transform="translate(615.4 903.7) scale(1.08 1)" text-anchor="middle">0.1</text>
<text transform="translate(656.5 903.7) scale(1.08 1)" text-anchor="middle">0.15</text>
<text transform="translate(405.6 698.8) scale(1.08 1)" text-anchor="end">0.15</text>
<text transform="translate(405.6 731.2) scale(1.08 1)" text-anchor="end">0.1</text>
<text transform="translate(405.6 763.7) scale(1.08 1)" text-anchor="end">0.05</text>
<text transform="translate(405.6 796.1) scale(1.08 1)" text-anchor="end">0</text>
<text transform="translate(405.6 828.5) scale(1.08 1)" text-anchor="end">-0.05</text>
<text transform="translate(405.6 861.0) scale(1.08 1)" text-anchor="end">-0.1</text>
</g>
<g font-family="'Liberation Sans', Arial, Helvetica, sans-serif" font-size="15.91" fill="#262626">
<text transform="translate(547.3 924.2) scale(1.068 1)" font-size="15.91" text-anchor="middle">x(t)</text>
<text transform="translate(362.3 777.4) scale(1.07 1) rotate(-90)" text-anchor="middle">x(t+4)</text>
</g>
<g font-family="'Liberation Serif', 'Times New Roman', Times, serif" font-weight="bold" font-size="17.0">
<text x="392.3" y="950.7" font-size="18" fill="#0a0a0a" font-weight="normal">(f)</text>
<text x="422.5" y="950.7" textLength="141.7" lengthAdjust="spacingAndGlyphs" fill="#ff0000">Phase diagram after</text>
<text x="570.0" y="950.7" textLength="101.4" lengthAdjust="spacingAndGlyphs" fill="#0a0a0a">TQWT-ASVD</text>
</g>
</g>
</svg>
</body>
</html>
